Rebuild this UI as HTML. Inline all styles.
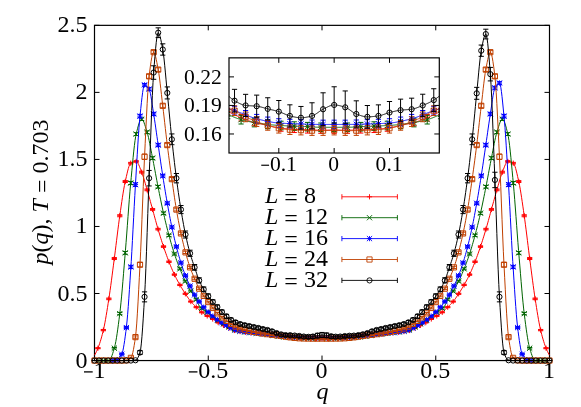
<!DOCTYPE html>
<html><head><meta charset="utf-8"><title>p(q)</title>
<style>html,body{margin:0;padding:0;background:#fff;}body{width:581px;height:407px;overflow:hidden;font-family:"Liberation Serif",serif;}svg{display:block;will-change:transform;}</style></head>
<body>
<svg width="581" height="407" viewBox="0 0 581 407">
<defs>
<clipPath id="ci"><rect x="229.0" y="57.85" width="210.3" height="95.15"/></clipPath>
</defs>
<rect width="581" height="407" fill="#fff"/>
<path d="M94.5 360.55h5.0M549.5 360.55h-5.0M94.5 293.51h5.0M549.5 293.51h-5.0M94.5 226.47h5.0M549.5 226.47h-5.0M94.5 159.43h5.0M549.5 159.43h-5.0M94.5 92.39h5.0M549.5 92.39h-5.0M94.5 25.35h5.0M549.5 25.35h-5.0M94.50 360.55v-5.0M94.50 25.35v5.0M208.25 360.55v-5.0M208.25 25.35v5.0M322.00 360.55v-5.0M322.00 25.35v5.0M435.75 360.55v-5.0M435.75 25.35v5.0M549.50 360.55v-5.0M549.50 25.35v5.0" stroke="#000" stroke-width="1" fill="none"/>
<rect x="94.5" y="25.35" width="455.0" height="335.2" fill="none" stroke="#000" stroke-width="1.2"/>
<g font-family="Liberation Serif, serif" font-size="24" fill="#000"><text x="87.4" y="367.55" text-anchor="end">0</text>
<text x="87.4" y="300.51" text-anchor="end">0.5</text>
<text x="87.4" y="233.47" text-anchor="end">1</text>
<text x="87.4" y="166.43" text-anchor="end">1.5</text>
<text x="87.4" y="99.39" text-anchor="end">2</text>
<text x="87.4" y="32.35" text-anchor="end">2.5</text>
<text x="99.60" y="378.30" text-anchor="middle">1</text><path d="M84.00 371.90H92.70" stroke="#000" stroke-width="1.30" fill="none"/>
<text x="213.35" y="378.30" text-anchor="middle">0.5</text><path d="M188.75 371.90H197.45" stroke="#000" stroke-width="1.30" fill="none"/>
<text x="321.60" y="378.30" text-anchor="middle">0</text>
<text x="435.35" y="378.30" text-anchor="middle">0.5</text>
<text x="549.10" y="378.30" text-anchor="middle">1</text>
<text x="322.5" y="399.0" text-anchor="middle" font-style="italic">q</text>
<text transform="translate(48.4 192) rotate(-90)" text-anchor="middle"><tspan font-style="italic">p</tspan>(<tspan font-style="italic">q</tspan>), <tspan font-style="italic">T</tspan> <tspan dy="1.8">=</tspan><tspan dy="-1.8"> 0.703</tspan></text></g>
<path d="M94.50 355.19L95.15 354.11L95.80 352.91L96.45 351.59L97.10 350.16L97.75 348.62L97.92 348.21L98.40 346.98L99.05 345.22L99.70 343.33L100.35 341.31L101.00 339.16L101.65 336.87L102.30 334.45L102.95 331.89L103.38 330.11L103.60 329.18L104.25 326.17L104.90 322.86L105.55 319.30L106.20 315.52L106.85 311.58L107.50 307.51L108.15 303.36L108.80 299.18L108.85 298.87L109.45 294.88L110.10 290.37L110.75 285.67L111.40 280.84L112.05 275.90L112.70 270.91L113.35 265.89L114.00 260.90L114.31 258.52L114.65 255.92L115.30 250.81L115.95 245.58L116.60 240.30L117.25 235.03L117.90 229.83L118.55 224.76L119.20 219.88L119.78 215.74L119.85 215.24L120.50 210.69L121.15 206.14L121.80 201.65L122.45 197.28L123.10 193.11L123.75 189.20L124.40 185.62L125.05 182.42L125.24 181.55L125.70 179.53L126.35 176.63L127.00 173.77L127.65 171.05L128.30 168.59L128.95 166.46L129.60 164.77L130.25 163.62L130.71 163.18L130.90 163.07L131.55 162.72L132.20 162.41L132.85 162.13L133.50 161.90L134.15 161.71L134.80 161.57L135.45 161.48L136.10 161.44L136.17 161.44L136.75 161.64L137.40 162.30L138.05 163.33L138.70 164.66L139.35 166.21L140.00 167.89L140.65 169.62L141.30 171.32L141.64 172.17L141.95 172.95L142.60 174.74L143.25 176.69L143.90 178.78L144.55 180.97L145.20 183.22L145.85 185.50L146.50 187.78L147.11 189.87L147.15 190.02L147.80 192.26L148.45 194.54L149.10 196.86L149.75 199.20L150.40 201.56L151.05 203.93L151.70 206.29L152.35 208.65L152.57 209.44L153.00 210.99L153.65 213.36L154.30 215.75L154.95 218.14L155.60 220.52L156.25 222.88L156.90 225.21L157.55 227.49L158.04 229.15L158.20 229.71L158.85 231.89L159.50 234.04L160.15 236.16L160.80 238.25L161.45 240.31L162.10 242.34L162.75 244.33L163.40 246.28L163.50 246.58L164.05 248.20L164.70 250.09L165.35 251.96L166.00 253.79L166.65 255.59L167.30 257.36L167.95 259.10L168.60 260.79L168.97 261.73L169.25 262.45L169.90 264.09L170.55 265.70L171.20 267.28L171.85 268.83L172.50 270.35L173.15 271.82L173.80 273.26L174.43 274.60L174.45 274.64L175.10 275.98L175.75 277.29L176.40 278.55L177.05 279.79L177.70 281.00L178.35 282.19L179.00 283.35L179.65 284.50L179.90 284.93L180.30 285.63L180.95 286.73L181.60 287.82L182.25 288.89L182.90 289.94L183.55 290.98L184.20 291.99L184.85 293.00L185.36 293.78L185.50 293.99L186.15 294.97L186.80 295.96L187.45 296.93L188.10 297.89L188.75 298.82L189.40 299.72L190.05 300.59L190.70 301.40L190.83 301.55L191.35 302.16L192.00 302.89L192.65 303.59L193.30 304.25L193.95 304.90L194.60 305.54L195.25 306.17L195.90 306.80L196.29 307.19L196.55 307.44L197.20 308.08L197.85 308.72L198.50 309.36L199.15 309.99L199.80 310.60L200.45 311.19L201.10 311.75L201.75 312.27L201.76 312.28L202.40 312.76L203.05 313.23L203.70 313.68L204.35 314.11L205.00 314.53L205.65 314.94L206.30 315.34L206.95 315.73L207.23 315.90L207.60 316.13L208.25 316.50L208.90 316.87L209.55 317.22L210.20 317.57L210.85 317.93L211.50 318.29L212.15 318.66L212.69 318.99L212.80 319.05L213.45 319.47L214.10 319.90L214.75 320.35L215.40 320.80L216.05 321.25L216.70 321.67L217.35 322.07L218.00 322.45L218.16 322.54L218.65 322.81L219.30 323.17L219.95 323.53L220.60 323.87L221.25 324.21L221.90 324.54L222.55 324.87L223.20 325.19L223.62 325.40L223.85 325.51L224.50 325.83L225.15 326.14L225.80 326.45L226.45 326.76L227.10 327.08L227.75 327.40L228.40 327.74L229.05 328.07L229.09 328.09L229.70 328.41L230.35 328.74L231.00 329.06L231.65 329.37L232.30 329.67L232.95 329.95L233.60 330.20L234.25 330.43L234.55 330.52L234.90 330.62L235.55 330.78L236.20 330.92L236.85 331.05L237.50 331.17L238.15 331.28L238.80 331.38L239.45 331.48L240.02 331.56L240.10 331.57L240.75 331.65L241.40 331.74L242.05 331.82L242.70 331.89L243.35 331.97L244.00 332.05L244.65 332.13L245.30 332.20L245.48 332.22L245.95 332.28L246.60 332.35L247.25 332.42L247.90 332.48L248.55 332.55L249.20 332.62L249.85 332.68L250.50 332.74L250.95 332.79L251.15 332.81L251.80 332.87L252.45 332.93L253.10 333.00L253.75 333.06L254.40 333.13L255.05 333.20L255.70 333.26L256.35 333.33L256.41 333.33L257.00 333.39L257.65 333.46L258.30 333.53L258.95 333.59L259.60 333.66L260.25 333.72L260.90 333.79L261.55 333.86L261.88 333.90L262.20 333.93L262.85 334.00L263.50 334.07L264.15 334.15L264.80 334.22L265.45 334.29L266.10 334.37L266.75 334.44L267.35 334.51L267.40 334.52L268.05 334.60L268.70 334.67L269.35 334.75L270.00 334.83L270.65 334.91L271.30 334.99L271.95 335.07L272.60 335.16L272.81 335.19L273.25 335.24L273.90 335.33L274.55 335.42L275.20 335.50L275.85 335.59L276.50 335.68L277.15 335.78L277.80 335.87L278.28 335.94L278.45 335.97L279.10 336.06L279.75 336.17L280.40 336.27L281.05 336.38L281.70 336.49L282.35 336.60L283.00 336.70L283.65 336.80L283.74 336.81L284.30 336.89L284.95 336.98L285.60 337.07L286.25 337.15L286.90 337.23L287.55 337.31L288.20 337.38L288.85 337.45L289.21 337.49L289.50 337.51L290.15 337.57L290.80 337.62L291.45 337.67L292.10 337.71L292.75 337.76L293.40 337.80L294.05 337.84L294.67 337.89L294.70 337.89L295.35 337.94L296.00 337.99L296.65 338.05L297.30 338.10L297.95 338.15L298.60 338.19L299.25 338.23L299.90 338.25L300.14 338.26L300.55 338.28L301.20 338.31L301.85 338.33L302.50 338.35L303.15 338.38L303.80 338.40L304.45 338.42L305.10 338.43L305.60 338.45L305.75 338.45L306.40 338.46L307.05 338.47L307.70 338.49L308.35 338.49L309.00 338.50L309.65 338.51L310.30 338.52L310.95 338.52L311.07 338.52L311.60 338.53L312.25 338.54L312.90 338.54L313.55 338.55L314.20 338.55L314.85 338.55L315.50 338.56L316.15 338.56L316.53 338.56L316.80 338.56L317.45 338.56L318.10 338.56L318.75 338.56L319.40 338.56L320.05 338.56L320.70 338.56L321.35 338.56L322.00 338.56L322.65 338.56L323.30 338.56L323.95 338.56L324.60 338.56L325.25 338.56L325.90 338.56L326.55 338.56L327.20 338.56L327.47 338.56L327.85 338.56L328.50 338.56L329.15 338.55L329.80 338.55L330.45 338.55L331.10 338.54L331.75 338.54L332.40 338.53L332.93 338.52L333.05 338.52L333.70 338.52L334.35 338.51L335.00 338.50L335.65 338.49L336.30 338.49L336.95 338.47L337.60 338.46L338.25 338.45L338.40 338.45L338.90 338.43L339.55 338.42L340.20 338.40L340.85 338.38L341.50 338.35L342.15 338.33L342.80 338.31L343.45 338.28L343.86 338.26L344.10 338.25L344.75 338.23L345.40 338.19L346.05 338.15L346.70 338.10L347.35 338.05L348.00 337.99L348.65 337.94L349.30 337.89L349.33 337.89L349.95 337.84L350.60 337.80L351.25 337.76L351.90 337.71L352.55 337.67L353.20 337.62L353.85 337.57L354.50 337.51L354.79 337.49L355.15 337.45L355.80 337.38L356.45 337.31L357.10 337.23L357.75 337.15L358.40 337.07L359.05 336.98L359.70 336.89L360.26 336.81L360.35 336.80L361.00 336.70L361.65 336.60L362.30 336.49L362.95 336.38L363.60 336.27L364.25 336.17L364.90 336.06L365.55 335.97L365.72 335.94L366.20 335.87L366.85 335.78L367.50 335.68L368.15 335.59L368.80 335.50L369.45 335.42L370.10 335.33L370.75 335.24L371.19 335.19L371.40 335.16L372.05 335.07L372.70 334.99L373.35 334.91L374.00 334.83L374.65 334.75L375.30 334.67L375.95 334.60L376.60 334.52L376.65 334.51L377.25 334.44L377.90 334.37L378.55 334.29L379.20 334.22L379.85 334.15L380.50 334.07L381.15 334.00L381.80 333.93L382.12 333.90L382.45 333.86L383.10 333.79L383.75 333.72L384.40 333.66L385.05 333.59L385.70 333.53L386.35 333.46L387.00 333.39L387.59 333.33L387.65 333.33L388.30 333.26L388.95 333.20L389.60 333.13L390.25 333.06L390.90 333.00L391.55 332.93L392.20 332.87L392.85 332.81L393.05 332.79L393.50 332.74L394.15 332.68L394.80 332.62L395.45 332.55L396.10 332.48L396.75 332.42L397.40 332.35L398.05 332.28L398.52 332.22L398.70 332.20L399.35 332.13L400.00 332.05L400.65 331.97L401.30 331.89L401.95 331.82L402.60 331.74L403.25 331.65L403.90 331.57L403.98 331.56L404.55 331.48L405.20 331.38L405.85 331.28L406.50 331.17L407.15 331.05L407.80 330.92L408.45 330.78L409.10 330.62L409.45 330.52L409.75 330.43L410.40 330.20L411.05 329.95L411.70 329.67L412.35 329.37L413.00 329.06L413.65 328.74L414.30 328.41L414.91 328.09L414.95 328.07L415.60 327.74L416.25 327.40L416.90 327.08L417.55 326.76L418.20 326.45L418.85 326.14L419.50 325.83L420.15 325.51L420.38 325.40L420.80 325.19L421.45 324.87L422.10 324.54L422.75 324.21L423.40 323.87L424.05 323.53L424.70 323.17L425.35 322.81L425.84 322.54L426.00 322.45L426.65 322.07L427.30 321.67L427.95 321.25L428.60 320.80L429.25 320.35L429.90 319.90L430.55 319.47L431.20 319.05L431.31 318.99L431.85 318.66L432.50 318.29L433.15 317.93L433.80 317.57L434.45 317.22L435.10 316.87L435.75 316.50L436.40 316.13L436.77 315.90L437.05 315.73L437.70 315.34L438.35 314.94L439.00 314.53L439.65 314.11L440.30 313.68L440.95 313.23L441.60 312.76L442.24 312.28L442.25 312.27L442.90 311.75L443.55 311.19L444.20 310.60L444.85 309.99L445.50 309.36L446.15 308.72L446.80 308.08L447.45 307.44L447.71 307.19L448.10 306.80L448.75 306.17L449.40 305.54L450.05 304.90L450.70 304.25L451.35 303.59L452.00 302.89L452.65 302.16L453.17 301.55L453.30 301.40L453.95 300.59L454.60 299.72L455.25 298.82L455.90 297.89L456.55 296.93L457.20 295.96L457.85 294.97L458.50 293.99L458.64 293.78L459.15 293.00L459.80 291.99L460.45 290.98L461.10 289.94L461.75 288.89L462.40 287.82L463.05 286.73L463.70 285.63L464.10 284.93L464.35 284.50L465.00 283.35L465.65 282.19L466.30 281.00L466.95 279.79L467.60 278.55L468.25 277.29L468.90 275.98L469.55 274.64L469.57 274.60L470.20 273.26L470.85 271.82L471.50 270.35L472.15 268.83L472.80 267.28L473.45 265.70L474.10 264.09L474.75 262.45L475.03 261.73L475.40 260.79L476.05 259.10L476.70 257.36L477.35 255.59L478.00 253.79L478.65 251.96L479.30 250.09L479.95 248.20L480.50 246.58L480.60 246.28L481.25 244.33L481.90 242.34L482.55 240.31L483.20 238.25L483.85 236.16L484.50 234.04L485.15 231.89L485.80 229.71L485.96 229.15L486.45 227.49L487.10 225.21L487.75 222.88L488.40 220.52L489.05 218.14L489.70 215.75L490.35 213.36L491.00 210.99L491.43 209.44L491.65 208.65L492.30 206.29L492.95 203.93L493.60 201.56L494.25 199.20L494.90 196.86L495.55 194.54L496.20 192.26L496.85 190.02L496.89 189.87L497.50 187.78L498.15 185.50L498.80 183.22L499.45 180.97L500.10 178.78L500.75 176.69L501.40 174.74L502.05 172.95L502.36 172.17L502.70 171.32L503.35 169.62L504.00 167.89L504.65 166.21L505.30 164.66L505.95 163.33L506.60 162.30L507.25 161.64L507.83 161.44L507.90 161.44L508.55 161.48L509.20 161.57L509.85 161.71L510.50 161.90L511.15 162.13L511.80 162.41L512.45 162.72L513.10 163.07L513.29 163.18L513.75 163.62L514.40 164.77L515.05 166.46L515.70 168.59L516.35 171.05L517.00 173.77L517.65 176.63L518.30 179.53L518.76 181.55L518.95 182.42L519.60 185.62L520.25 189.20L520.90 193.11L521.55 197.28L522.20 201.65L522.85 206.14L523.50 210.69L524.15 215.24L524.22 215.74L524.80 219.88L525.45 224.76L526.10 229.83L526.75 235.03L527.40 240.30L528.05 245.58L528.70 250.81L529.35 255.92L529.69 258.52L530.00 260.90L530.65 265.89L531.30 270.91L531.95 275.90L532.60 280.84L533.25 285.67L533.90 290.37L534.55 294.88L535.15 298.87L535.20 299.18L535.85 303.36L536.50 307.51L537.15 311.58L537.80 315.52L538.45 319.30L539.10 322.86L539.75 326.17L540.40 329.18L540.62 330.11L541.05 331.89L541.70 334.45L542.35 336.87L543.00 339.16L543.65 341.31L544.30 343.33L544.95 345.22L545.60 346.98L546.08 348.21L546.25 348.62L546.90 350.16L547.55 351.59L548.20 352.91L548.85 354.11L549.50 355.19" fill="none" stroke="#ff0000" stroke-width="1.0" stroke-linejoin="round"/>
<path d="M97.92 347.67V348.75M95.32 347.67H100.52M95.32 348.75H100.52M103.38 329.46V330.77M100.78 329.46H105.98M100.78 330.77H105.98M108.85 298.05V299.69M106.25 298.05H111.45M106.25 299.69H111.45M114.31 257.56V259.47M111.71 257.56H116.91M111.71 259.47H116.91M119.78 214.74V216.75M117.18 214.74H122.38M117.18 216.75H122.38M125.24 180.59V182.51M122.64 180.59H127.84M122.64 182.51H127.84M130.71 162.36V164.01M128.11 162.36H133.31M128.11 164.01H133.31M136.17 160.64V162.24M133.57 160.64H138.77M133.57 162.24H138.77M141.64 171.28V173.06M139.04 171.28H144.24M139.04 173.06H144.24M147.11 188.97V190.76M144.51 188.97H149.71M144.51 190.76H149.71M152.57 208.57V210.31M149.97 208.57H155.17M149.97 210.31H155.17M158.04 228.33V229.97M155.44 228.33H160.64M155.44 229.97H160.64M163.50 245.82V247.35M160.90 245.82H166.10M160.90 247.35H166.10M168.97 261.02V262.45M166.37 261.02H171.57M166.37 262.45H171.57M174.43 273.94V275.27M171.83 273.94H177.03M171.83 275.27H177.03M179.90 284.30V285.56M177.30 284.30H182.50M177.30 285.56H182.50M185.36 293.17V294.38M182.76 293.17H187.96M182.76 294.38H187.96M190.83 300.98V302.13M188.23 300.98H193.43M188.23 302.13H193.43M196.29 306.63V307.74M193.69 306.63H198.89M193.69 307.74H198.89M201.76 311.75V312.82M199.16 311.75H204.36M199.16 312.82H204.36M207.23 315.38V316.42M204.63 315.38H209.83M204.63 316.42H209.83M212.69 318.47V319.50M210.09 318.47H215.29M210.09 319.50H215.29M218.16 322.03V323.04M215.56 322.03H220.76M215.56 323.04H220.76M223.62 324.91V325.89M221.02 324.91H226.22M221.02 325.89H226.22M229.09 327.60V328.58M226.49 327.60H231.69M226.49 328.58H231.69M234.55 330.05V331.00M231.95 330.05H237.15M231.95 331.00H237.15M240.02 331.09V332.02M237.42 331.09H242.62M237.42 332.02H242.62M245.48 331.76V332.69M242.88 331.76H248.08M242.88 332.69H248.08M250.95 332.32V333.25M248.35 332.32H253.55M248.35 333.25H253.55M256.41 332.87V333.80M253.81 332.87H259.01M253.81 333.80H259.01M261.88 333.44V334.36M259.28 333.44H264.48M259.28 334.36H264.48M267.35 334.05V334.97M264.75 334.05H269.95M264.75 334.97H269.95M272.81 334.73V335.64M270.21 334.73H275.41M270.21 335.64H275.41M278.28 335.48V336.40M275.68 335.48H280.88M275.68 336.40H280.88M283.74 336.36V337.27M281.14 336.36H286.34M281.14 337.27H286.34M289.21 337.03V337.94M286.61 337.03H291.81M286.61 337.94H291.81M294.67 337.44V338.34M292.07 337.44H297.27M292.07 338.34H297.27M300.14 337.82V338.71M297.54 337.82H302.74M297.54 338.71H302.74M305.60 338.00V338.89M303.00 338.00H308.20M303.00 338.89H308.20M311.07 338.08V338.97M308.47 338.08H313.67M308.47 338.97H313.67M316.53 338.11V339.01M313.93 338.11H319.13M313.93 339.01H319.13M322.00 338.11V339.01M319.40 338.11H324.60M319.40 339.01H324.60M327.47 338.11V339.01M324.87 338.11H330.07M324.87 339.01H330.07M332.93 338.08V338.97M330.33 338.08H335.53M330.33 338.97H335.53M338.40 338.00V338.89M335.80 338.00H341.00M335.80 338.89H341.00M343.86 337.82V338.71M341.26 337.82H346.46M341.26 338.71H346.46M349.33 337.44V338.34M346.73 337.44H351.93M346.73 338.34H351.93M354.79 337.03V337.94M352.19 337.03H357.39M352.19 337.94H357.39M360.26 336.36V337.27M357.66 336.36H362.86M357.66 337.27H362.86M365.72 335.48V336.40M363.12 335.48H368.32M363.12 336.40H368.32M371.19 334.73V335.64M368.59 334.73H373.79M368.59 335.64H373.79M376.65 334.05V334.97M374.05 334.05H379.25M374.05 334.97H379.25M382.12 333.44V334.36M379.52 333.44H384.72M379.52 334.36H384.72M387.59 332.87V333.80M384.99 332.87H390.19M384.99 333.80H390.19M393.05 332.32V333.25M390.45 332.32H395.65M390.45 333.25H395.65M398.52 331.76V332.69M395.92 331.76H401.12M395.92 332.69H401.12M403.98 331.09V332.02M401.38 331.09H406.58M401.38 332.02H406.58M409.45 330.05V331.00M406.85 330.05H412.05M406.85 331.00H412.05M414.91 327.60V328.58M412.31 327.60H417.51M412.31 328.58H417.51M420.38 324.91V325.89M417.78 324.91H422.98M417.78 325.89H422.98M425.84 322.03V323.04M423.24 322.03H428.44M423.24 323.04H428.44M431.31 318.47V319.50M428.71 318.47H433.91M428.71 319.50H433.91M436.77 315.38V316.42M434.17 315.38H439.37M434.17 316.42H439.37M442.24 311.75V312.82M439.64 311.75H444.84M439.64 312.82H444.84M447.71 306.63V307.74M445.11 306.63H450.31M445.11 307.74H450.31M453.17 300.98V302.13M450.57 300.98H455.77M450.57 302.13H455.77M458.64 293.17V294.38M456.04 293.17H461.24M456.04 294.38H461.24M464.10 284.30V285.56M461.50 284.30H466.70M461.50 285.56H466.70M469.57 273.94V275.27M466.97 273.94H472.17M466.97 275.27H472.17M475.03 261.02V262.45M472.43 261.02H477.63M472.43 262.45H477.63M480.50 245.82V247.35M477.90 245.82H483.10M477.90 247.35H483.10M485.96 228.33V229.97M483.36 228.33H488.56M483.36 229.97H488.56M491.43 208.57V210.31M488.83 208.57H494.03M488.83 210.31H494.03M496.89 188.97V190.76M494.29 188.97H499.49M494.29 190.76H499.49M502.36 171.28V173.06M499.76 171.28H504.96M499.76 173.06H504.96M507.83 160.64V162.24M505.23 160.64H510.43M505.23 162.24H510.43M513.29 162.36V164.01M510.69 162.36H515.89M510.69 164.01H515.89M518.76 180.59V182.51M516.16 180.59H521.36M516.16 182.51H521.36M524.22 214.74V216.75M521.62 214.74H526.82M521.62 216.75H526.82M529.69 257.56V259.47M527.09 257.56H532.29M527.09 259.47H532.29M535.15 298.05V299.69M532.55 298.05H537.75M532.55 299.69H537.75M540.62 329.46V330.77M538.02 329.46H543.22M538.02 330.77H543.22M546.08 347.67V348.75M543.48 347.67H548.68M543.48 348.75H548.68" fill="none" stroke="#ff0000" stroke-width="1.0"/>
<path d="M95.32 348.21H100.52M97.92 345.61V350.81M100.78 330.11H105.98M103.38 327.51V332.71M106.25 298.87H111.45M108.85 296.27V301.47M111.71 258.52H116.91M114.31 255.92V261.12M117.18 215.74H122.38M119.78 213.14V218.34M122.64 181.55H127.84M125.24 178.95V184.15M128.11 163.18H133.31M130.71 160.58V165.78M133.57 161.44H138.77M136.17 158.84V164.04M139.04 172.17H144.24M141.64 169.57V174.77M144.51 189.87H149.71M147.11 187.27V192.47M149.97 209.44H155.17M152.57 206.84V212.04M155.44 229.15H160.64M158.04 226.55V231.75M160.90 246.58H166.10M163.50 243.98V249.18M166.37 261.73H171.57M168.97 259.13V264.33M171.83 274.60H177.03M174.43 272.00V277.20M177.30 284.93H182.50M179.90 282.33V287.53M182.76 293.78H187.96M185.36 291.18V296.38M188.23 301.55H193.43M190.83 298.95V304.15M193.69 307.19H198.89M196.29 304.59V309.79M199.16 312.28H204.36M201.76 309.68V314.88M204.63 315.90H209.83M207.23 313.30V318.50M210.09 318.99H215.29M212.69 316.39V321.59M215.56 322.54H220.76M218.16 319.94V325.14M221.02 325.40H226.22M223.62 322.80V328.00M226.49 328.09H231.69M229.09 325.49V330.69M231.95 330.52H237.15M234.55 327.92V333.12M237.42 331.56H242.62M240.02 328.96V334.16M242.88 332.22H248.08M245.48 329.62V334.82M248.35 332.79H253.55M250.95 330.19V335.39M253.81 333.33H259.01M256.41 330.73V335.93M259.28 333.90H264.48M261.88 331.30V336.50M264.75 334.51H269.95M267.35 331.91V337.11M270.21 335.19H275.41M272.81 332.59V337.79M275.68 335.94H280.88M278.28 333.34V338.54M281.14 336.81H286.34M283.74 334.21V339.41M286.61 337.49H291.81M289.21 334.89V340.09M292.07 337.89H297.27M294.67 335.29V340.49M297.54 338.26H302.74M300.14 335.66V340.86M303.00 338.45H308.20M305.60 335.85V341.05M308.47 338.52H313.67M311.07 335.92V341.12M313.93 338.56H319.13M316.53 335.96V341.16M319.40 338.56H324.60M322.00 335.96V341.16M324.87 338.56H330.07M327.47 335.96V341.16M330.33 338.52H335.53M332.93 335.92V341.12M335.80 338.45H341.00M338.40 335.85V341.05M341.26 338.26H346.46M343.86 335.66V340.86M346.73 337.89H351.93M349.33 335.29V340.49M352.19 337.49H357.39M354.79 334.89V340.09M357.66 336.81H362.86M360.26 334.21V339.41M363.12 335.94H368.32M365.72 333.34V338.54M368.59 335.19H373.79M371.19 332.59V337.79M374.05 334.51H379.25M376.65 331.91V337.11M379.52 333.90H384.72M382.12 331.30V336.50M384.99 333.33H390.19M387.59 330.73V335.93M390.45 332.79H395.65M393.05 330.19V335.39M395.92 332.22H401.12M398.52 329.62V334.82M401.38 331.56H406.58M403.98 328.96V334.16M406.85 330.52H412.05M409.45 327.92V333.12M412.31 328.09H417.51M414.91 325.49V330.69M417.78 325.40H422.98M420.38 322.80V328.00M423.24 322.54H428.44M425.84 319.94V325.14M428.71 318.99H433.91M431.31 316.39V321.59M434.17 315.90H439.37M436.77 313.30V318.50M439.64 312.28H444.84M442.24 309.68V314.88M445.11 307.19H450.31M447.71 304.59V309.79M450.57 301.55H455.77M453.17 298.95V304.15M456.04 293.78H461.24M458.64 291.18V296.38M461.50 284.93H466.70M464.10 282.33V287.53M466.97 274.60H472.17M469.57 272.00V277.20M472.43 261.73H477.63M475.03 259.13V264.33M477.90 246.58H483.10M480.50 243.98V249.18M483.36 229.15H488.56M485.96 226.55V231.75M488.83 209.44H494.03M491.43 206.84V212.04M494.29 189.87H499.49M496.89 187.27V192.47M499.76 172.17H504.96M502.36 169.57V174.77M505.23 161.44H510.43M507.83 158.84V164.04M510.69 163.18H515.89M513.29 160.58V165.78M516.16 181.55H521.36M518.76 178.95V184.15M521.62 215.74H526.82M524.22 213.14V218.34M527.09 258.52H532.29M529.69 255.92V261.12M532.55 298.87H537.75M535.15 296.27V301.47M538.02 330.11H543.22M540.62 327.51V332.71M543.48 348.21H548.68M546.08 345.61V350.81" fill="none" stroke="#ff0000" stroke-width="1.0"/>
<path d="M97.92 360.55L98.56 360.55L99.20 360.55L99.84 360.55L100.48 360.55L101.12 360.55L101.76 360.55L102.40 360.55L103.04 360.55L103.38 360.55L103.68 360.55L104.32 360.55L104.96 360.55L105.60 360.55L106.24 360.55L106.88 360.55L107.52 360.55L108.16 360.55L108.80 360.55L108.85 360.55L109.44 360.34L110.08 359.67L110.72 358.60L111.36 357.20L112.00 355.53L112.64 353.65L113.28 351.62L113.92 349.51L114.31 348.21L114.56 347.34L115.20 344.66L115.84 341.45L116.48 337.75L117.12 333.63L117.76 329.17L118.40 324.43L119.04 319.48L119.68 314.38L119.78 313.62L120.32 308.94L120.96 302.81L121.61 296.10L122.25 288.94L122.89 281.44L123.53 273.73L124.17 265.92L124.81 258.13L125.24 252.88L125.45 250.44L126.09 242.40L126.73 233.97L127.37 225.31L128.01 216.60L128.65 208.01L129.29 199.68L129.93 191.80L130.57 184.53L130.71 183.03L131.21 177.70L131.85 170.80L132.49 163.94L133.13 157.32L133.77 151.08L134.41 145.42L135.05 140.48L135.69 136.44L136.17 134.09L136.33 133.44L136.97 130.81L137.61 128.28L138.25 125.94L138.89 123.84L139.53 122.05L140.17 120.65L140.81 119.68L141.45 119.23L141.64 119.21L142.09 119.35L142.73 120.00L143.37 121.11L144.01 122.59L144.65 124.35L145.29 126.31L145.93 128.39L146.57 130.50L147.11 132.21L147.21 132.56L147.85 134.86L148.50 137.52L149.14 140.45L149.78 143.60L150.42 146.89L151.06 150.25L151.70 153.61L152.34 156.91L152.57 158.09L152.98 160.13L153.62 163.43L154.26 166.80L154.90 170.22L155.54 173.66L156.18 177.09L156.82 180.49L157.46 183.83L158.04 186.78L158.10 187.10L158.74 190.32L159.38 193.53L160.02 196.72L160.66 199.88L161.30 203.00L161.94 206.05L162.58 209.04L163.22 211.95L163.50 213.20L163.86 214.77L164.50 217.53L165.14 220.24L165.78 222.89L166.42 225.49L167.06 228.04L167.70 230.54L168.34 232.98L168.97 235.32L168.98 235.38L169.62 237.73L170.26 240.05L170.90 242.33L171.54 244.56L172.18 246.74L172.82 248.88L173.46 250.95L174.10 252.95L174.43 253.96L174.74 254.90L175.39 256.78L176.03 258.62L176.67 260.41L177.31 262.16L177.95 263.87L178.59 265.53L179.23 267.16L179.87 268.76L179.90 268.84L180.51 270.33L181.15 271.87L181.79 273.38L182.43 274.86L183.07 276.30L183.71 277.71L184.35 279.08L184.99 280.41L185.36 281.17L185.63 281.71L186.27 282.96L186.91 284.19L187.55 285.38L188.19 286.55L188.83 287.69L189.47 288.80L190.11 289.90L190.75 290.97L190.83 291.10L191.39 292.00L192.03 292.96L192.67 293.89L193.31 294.79L193.95 295.70L194.59 296.63L195.23 297.61L195.87 298.67L196.29 299.41L196.51 299.83L197.15 301.28L197.79 302.86L198.43 304.34L199.07 305.48L199.71 306.27L200.35 306.98L200.99 307.63L201.63 308.23L201.76 308.34L202.28 308.77L202.92 309.27L203.56 309.74L204.20 310.18L204.84 310.61L205.48 311.03L206.12 311.45L206.76 311.88L207.23 312.20L207.40 312.32L208.04 312.79L208.68 313.28L209.32 313.77L209.96 314.26L210.60 314.75L211.24 315.24L211.88 315.72L212.52 316.20L212.69 316.33L213.16 316.67L213.80 317.14L214.44 317.61L215.08 318.07L215.72 318.52L216.36 318.97L217.00 319.42L217.64 319.85L218.16 320.20L218.28 320.29L218.92 320.72L219.56 321.14L220.20 321.56L220.84 321.98L221.48 322.39L222.12 322.80L222.76 323.20L223.40 323.60L223.62 323.73L224.04 323.99L224.68 324.38L225.32 324.76L225.96 325.14L226.60 325.51L227.24 325.89L227.88 326.28L228.53 326.68L229.09 327.03L229.17 327.07L229.81 327.47L230.45 327.86L231.09 328.24L231.73 328.60L232.37 328.95L233.01 329.27L233.65 329.57L234.29 329.83L234.55 329.93L234.93 330.06L235.57 330.25L236.21 330.42L236.85 330.57L237.49 330.71L238.13 330.84L238.77 330.96L239.41 331.08L240.02 331.18L240.05 331.18L240.69 331.29L241.33 331.39L241.97 331.48L242.61 331.57L243.25 331.66L243.89 331.75L244.53 331.84L245.17 331.93L245.48 331.97L245.81 332.01L246.45 332.10L247.09 332.18L247.73 332.25L248.37 332.33L249.01 332.40L249.65 332.47L250.29 332.54L250.93 332.61L250.95 332.61L251.57 332.68L252.21 332.75L252.85 332.83L253.49 332.90L254.13 332.97L254.77 333.05L255.42 333.12L256.06 333.20L256.41 333.24L256.70 333.27L257.34 333.35L257.98 333.42L258.62 333.49L259.26 333.57L259.90 333.64L260.54 333.72L261.18 333.80L261.82 333.87L261.88 333.88L262.46 333.95L263.10 334.03L263.74 334.11L264.38 334.19L265.02 334.27L265.66 334.35L266.30 334.43L266.94 334.51L267.35 334.57L267.58 334.60L268.22 334.68L268.86 334.77L269.50 334.85L270.14 334.94L270.78 335.04L271.42 335.13L272.06 335.23L272.70 335.33L272.81 335.35L273.34 335.44L273.98 335.55L274.62 335.67L275.26 335.79L275.90 335.92L276.54 336.03L277.18 336.15L277.82 336.26L278.28 336.34L278.46 336.37L279.10 336.47L279.74 336.56L280.38 336.66L281.02 336.75L281.66 336.84L282.31 336.92L282.95 337.00L283.59 337.07L283.74 337.08L284.23 337.13L284.87 337.18L285.51 337.24L286.15 337.29L286.79 337.33L287.43 337.38L288.07 337.42L288.71 337.46L289.21 337.49L289.35 337.49L289.99 337.53L290.63 337.57L291.27 337.60L291.91 337.63L292.55 337.67L293.19 337.70L293.83 337.72L294.47 337.75L294.67 337.76L295.11 337.77L295.75 337.79L296.39 337.81L297.03 337.83L297.67 337.85L298.31 337.87L298.95 337.88L299.59 337.90L300.14 337.91L300.23 337.91L300.87 337.92L301.51 337.93L302.15 337.94L302.79 337.95L303.43 337.96L304.07 337.97L304.71 337.98L305.35 337.98L305.60 337.99L305.99 337.99L306.63 338.00L307.27 338.01L307.91 338.02L308.55 338.03L309.20 338.04L309.84 338.05L310.48 338.06L311.07 338.07L311.12 338.07L311.76 338.09L312.40 338.10L313.04 338.11L313.68 338.12L314.32 338.13L314.96 338.14L315.60 338.15L316.24 338.15L316.53 338.16L316.88 338.16L317.52 338.16L318.16 338.16L318.80 338.16L319.44 338.16L320.08 338.16L320.72 338.16L321.36 338.16L322.00 338.16L322.64 338.16L323.28 338.16L323.92 338.16L324.56 338.16L325.20 338.16L325.84 338.16L326.48 338.16L327.12 338.16L327.47 338.16L327.76 338.15L328.40 338.15L329.04 338.14L329.68 338.13L330.32 338.12L330.96 338.11L331.60 338.10L332.24 338.09L332.88 338.07L332.93 338.07L333.52 338.06L334.16 338.05L334.80 338.04L335.45 338.03L336.09 338.02L336.73 338.01L337.37 338.00L338.01 337.99L338.40 337.99L338.65 337.98L339.29 337.98L339.93 337.97L340.57 337.96L341.21 337.95L341.85 337.94L342.49 337.93L343.13 337.92L343.77 337.91L343.86 337.91L344.41 337.90L345.05 337.88L345.69 337.87L346.33 337.85L346.97 337.83L347.61 337.81L348.25 337.79L348.89 337.77L349.33 337.76L349.53 337.75L350.17 337.72L350.81 337.70L351.45 337.67L352.09 337.63L352.73 337.60L353.37 337.57L354.01 337.53L354.65 337.49L354.79 337.49L355.29 337.46L355.93 337.42L356.57 337.38L357.21 337.33L357.85 337.29L358.49 337.24L359.13 337.18L359.77 337.13L360.26 337.08L360.41 337.07L361.05 337.00L361.69 336.92L362.34 336.84L362.98 336.75L363.62 336.66L364.26 336.56L364.90 336.47L365.54 336.37L365.72 336.34L366.18 336.26L366.82 336.15L367.46 336.03L368.10 335.92L368.74 335.79L369.38 335.67L370.02 335.55L370.66 335.44L371.19 335.35L371.30 335.33L371.94 335.23L372.58 335.13L373.22 335.04L373.86 334.94L374.50 334.85L375.14 334.77L375.78 334.68L376.42 334.60L376.65 334.57L377.06 334.51L377.70 334.43L378.34 334.35L378.98 334.27L379.62 334.19L380.26 334.11L380.90 334.03L381.54 333.95L382.12 333.88L382.18 333.87L382.82 333.80L383.46 333.72L384.10 333.64L384.74 333.57L385.38 333.49L386.02 333.42L386.66 333.35L387.30 333.27L387.59 333.24L387.94 333.20L388.58 333.12L389.23 333.05L389.87 332.97L390.51 332.90L391.15 332.83L391.79 332.75L392.43 332.68L393.05 332.61L393.07 332.61L393.71 332.54L394.35 332.47L394.99 332.40L395.63 332.33L396.27 332.25L396.91 332.18L397.55 332.10L398.19 332.01L398.52 331.97L398.83 331.93L399.47 331.84L400.11 331.75L400.75 331.66L401.39 331.57L402.03 331.48L402.67 331.39L403.31 331.29L403.95 331.18L403.98 331.18L404.59 331.08L405.23 330.96L405.87 330.84L406.51 330.71L407.15 330.57L407.79 330.42L408.43 330.25L409.07 330.06L409.45 329.93L409.71 329.83L410.35 329.57L410.99 329.27L411.63 328.95L412.27 328.60L412.91 328.24L413.55 327.86L414.19 327.47L414.83 327.07L414.91 327.03L415.47 326.68L416.12 326.28L416.76 325.89L417.40 325.51L418.04 325.14L418.68 324.76L419.32 324.38L419.96 323.99L420.38 323.73L420.60 323.60L421.24 323.20L421.88 322.80L422.52 322.39L423.16 321.98L423.80 321.56L424.44 321.14L425.08 320.72L425.72 320.29L425.84 320.20L426.36 319.85L427.00 319.42L427.64 318.97L428.28 318.52L428.92 318.07L429.56 317.61L430.20 317.14L430.84 316.67L431.31 316.33L431.48 316.20L432.12 315.72L432.76 315.24L433.40 314.75L434.04 314.26L434.68 313.77L435.32 313.28L435.96 312.79L436.60 312.32L436.77 312.20L437.24 311.88L437.88 311.45L438.52 311.03L439.16 310.61L439.80 310.18L440.44 309.74L441.08 309.27L441.72 308.77L442.24 308.34L442.37 308.23L443.01 307.63L443.65 306.98L444.29 306.27L444.93 305.48L445.57 304.34L446.21 302.86L446.85 301.28L447.49 299.83L447.71 299.41L448.13 298.67L448.77 297.61L449.41 296.63L450.05 295.70L450.69 294.79L451.33 293.89L451.97 292.96L452.61 292.00L453.17 291.10L453.25 290.97L453.89 289.90L454.53 288.80L455.17 287.69L455.81 286.55L456.45 285.38L457.09 284.19L457.73 282.96L458.37 281.71L458.64 281.17L459.01 280.41L459.65 279.08L460.29 277.71L460.93 276.30L461.57 274.86L462.21 273.38L462.85 271.87L463.49 270.33L464.10 268.84L464.13 268.76L464.77 267.16L465.41 265.53L466.05 263.87L466.69 262.16L467.33 260.41L467.97 258.62L468.61 256.78L469.26 254.90L469.57 253.96L469.90 252.95L470.54 250.95L471.18 248.88L471.82 246.74L472.46 244.56L473.10 242.33L473.74 240.05L474.38 237.73L475.02 235.38L475.03 235.32L475.66 232.98L476.30 230.54L476.94 228.04L477.58 225.49L478.22 222.89L478.86 220.24L479.50 217.53L480.14 214.77L480.50 213.20L480.78 211.95L481.42 209.04L482.06 206.05L482.70 203.00L483.34 199.88L483.98 196.72L484.62 193.53L485.26 190.32L485.90 187.10L485.96 186.78L486.54 183.83L487.18 180.49L487.82 177.09L488.46 173.66L489.10 170.22L489.74 166.80L490.38 163.43L491.02 160.13L491.43 158.09L491.66 156.91L492.30 153.61L492.94 150.25L493.58 146.89L494.22 143.60L494.86 140.45L495.50 137.52L496.15 134.86L496.79 132.56L496.89 132.21L497.43 130.50L498.07 128.39L498.71 126.31L499.35 124.35L499.99 122.59L500.63 121.11L501.27 120.00L501.91 119.35L502.36 119.21L502.55 119.23L503.19 119.68L503.83 120.65L504.47 122.05L505.11 123.84L505.75 125.94L506.39 128.28L507.03 130.81L507.67 133.44L507.83 134.09L508.31 136.44L508.95 140.48L509.59 145.42L510.23 151.08L510.87 157.32L511.51 163.94L512.15 170.80L512.79 177.70L513.29 183.03L513.43 184.53L514.07 191.80L514.71 199.68L515.35 208.01L515.99 216.60L516.63 225.31L517.27 233.97L517.91 242.40L518.55 250.44L518.76 252.88L519.19 258.13L519.83 265.92L520.47 273.73L521.11 281.44L521.75 288.94L522.39 296.10L523.04 302.81L523.68 308.94L524.22 313.62L524.32 314.38L524.96 319.48L525.60 324.43L526.24 329.17L526.88 333.63L527.52 337.75L528.16 341.45L528.80 344.66L529.44 347.34L529.69 348.21L530.08 349.51L530.72 351.62L531.36 353.65L532.00 355.53L532.64 357.20L533.28 358.60L533.92 359.67L534.56 360.34L535.15 360.55L535.20 360.55L535.84 360.55L536.48 360.55L537.12 360.55L537.76 360.55L538.40 360.55L539.04 360.55L539.68 360.55L540.32 360.55L540.62 360.55L540.96 360.55L541.60 360.55L542.24 360.55L542.88 360.55L543.52 360.55L544.16 360.55L544.80 360.55L545.44 360.55L546.08 360.55" fill="none" stroke="#006400" stroke-width="1.0" stroke-linejoin="round"/>
<path d="M97.92 360.55V360.55M95.32 360.55H100.52M95.32 360.55H100.52M103.38 360.55V360.55M100.78 360.55H105.98M100.78 360.55H105.98M108.85 360.55V360.55M106.25 360.55H111.45M106.25 360.55H111.45M114.31 347.49V348.94M111.71 347.49H116.91M111.71 348.94H116.91M119.78 312.58V314.67M117.18 312.58H122.38M117.18 314.67H122.38M125.24 251.48V254.28M122.64 251.48H127.84M122.64 254.28H127.84M130.71 181.48V184.58M128.11 181.48H133.31M128.11 184.58H133.31M136.17 132.68V135.49M133.57 132.68H138.77M133.57 135.49H138.77M141.64 117.95V120.47M139.04 117.95H144.24M139.04 120.47H144.24M147.11 130.85V133.58M144.51 130.85H149.71M144.51 133.58H149.71M152.57 156.72V159.46M149.97 156.72H155.17M149.97 159.46H155.17M158.04 185.50V188.07M155.44 185.50H160.64M155.44 188.07H160.64M163.50 212.02V214.37M160.90 212.02H166.10M160.90 214.37H166.10M168.97 234.24V236.40M166.37 234.24H171.57M166.37 236.40H171.57M174.43 252.96V254.95M171.83 252.96H177.03M171.83 254.95H177.03M179.90 267.92V269.76M177.30 267.92H182.50M177.30 269.76H182.50M185.36 280.31V282.04M182.76 280.31H187.96M182.76 282.04H187.96M190.83 290.28V291.92M188.23 290.28H193.43M188.23 291.92H193.43M196.29 298.61V300.21M193.69 298.61H198.89M193.69 300.21H198.89M201.76 307.60V309.07M199.16 307.60H204.36M199.16 309.07H204.36M207.23 311.49V312.91M204.63 311.49H209.83M204.63 312.91H209.83M212.69 315.62V317.03M210.09 315.62H215.29M210.09 317.03H215.29M218.16 319.51V320.89M215.56 319.51H220.76M215.56 320.89H220.76M223.62 323.06V324.41M221.02 323.06H226.22M221.02 324.41H226.22M229.09 326.36V327.69M226.49 326.36H231.69M226.49 327.69H231.69M234.55 329.29V330.58M231.95 329.29H237.15M231.95 330.58H237.15M240.02 330.55V331.81M237.42 330.55H242.62M237.42 331.81H242.62M245.48 331.34V332.60M242.88 331.34H248.08M242.88 332.60H248.08M250.95 331.99V333.24M248.35 331.99H253.55M248.35 333.24H253.55M256.41 332.62V333.86M253.81 332.62H259.01M253.81 333.86H259.01M261.88 333.26V334.50M259.28 333.26H264.48M259.28 334.50H264.48M267.35 333.95V335.19M264.75 333.95H269.95M264.75 335.19H269.95M272.81 334.73V335.97M270.21 334.73H275.41M270.21 335.97H275.41M278.28 335.72V336.95M275.68 335.72H280.88M275.68 336.95H280.88M283.74 336.47V337.69M281.14 336.47H286.34M281.14 337.69H286.34M289.21 336.88V338.09M286.61 336.88H291.81M286.61 338.09H291.81M294.67 337.15V338.36M292.07 337.15H297.27M292.07 338.36H297.27M300.14 337.30V338.51M297.54 337.30H302.74M297.54 338.51H302.74M305.60 337.38V338.59M303.00 337.38H308.20M303.00 338.59H308.20M311.07 337.47V338.68M308.47 337.47H313.67M308.47 338.68H313.67M316.53 337.55V338.76M313.93 337.55H319.13M313.93 338.76H319.13M322.00 337.56V338.76M319.40 337.56H324.60M319.40 338.76H324.60M327.47 337.55V338.76M324.87 337.55H330.07M324.87 338.76H330.07M332.93 337.47V338.68M330.33 337.47H335.53M330.33 338.68H335.53M338.40 337.38V338.59M335.80 337.38H341.00M335.80 338.59H341.00M343.86 337.30V338.51M341.26 337.30H346.46M341.26 338.51H346.46M349.33 337.15V338.36M346.73 337.15H351.93M346.73 338.36H351.93M354.79 336.88V338.09M352.19 336.88H357.39M352.19 338.09H357.39M360.26 336.47V337.69M357.66 336.47H362.86M357.66 337.69H362.86M365.72 335.72V336.95M363.12 335.72H368.32M363.12 336.95H368.32M371.19 334.73V335.97M368.59 334.73H373.79M368.59 335.97H373.79M376.65 333.95V335.19M374.05 333.95H379.25M374.05 335.19H379.25M382.12 333.26V334.50M379.52 333.26H384.72M379.52 334.50H384.72M387.59 332.62V333.86M384.99 332.62H390.19M384.99 333.86H390.19M393.05 331.99V333.24M390.45 331.99H395.65M390.45 333.24H395.65M398.52 331.34V332.60M395.92 331.34H401.12M395.92 332.60H401.12M403.98 330.55V331.81M401.38 330.55H406.58M401.38 331.81H406.58M409.45 329.29V330.58M406.85 329.29H412.05M406.85 330.58H412.05M414.91 326.36V327.69M412.31 326.36H417.51M412.31 327.69H417.51M420.38 323.06V324.41M417.78 323.06H422.98M417.78 324.41H422.98M425.84 319.51V320.89M423.24 319.51H428.44M423.24 320.89H428.44M431.31 315.62V317.03M428.71 315.62H433.91M428.71 317.03H433.91M436.77 311.49V312.91M434.17 311.49H439.37M434.17 312.91H439.37M442.24 307.60V309.07M439.64 307.60H444.84M439.64 309.07H444.84M447.71 298.61V300.21M445.11 298.61H450.31M445.11 300.21H450.31M453.17 290.28V291.92M450.57 290.28H455.77M450.57 291.92H455.77M458.64 280.31V282.04M456.04 280.31H461.24M456.04 282.04H461.24M464.10 267.92V269.76M461.50 267.92H466.70M461.50 269.76H466.70M469.57 252.96V254.95M466.97 252.96H472.17M466.97 254.95H472.17M475.03 234.24V236.40M472.43 234.24H477.63M472.43 236.40H477.63M480.50 212.02V214.37M477.90 212.02H483.10M477.90 214.37H483.10M485.96 185.50V188.07M483.36 185.50H488.56M483.36 188.07H488.56M491.43 156.72V159.46M488.83 156.72H494.03M488.83 159.46H494.03M496.89 130.85V133.58M494.29 130.85H499.49M494.29 133.58H499.49M502.36 117.95V120.47M499.76 117.95H504.96M499.76 120.47H504.96M507.83 132.68V135.49M505.23 132.68H510.43M505.23 135.49H510.43M513.29 181.48V184.58M510.69 181.48H515.89M510.69 184.58H515.89M518.76 251.48V254.28M516.16 251.48H521.36M516.16 254.28H521.36M524.22 312.58V314.67M521.62 312.58H526.82M521.62 314.67H526.82M529.69 347.49V348.94M527.09 347.49H532.29M527.09 348.94H532.29M535.15 360.55V360.55M532.55 360.55H537.75M532.55 360.55H537.75M540.62 360.55V360.55M538.02 360.55H543.22M538.02 360.55H543.22M546.08 360.55V360.55M543.48 360.55H548.68M543.48 360.55H548.68" fill="none" stroke="#006400" stroke-width="1.0"/>
<path d="M95.32 357.95L100.52 363.15M95.32 363.15L100.52 357.95M100.78 357.95L105.98 363.15M100.78 363.15L105.98 357.95M106.25 357.95L111.45 363.15M106.25 363.15L111.45 357.95M111.71 345.61L116.91 350.81M111.71 350.81L116.91 345.61M117.18 311.02L122.38 316.22M117.18 316.22L122.38 311.02M122.64 250.28L127.84 255.48M122.64 255.48L127.84 250.28M128.11 180.43L133.31 185.63M128.11 185.63L133.31 180.43M133.57 131.49L138.77 136.69M133.57 136.69L138.77 131.49M139.04 116.61L144.24 121.81M139.04 121.81L144.24 116.61M144.51 129.61L149.71 134.81M144.51 134.81L149.71 129.61M149.97 155.49L155.17 160.69M149.97 160.69L155.17 155.49M155.44 184.18L160.64 189.38M155.44 189.38L160.64 184.18M160.90 210.60L166.10 215.80M160.90 215.80L166.10 210.60M166.37 232.72L171.57 237.92M166.37 237.92L171.57 232.72M171.83 251.36L177.03 256.56M171.83 256.56L177.03 251.36M177.30 266.24L182.50 271.44M177.30 271.44L182.50 266.24M182.76 278.57L187.96 283.77M182.76 283.77L187.96 278.57M188.23 288.50L193.43 293.70M188.23 293.70L193.43 288.50M193.69 296.81L198.89 302.01M193.69 302.01L198.89 296.81M199.16 305.74L204.36 310.94M199.16 310.94L204.36 305.74M204.63 309.60L209.83 314.80M204.63 314.80L209.83 309.60M210.09 313.73L215.29 318.93M210.09 318.93L215.29 313.73M215.56 317.60L220.76 322.80M215.56 322.80L220.76 317.60M221.02 321.13L226.22 326.33M221.02 326.33L226.22 321.13M226.49 324.43L231.69 329.63M226.49 329.63L231.69 324.43M231.95 327.33L237.15 332.53M231.95 332.53L237.15 327.33M237.42 328.58L242.62 333.78M237.42 333.78L242.62 328.58M242.88 329.37L248.08 334.57M242.88 334.57L248.08 329.37M248.35 330.01L253.55 335.21M248.35 335.21L253.55 330.01M253.81 330.64L259.01 335.84M253.81 335.84L259.01 330.64M259.28 331.28L264.48 336.48M259.28 336.48L264.48 331.28M264.75 331.97L269.95 337.17M264.75 337.17L269.95 331.97M270.21 332.75L275.41 337.95M270.21 337.95L275.41 332.75M275.68 333.74L280.88 338.94M275.68 338.94L280.88 333.74M281.14 334.48L286.34 339.68M281.14 339.68L286.34 334.48M286.61 334.89L291.81 340.09M286.61 340.09L291.81 334.89M292.07 335.16L297.27 340.36M292.07 340.36L297.27 335.16M297.54 335.31L302.74 340.51M297.54 340.51L302.74 335.31M303.00 335.39L308.20 340.59M303.00 340.59L308.20 335.39M308.47 335.47L313.67 340.67M308.47 340.67L313.67 335.47M313.93 335.56L319.13 340.76M313.93 340.76L319.13 335.56M319.40 335.56L324.60 340.76M319.40 340.76L324.60 335.56M324.87 335.56L330.07 340.76M324.87 340.76L330.07 335.56M330.33 335.47L335.53 340.67M330.33 340.67L335.53 335.47M335.80 335.39L341.00 340.59M335.80 340.59L341.00 335.39M341.26 335.31L346.46 340.51M341.26 340.51L346.46 335.31M346.73 335.16L351.93 340.36M346.73 340.36L351.93 335.16M352.19 334.89L357.39 340.09M352.19 340.09L357.39 334.89M357.66 334.48L362.86 339.68M357.66 339.68L362.86 334.48M363.12 333.74L368.32 338.94M363.12 338.94L368.32 333.74M368.59 332.75L373.79 337.95M368.59 337.95L373.79 332.75M374.05 331.97L379.25 337.17M374.05 337.17L379.25 331.97M379.52 331.28L384.72 336.48M379.52 336.48L384.72 331.28M384.99 330.64L390.19 335.84M384.99 335.84L390.19 330.64M390.45 330.01L395.65 335.21M390.45 335.21L395.65 330.01M395.92 329.37L401.12 334.57M395.92 334.57L401.12 329.37M401.38 328.58L406.58 333.78M401.38 333.78L406.58 328.58M406.85 327.33L412.05 332.53M406.85 332.53L412.05 327.33M412.31 324.43L417.51 329.63M412.31 329.63L417.51 324.43M417.78 321.13L422.98 326.33M417.78 326.33L422.98 321.13M423.24 317.60L428.44 322.80M423.24 322.80L428.44 317.60M428.71 313.73L433.91 318.93M428.71 318.93L433.91 313.73M434.17 309.60L439.37 314.80M434.17 314.80L439.37 309.60M439.64 305.74L444.84 310.94M439.64 310.94L444.84 305.74M445.11 296.81L450.31 302.01M445.11 302.01L450.31 296.81M450.57 288.50L455.77 293.70M450.57 293.70L455.77 288.50M456.04 278.57L461.24 283.77M456.04 283.77L461.24 278.57M461.50 266.24L466.70 271.44M461.50 271.44L466.70 266.24M466.97 251.36L472.17 256.56M466.97 256.56L472.17 251.36M472.43 232.72L477.63 237.92M472.43 237.92L477.63 232.72M477.90 210.60L483.10 215.80M477.90 215.80L483.10 210.60M483.36 184.18L488.56 189.38M483.36 189.38L488.56 184.18M488.83 155.49L494.03 160.69M488.83 160.69L494.03 155.49M494.29 129.61L499.49 134.81M494.29 134.81L499.49 129.61M499.76 116.61L504.96 121.81M499.76 121.81L504.96 116.61M505.23 131.49L510.43 136.69M505.23 136.69L510.43 131.49M510.69 180.43L515.89 185.63M510.69 185.63L515.89 180.43M516.16 250.28L521.36 255.48M516.16 255.48L521.36 250.28M521.62 311.02L526.82 316.22M521.62 316.22L526.82 311.02M527.09 345.61L532.29 350.81M527.09 350.81L532.29 345.61M532.55 357.95L537.75 363.15M532.55 363.15L537.75 357.95M538.02 357.95L543.22 363.15M538.02 363.15L543.22 357.95M543.48 357.95L548.68 363.15M543.48 363.15L548.68 357.95" fill="none" stroke="#006400" stroke-width="1.0"/>
<path d="M112.70 360.55L113.30 360.54L113.90 360.51L114.49 360.46L115.09 360.39L115.69 360.30L116.29 360.20L116.89 360.09L117.25 360.01L117.48 359.95L118.08 359.65L118.68 359.16L119.28 358.51L119.88 357.70L120.47 356.76L121.07 355.69L121.67 354.52L121.80 354.25L122.27 353.03L122.87 350.80L123.46 347.90L124.06 344.43L124.66 340.49L125.26 336.16L125.86 331.54L126.35 327.57L126.45 326.70L127.05 321.00L127.65 314.22L128.25 306.56L128.85 298.20L129.44 289.36L130.04 280.21L130.64 270.97L130.90 266.96L131.24 261.60L131.84 251.40L132.43 240.49L133.03 229.16L133.63 217.68L134.23 206.32L134.83 195.36L135.42 185.07L135.45 184.64L136.02 175.07L136.62 164.87L137.22 154.74L137.82 144.93L138.41 135.72L139.01 127.36L139.61 120.12L140.00 116.12L140.21 114.15L140.81 108.38L141.40 102.70L142.00 97.38L142.60 92.67L143.20 88.85L143.80 86.19L144.39 84.94L144.55 84.88L144.99 84.93L145.59 85.15L146.19 85.52L146.79 86.03L147.38 86.67L147.98 87.41L148.58 88.25L149.10 89.04L149.18 89.17L149.78 90.77L150.37 93.28L150.97 96.49L151.57 100.19L152.17 104.17L152.77 108.24L153.36 112.19L153.65 113.98L153.96 115.91L154.56 119.77L155.16 123.79L155.76 127.94L156.35 132.16L156.95 136.39L157.55 140.60L158.15 144.73L158.20 145.08L158.75 148.81L159.34 152.91L159.94 157.02L160.54 161.12L161.14 165.18L161.74 169.18L162.33 173.11L162.75 175.79L162.93 176.95L163.53 180.73L164.13 184.46L164.73 188.14L165.32 191.77L165.92 195.33L166.52 198.83L167.12 202.25L167.30 203.27L167.72 205.60L168.31 208.91L168.91 212.17L169.51 215.37L170.11 218.50L170.71 221.55L171.30 224.52L171.85 227.14L171.90 227.39L172.50 230.17L173.10 232.89L173.70 235.55L174.29 238.13L174.89 240.65L175.49 243.11L176.09 245.50L176.40 246.72L176.69 247.82L177.28 250.09L177.88 252.32L178.48 254.49L179.08 256.60L179.68 258.65L180.27 260.64L180.87 262.56L180.95 262.81L181.47 264.42L182.07 266.23L182.67 267.99L183.26 269.71L183.86 271.37L184.46 272.99L185.06 274.55L185.50 275.68L185.66 276.07L186.25 277.54L186.85 278.96L187.45 280.34L188.05 281.69L188.65 283.01L189.24 284.30L189.84 285.56L190.05 286.00L190.44 286.82L191.04 288.06L191.64 289.28L192.23 290.48L192.83 291.65L193.43 292.78L194.03 293.87L194.60 294.85L194.63 294.89L195.22 295.87L195.82 296.81L196.42 297.72L197.02 298.60L197.62 299.45L198.21 300.28L198.81 301.10L199.15 301.55L199.41 301.90L200.01 302.69L200.61 303.46L201.20 304.21L201.80 304.95L202.40 305.67L203.00 306.37L203.60 307.07L203.70 307.19L204.19 307.75L204.79 308.42L205.39 309.08L205.99 309.72L206.59 310.35L207.18 310.97L207.78 311.56L208.25 312.01L208.38 312.14L208.98 312.70L209.58 313.25L210.17 313.80L210.77 314.34L211.37 314.86L211.97 315.38L212.57 315.90L212.80 316.09L213.16 316.40L213.76 316.89L214.36 317.38L214.96 317.85L215.56 318.32L216.15 318.77L216.75 319.22L217.35 319.66L217.35 319.66L217.95 320.08L218.55 320.50L219.14 320.92L219.74 321.32L220.34 321.72L220.94 322.11L221.54 322.49L221.90 322.72L222.13 322.87L222.73 323.24L223.33 323.61L223.93 323.97L224.53 324.32L225.12 324.67L225.72 325.01L226.32 325.35L226.45 325.42L226.92 325.69L227.52 326.03L228.11 326.38L228.71 326.72L229.31 327.07L229.91 327.41L230.51 327.75L231.00 328.02L231.10 328.08L231.70 328.39L232.30 328.70L232.90 328.98L233.50 329.25L234.09 329.49L234.69 329.71L235.29 329.90L235.55 329.98L235.89 330.07L236.49 330.23L237.08 330.37L237.68 330.51L238.28 330.64L238.88 330.77L239.48 330.88L240.07 331.00L240.10 331.00L240.67 331.10L241.27 331.20L241.87 331.30L242.47 331.40L243.06 331.49L243.66 331.58L244.26 331.67L244.65 331.72L244.86 331.75L245.46 331.84L246.05 331.92L246.65 331.99L247.25 332.07L247.85 332.14L248.45 332.21L249.04 332.27L249.20 332.29L249.64 332.34L250.24 332.41L250.84 332.47L251.44 332.53L252.03 332.60L252.63 332.67L253.23 332.73L253.75 332.80L253.83 332.80L254.43 332.88L255.02 332.95L255.62 333.02L256.22 333.09L256.82 333.16L257.42 333.23L258.01 333.30L258.30 333.33L258.61 333.37L259.21 333.44L259.81 333.51L260.41 333.58L261.00 333.65L261.60 333.72L262.20 333.79L262.80 333.86L262.85 333.87L263.40 333.93L263.99 334.00L264.59 334.08L265.19 334.15L265.79 334.22L266.39 334.30L266.98 334.37L267.40 334.42L267.58 334.44L268.18 334.51L268.78 334.58L269.38 334.65L269.97 334.72L270.57 334.79L271.17 334.86L271.77 334.92L271.95 334.94L272.37 334.98L272.96 335.04L273.56 335.10L274.16 335.16L274.76 335.22L275.36 335.27L275.95 335.32L276.50 335.37L276.55 335.38L277.15 335.43L277.75 335.49L278.35 335.54L278.94 335.60L279.54 335.66L280.14 335.72L280.74 335.78L281.05 335.81L281.34 335.84L281.93 335.91L282.53 335.99L283.13 336.07L283.73 336.15L284.33 336.23L284.92 336.31L285.52 336.40L285.60 336.41L286.12 336.48L286.72 336.56L287.32 336.64L287.91 336.71L288.51 336.79L289.11 336.85L289.71 336.91L290.15 336.95L290.31 336.97L290.90 337.02L291.50 337.07L292.10 337.12L292.70 337.17L293.30 337.22L293.89 337.26L294.49 337.31L294.70 337.32L295.09 337.35L295.69 337.39L296.29 337.43L296.88 337.46L297.48 337.49L298.08 337.52L298.68 337.54L299.25 337.56L299.28 337.56L299.87 337.57L300.47 337.58L301.07 337.59L301.67 337.61L302.27 337.62L302.86 337.63L303.46 337.63L303.80 337.64L304.06 337.64L304.66 337.65L305.26 337.66L305.85 337.66L306.45 337.67L307.05 337.68L307.65 337.68L308.25 337.69L308.35 337.69L308.84 337.69L309.44 337.70L310.04 337.71L310.64 337.71L311.24 337.72L311.83 337.72L312.43 337.73L312.90 337.73L313.03 337.74L313.63 337.74L314.23 337.74L314.82 337.75L315.42 337.75L316.02 337.75L316.62 337.76L317.22 337.76L317.45 337.76L317.81 337.76L318.41 337.76L319.01 337.76L319.61 337.76L320.21 337.76L320.80 337.76L321.40 337.76L322.00 337.76L322.00 337.76L322.60 337.76L323.20 337.76L323.79 337.76L324.39 337.76L324.99 337.76L325.59 337.76L326.19 337.76L326.55 337.76L326.78 337.76L327.38 337.76L327.98 337.75L328.58 337.75L329.18 337.75L329.77 337.74L330.37 337.74L330.97 337.74L331.10 337.73L331.57 337.73L332.17 337.72L332.76 337.72L333.36 337.71L333.96 337.71L334.56 337.70L335.16 337.69L335.65 337.69L335.75 337.69L336.35 337.68L336.95 337.68L337.55 337.67L338.15 337.66L338.74 337.66L339.34 337.65L339.94 337.64L340.20 337.64L340.54 337.63L341.14 337.63L341.73 337.62L342.33 337.61L342.93 337.59L343.53 337.58L344.13 337.57L344.72 337.56L344.75 337.56L345.32 337.54L345.92 337.52L346.52 337.49L347.12 337.46L347.71 337.43L348.31 337.39L348.91 337.35L349.30 337.32L349.51 337.31L350.11 337.26L350.70 337.22L351.30 337.17L351.90 337.12L352.50 337.07L353.10 337.02L353.69 336.97L353.85 336.95L354.29 336.91L354.89 336.85L355.49 336.79L356.09 336.71L356.68 336.64L357.28 336.56L357.88 336.48L358.40 336.41L358.48 336.40L359.08 336.31L359.67 336.23L360.27 336.15L360.87 336.07L361.47 335.99L362.07 335.91L362.66 335.84L362.95 335.81L363.26 335.78L363.86 335.72L364.46 335.66L365.06 335.60L365.65 335.54L366.25 335.49L366.85 335.43L367.45 335.38L367.50 335.37L368.05 335.32L368.64 335.27L369.24 335.22L369.84 335.16L370.44 335.10L371.04 335.04L371.63 334.98L372.05 334.94L372.23 334.92L372.83 334.86L373.43 334.79L374.03 334.72L374.62 334.65L375.22 334.58L375.82 334.51L376.42 334.44L376.60 334.42L377.02 334.37L377.61 334.30L378.21 334.22L378.81 334.15L379.41 334.08L380.01 334.00L380.60 333.93L381.15 333.87L381.20 333.86L381.80 333.79L382.40 333.72L383.00 333.65L383.59 333.58L384.19 333.51L384.79 333.44L385.39 333.37L385.70 333.33L385.99 333.30L386.58 333.23L387.18 333.16L387.78 333.09L388.38 333.02L388.98 332.95L389.57 332.88L390.17 332.80L390.25 332.80L390.77 332.73L391.37 332.67L391.97 332.60L392.56 332.53L393.16 332.47L393.76 332.41L394.36 332.34L394.80 332.29L394.96 332.27L395.55 332.21L396.15 332.14L396.75 332.07L397.35 331.99L397.95 331.92L398.54 331.84L399.14 331.75L399.35 331.72L399.74 331.67L400.34 331.58L400.94 331.49L401.53 331.40L402.13 331.30L402.73 331.20L403.33 331.10L403.90 331.00L403.93 331.00L404.52 330.88L405.12 330.77L405.72 330.64L406.32 330.51L406.92 330.37L407.51 330.23L408.11 330.07L408.45 329.98L408.71 329.90L409.31 329.71L409.91 329.49L410.50 329.25L411.10 328.98L411.70 328.70L412.30 328.39L412.90 328.08L413.00 328.02L413.49 327.75L414.09 327.41L414.69 327.07L415.29 326.72L415.89 326.38L416.48 326.03L417.08 325.69L417.55 325.42L417.68 325.35L418.28 325.01L418.88 324.67L419.47 324.32L420.07 323.97L420.67 323.61L421.27 323.24L421.87 322.87L422.10 322.72L422.46 322.49L423.06 322.11L423.66 321.72L424.26 321.32L424.86 320.92L425.45 320.50L426.05 320.08L426.65 319.66L426.65 319.66L427.25 319.22L427.85 318.77L428.44 318.32L429.04 317.85L429.64 317.38L430.24 316.89L430.84 316.40L431.20 316.09L431.43 315.90L432.03 315.38L432.63 314.86L433.23 314.34L433.83 313.80L434.42 313.25L435.02 312.70L435.62 312.14L435.75 312.01L436.22 311.56L436.82 310.97L437.41 310.35L438.01 309.72L438.61 309.08L439.21 308.42L439.81 307.75L440.30 307.19L440.40 307.07L441.00 306.37L441.60 305.67L442.20 304.95L442.80 304.21L443.39 303.46L443.99 302.69L444.59 301.90L444.85 301.55L445.19 301.10L445.79 300.28L446.38 299.45L446.98 298.60L447.58 297.72L448.18 296.81L448.78 295.87L449.37 294.89L449.40 294.85L449.97 293.87L450.57 292.78L451.17 291.65L451.77 290.48L452.36 289.28L452.96 288.06L453.56 286.82L453.95 286.00L454.16 285.56L454.76 284.30L455.35 283.01L455.95 281.69L456.55 280.34L457.15 278.96L457.75 277.54L458.34 276.07L458.50 275.68L458.94 274.55L459.54 272.99L460.14 271.37L460.74 269.71L461.33 267.99L461.93 266.23L462.53 264.42L463.05 262.81L463.13 262.56L463.73 260.64L464.32 258.65L464.92 256.60L465.52 254.49L466.12 252.32L466.72 250.09L467.31 247.82L467.60 246.72L467.91 245.50L468.51 243.11L469.11 240.65L469.71 238.13L470.30 235.55L470.90 232.89L471.50 230.17L472.10 227.39L472.15 227.14L472.70 224.52L473.29 221.55L473.89 218.50L474.49 215.37L475.09 212.17L475.69 208.91L476.28 205.60L476.70 203.27L476.88 202.25L477.48 198.83L478.08 195.33L478.68 191.77L479.27 188.14L479.87 184.46L480.47 180.73L481.07 176.95L481.25 175.79L481.67 173.11L482.26 169.18L482.86 165.18L483.46 161.12L484.06 157.02L484.66 152.91L485.25 148.81L485.80 145.08L485.85 144.73L486.45 140.61L487.05 136.43L487.65 132.23L488.24 128.04L488.84 123.90L489.44 119.86L490.04 115.95L490.35 113.98L490.64 112.14L491.23 108.06L491.83 103.84L492.43 99.68L493.03 95.80L493.63 92.41L494.22 89.73L494.82 87.98L494.90 87.83L495.42 86.93L496.02 85.96L496.62 85.10L497.21 84.35L497.81 83.75L498.41 83.32L499.01 83.06L499.45 83.00L499.61 83.07L500.20 84.41L500.80 87.27L501.40 91.35L502.00 96.37L502.60 102.02L503.19 108.02L503.79 114.06L504.00 116.12L504.39 120.24L504.99 127.59L505.59 135.98L506.18 145.16L506.78 154.90L507.38 164.96L507.98 175.09L508.55 184.64L508.58 185.07L509.17 195.36L509.77 206.32L510.37 217.68L510.97 229.16L511.57 240.49L512.16 251.40L512.76 261.60L513.10 266.96L513.36 270.97L513.96 280.21L514.56 289.36L515.15 298.20L515.75 306.56L516.35 314.22L516.95 321.00L517.55 326.70L517.65 327.57L518.14 331.54L518.74 336.16L519.34 340.49L519.94 344.43L520.54 347.90L521.13 350.80L521.73 353.03L522.20 354.25L522.33 354.52L522.93 355.69L523.53 356.76L524.12 357.70L524.72 358.51L525.32 359.16L525.92 359.65L526.52 359.95L526.75 360.01L527.11 360.09L527.71 360.20L528.31 360.30L528.91 360.39L529.51 360.46L530.10 360.51L530.70 360.54L531.30 360.55" fill="none" stroke="#0000ff" stroke-width="1.0" stroke-linejoin="round"/>
<path d="M112.70 360.55V360.55M110.10 360.55H115.30M110.10 360.55H115.30M117.25 360.01V360.01M114.65 360.01H119.85M114.65 360.01H119.85M121.80 353.60V354.90M119.20 353.60H124.40M119.20 354.90H124.40M126.35 326.56V328.57M123.75 326.56H128.95M123.75 328.57H128.95M130.90 265.45V268.48M128.30 265.45H133.50M128.30 268.48H133.50M135.45 182.83V186.45M132.85 182.83H138.05M132.85 186.45H138.05M140.00 114.42V117.82M137.40 114.42H142.60M137.40 117.82H142.60M144.55 83.52V86.24M141.95 83.52H147.15M141.95 86.24H147.15M149.10 87.62V90.46M146.50 87.62H151.70M146.50 90.46H151.70M153.65 112.42V115.53M151.05 112.42H156.25M151.05 115.53H156.25M158.20 143.59V146.58M155.60 143.59H160.80M155.60 146.58H160.80M162.75 174.41V177.17M160.15 174.41H165.35M160.15 177.17H165.35M167.30 202.01V204.54M164.70 202.01H169.90M164.70 204.54H169.90M171.85 225.99V228.29M169.25 225.99H174.45M169.25 228.29H174.45M176.40 245.66V247.77M173.80 245.66H179.00M173.80 247.77H179.00M180.95 261.83V263.78M178.35 261.83H183.55M178.35 263.78H183.55M185.50 274.77V276.58M182.90 274.77H188.10M182.90 276.58H188.10M190.05 285.15V286.86M187.45 285.15H192.65M187.45 286.86H192.65M194.60 294.04V295.66M192.00 294.04H197.20M192.00 295.66H197.20M199.15 300.78V302.33M196.55 300.78H201.75M196.55 302.33H201.75M203.70 306.44V307.93M201.10 306.44H206.30M201.10 307.93H206.30M208.25 311.29V312.74M205.65 311.29H210.85M205.65 312.74H210.85M212.80 315.39V316.80M210.20 315.39H215.40M210.20 316.80H215.40M217.35 318.96V320.35M214.75 318.96H219.95M214.75 320.35H219.95M221.90 322.04V323.40M219.30 322.04H224.50M219.30 323.40H224.50M226.45 324.75V326.09M223.85 324.75H229.05M223.85 326.09H229.05M231.00 327.36V328.68M228.40 327.36H233.60M228.40 328.68H233.60M235.55 329.34V330.62M232.95 329.34H238.15M232.95 330.62H238.15M240.10 330.37V331.63M237.50 330.37H242.70M237.50 331.63H242.70M244.65 331.09V332.35M242.05 331.09H247.25M242.05 332.35H247.25M249.20 331.66V332.92M246.60 331.66H251.80M246.60 332.92H251.80M253.75 332.17V333.42M251.15 332.17H256.35M251.15 333.42H256.35M258.30 332.71V333.96M255.70 332.71H260.90M255.70 333.96H260.90M262.85 333.25V334.49M260.25 333.25H265.45M260.25 334.49H265.45M267.40 333.80V335.04M264.80 333.80H270.00M264.80 335.04H270.00M271.95 334.32V335.56M269.35 334.32H274.55M269.35 335.56H274.55M276.50 334.76V335.99M273.90 334.76H279.10M273.90 335.99H279.10M281.05 335.20V336.43M278.45 335.20H283.65M278.45 336.43H283.65M285.60 335.79V337.02M283.00 335.79H288.20M283.00 337.02H288.20M290.15 336.34V337.56M287.55 336.34H292.75M287.55 337.56H292.75M294.70 336.72V337.93M292.10 336.72H297.30M292.10 337.93H297.30M299.25 336.95V338.16M296.65 336.95H301.85M296.65 338.16H301.85M303.80 337.03V338.24M301.20 337.03H306.40M301.20 338.24H306.40M308.35 337.08V338.29M305.75 337.08H310.95M305.75 338.29H310.95M312.90 337.13V338.34M310.30 337.13H315.50M310.30 338.34H315.50M317.45 337.15V338.36M314.85 337.15H320.05M314.85 338.36H320.05M322.00 337.15V338.36M319.40 337.15H324.60M319.40 338.36H324.60M326.55 337.15V338.36M323.95 337.15H329.15M323.95 338.36H329.15M331.10 337.13V338.34M328.50 337.13H333.70M328.50 338.34H333.70M335.65 337.08V338.29M333.05 337.08H338.25M333.05 338.29H338.25M340.20 337.03V338.24M337.60 337.03H342.80M337.60 338.24H342.80M344.75 336.95V338.16M342.15 336.95H347.35M342.15 338.16H347.35M349.30 336.72V337.93M346.70 336.72H351.90M346.70 337.93H351.90M353.85 336.34V337.56M351.25 336.34H356.45M351.25 337.56H356.45M358.40 335.79V337.02M355.80 335.79H361.00M355.80 337.02H361.00M362.95 335.20V336.43M360.35 335.20H365.55M360.35 336.43H365.55M367.50 334.76V335.99M364.90 334.76H370.10M364.90 335.99H370.10M372.05 334.32V335.56M369.45 334.32H374.65M369.45 335.56H374.65M376.60 333.80V335.04M374.00 333.80H379.20M374.00 335.04H379.20M381.15 333.25V334.49M378.55 333.25H383.75M378.55 334.49H383.75M385.70 332.71V333.96M383.10 332.71H388.30M383.10 333.96H388.30M390.25 332.17V333.42M387.65 332.17H392.85M387.65 333.42H392.85M394.80 331.66V332.92M392.20 331.66H397.40M392.20 332.92H397.40M399.35 331.09V332.35M396.75 331.09H401.95M396.75 332.35H401.95M403.90 330.37V331.63M401.30 330.37H406.50M401.30 331.63H406.50M408.45 329.34V330.62M405.85 329.34H411.05M405.85 330.62H411.05M413.00 327.36V328.68M410.40 327.36H415.60M410.40 328.68H415.60M417.55 324.75V326.09M414.95 324.75H420.15M414.95 326.09H420.15M422.10 322.04V323.40M419.50 322.04H424.70M419.50 323.40H424.70M426.65 318.96V320.35M424.05 318.96H429.25M424.05 320.35H429.25M431.20 315.39V316.80M428.60 315.39H433.80M428.60 316.80H433.80M435.75 311.29V312.74M433.15 311.29H438.35M433.15 312.74H438.35M440.30 306.44V307.93M437.70 306.44H442.90M437.70 307.93H442.90M444.85 300.78V302.33M442.25 300.78H447.45M442.25 302.33H447.45M449.40 294.04V295.66M446.80 294.04H452.00M446.80 295.66H452.00M453.95 285.15V286.86M451.35 285.15H456.55M451.35 286.86H456.55M458.50 274.77V276.58M455.90 274.77H461.10M455.90 276.58H461.10M463.05 261.83V263.78M460.45 261.83H465.65M460.45 263.78H465.65M467.60 245.66V247.77M465.00 245.66H470.20M465.00 247.77H470.20M472.15 225.99V228.29M469.55 225.99H474.75M469.55 228.29H474.75M476.70 202.01V204.54M474.10 202.01H479.30M474.10 204.54H479.30M481.25 174.41V177.17M478.65 174.41H483.85M478.65 177.17H483.85M485.80 143.59V146.58M483.20 143.59H488.40M483.20 146.58H488.40M490.35 112.42V115.54M487.75 112.42H492.95M487.75 115.54H492.95M494.90 86.40V89.27M492.30 86.40H497.50M492.30 89.27H497.50M499.45 81.64V84.37M496.85 81.64H502.05M496.85 84.37H502.05M504.00 114.41V117.84M501.40 114.41H506.60M501.40 117.84H506.60M508.55 182.83V186.45M505.95 182.83H511.15M505.95 186.45H511.15M513.10 265.45V268.48M510.50 265.45H515.70M510.50 268.48H515.70M517.65 326.56V328.57M515.05 326.56H520.25M515.05 328.57H520.25M522.20 353.60V354.90M519.60 353.60H524.80M519.60 354.90H524.80M526.75 360.01V360.01M524.15 360.01H529.35M524.15 360.01H529.35M531.30 360.55V360.55M528.70 360.55H533.90M528.70 360.55H533.90" fill="none" stroke="#0000ff" stroke-width="1.0"/>
<path d="M110.10 360.55H115.30M112.70 357.95V363.15M110.10 357.95L115.30 363.15M110.10 363.15L115.30 357.95M114.65 360.01H119.85M117.25 357.41V362.61M114.65 357.41L119.85 362.61M114.65 362.61L119.85 357.41M119.20 354.25H124.40M121.80 351.65V356.85M119.20 351.65L124.40 356.85M119.20 356.85L124.40 351.65M123.75 327.57H128.95M126.35 324.97V330.17M123.75 324.97L128.95 330.17M123.75 330.17L128.95 324.97M128.30 266.96H133.50M130.90 264.36V269.56M128.30 264.36L133.50 269.56M128.30 269.56L133.50 264.36M132.85 184.64H138.05M135.45 182.04V187.24M132.85 182.04L138.05 187.24M132.85 187.24L138.05 182.04M137.40 116.12H142.60M140.00 113.52V118.72M137.40 113.52L142.60 118.72M137.40 118.72L142.60 113.52M141.95 84.88H147.15M144.55 82.28V87.48M141.95 82.28L147.15 87.48M141.95 87.48L147.15 82.28M146.50 89.04H151.70M149.10 86.44V91.64M146.50 86.44L151.70 91.64M146.50 91.64L151.70 86.44M151.05 113.98H156.25M153.65 111.38V116.58M151.05 111.38L156.25 116.58M151.05 116.58L156.25 111.38M155.60 145.08H160.80M158.20 142.48V147.68M155.60 142.48L160.80 147.68M155.60 147.68L160.80 142.48M160.15 175.79H165.35M162.75 173.19V178.39M160.15 173.19L165.35 178.39M160.15 178.39L165.35 173.19M164.70 203.27H169.90M167.30 200.67V205.87M164.70 200.67L169.90 205.87M164.70 205.87L169.90 200.67M169.25 227.14H174.45M171.85 224.54V229.74M169.25 224.54L174.45 229.74M169.25 229.74L174.45 224.54M173.80 246.72H179.00M176.40 244.12V249.32M173.80 244.12L179.00 249.32M173.80 249.32L179.00 244.12M178.35 262.81H183.55M180.95 260.21V265.41M178.35 260.21L183.55 265.41M178.35 265.41L183.55 260.21M182.90 275.68H188.10M185.50 273.08V278.28M182.90 273.08L188.10 278.28M182.90 278.28L188.10 273.08M187.45 286.00H192.65M190.05 283.40V288.60M187.45 283.40L192.65 288.60M187.45 288.60L192.65 283.40M192.00 294.85H197.20M194.60 292.25V297.45M192.00 292.25L197.20 297.45M192.00 297.45L197.20 292.25M196.55 301.55H201.75M199.15 298.95V304.15M196.55 298.95L201.75 304.15M196.55 304.15L201.75 298.95M201.10 307.19H206.30M203.70 304.59V309.79M201.10 304.59L206.30 309.79M201.10 309.79L206.30 304.59M205.65 312.01H210.85M208.25 309.41V314.61M205.65 309.41L210.85 314.61M205.65 314.61L210.85 309.41M210.20 316.09H215.40M212.80 313.49V318.69M210.20 313.49L215.40 318.69M210.20 318.69L215.40 313.49M214.75 319.66H219.95M217.35 317.06V322.26M214.75 317.06L219.95 322.26M214.75 322.26L219.95 317.06M219.30 322.72H224.50M221.90 320.12V325.32M219.30 320.12L224.50 325.32M219.30 325.32L224.50 320.12M223.85 325.42H229.05M226.45 322.82V328.02M223.85 322.82L229.05 328.02M223.85 328.02L229.05 322.82M228.40 328.02H233.60M231.00 325.42V330.62M228.40 325.42L233.60 330.62M228.40 330.62L233.60 325.42M232.95 329.98H238.15M235.55 327.38V332.58M232.95 327.38L238.15 332.58M232.95 332.58L238.15 327.38M237.50 331.00H242.70M240.10 328.40V333.60M237.50 328.40L242.70 333.60M237.50 333.60L242.70 328.40M242.05 331.72H247.25M244.65 329.12V334.32M242.05 329.12L247.25 334.32M242.05 334.32L247.25 329.12M246.60 332.29H251.80M249.20 329.69V334.89M246.60 329.69L251.80 334.89M246.60 334.89L251.80 329.69M251.15 332.80H256.35M253.75 330.20V335.40M251.15 330.20L256.35 335.40M251.15 335.40L256.35 330.20M255.70 333.33H260.90M258.30 330.73V335.93M255.70 330.73L260.90 335.93M255.70 335.93L260.90 330.73M260.25 333.87H265.45M262.85 331.27V336.47M260.25 331.27L265.45 336.47M260.25 336.47L265.45 331.27M264.80 334.42H270.00M267.40 331.82V337.02M264.80 331.82L270.00 337.02M264.80 337.02L270.00 331.82M269.35 334.94H274.55M271.95 332.34V337.54M269.35 332.34L274.55 337.54M269.35 337.54L274.55 332.34M273.90 335.37H279.10M276.50 332.77V337.97M273.90 332.77L279.10 337.97M273.90 337.97L279.10 332.77M278.45 335.81H283.65M281.05 333.21V338.41M278.45 333.21L283.65 338.41M278.45 338.41L283.65 333.21M283.00 336.41H288.20M285.60 333.81V339.01M283.00 333.81L288.20 339.01M283.00 339.01L288.20 333.81M287.55 336.95H292.75M290.15 334.35V339.55M287.55 334.35L292.75 339.55M287.55 339.55L292.75 334.35M292.10 337.32H297.30M294.70 334.72V339.92M292.10 334.72L297.30 339.92M292.10 339.92L297.30 334.72M296.65 337.56H301.85M299.25 334.96V340.16M296.65 334.96L301.85 340.16M296.65 340.16L301.85 334.96M301.20 337.64H306.40M303.80 335.04V340.24M301.20 335.04L306.40 340.24M301.20 340.24L306.40 335.04M305.75 337.69H310.95M308.35 335.09V340.29M305.75 335.09L310.95 340.29M305.75 340.29L310.95 335.09M310.30 337.73H315.50M312.90 335.13V340.33M310.30 335.13L315.50 340.33M310.30 340.33L315.50 335.13M314.85 337.76H320.05M317.45 335.16V340.36M314.85 335.16L320.05 340.36M314.85 340.36L320.05 335.16M319.40 337.76H324.60M322.00 335.16V340.36M319.40 335.16L324.60 340.36M319.40 340.36L324.60 335.16M323.95 337.76H329.15M326.55 335.16V340.36M323.95 335.16L329.15 340.36M323.95 340.36L329.15 335.16M328.50 337.73H333.70M331.10 335.13V340.33M328.50 335.13L333.70 340.33M328.50 340.33L333.70 335.13M333.05 337.69H338.25M335.65 335.09V340.29M333.05 335.09L338.25 340.29M333.05 340.29L338.25 335.09M337.60 337.64H342.80M340.20 335.04V340.24M337.60 335.04L342.80 340.24M337.60 340.24L342.80 335.04M342.15 337.56H347.35M344.75 334.96V340.16M342.15 334.96L347.35 340.16M342.15 340.16L347.35 334.96M346.70 337.32H351.90M349.30 334.72V339.92M346.70 334.72L351.90 339.92M346.70 339.92L351.90 334.72M351.25 336.95H356.45M353.85 334.35V339.55M351.25 334.35L356.45 339.55M351.25 339.55L356.45 334.35M355.80 336.41H361.00M358.40 333.81V339.01M355.80 333.81L361.00 339.01M355.80 339.01L361.00 333.81M360.35 335.81H365.55M362.95 333.21V338.41M360.35 333.21L365.55 338.41M360.35 338.41L365.55 333.21M364.90 335.37H370.10M367.50 332.77V337.97M364.90 332.77L370.10 337.97M364.90 337.97L370.10 332.77M369.45 334.94H374.65M372.05 332.34V337.54M369.45 332.34L374.65 337.54M369.45 337.54L374.65 332.34M374.00 334.42H379.20M376.60 331.82V337.02M374.00 331.82L379.20 337.02M374.00 337.02L379.20 331.82M378.55 333.87H383.75M381.15 331.27V336.47M378.55 331.27L383.75 336.47M378.55 336.47L383.75 331.27M383.10 333.33H388.30M385.70 330.73V335.93M383.10 330.73L388.30 335.93M383.10 335.93L388.30 330.73M387.65 332.80H392.85M390.25 330.20V335.40M387.65 330.20L392.85 335.40M387.65 335.40L392.85 330.20M392.20 332.29H397.40M394.80 329.69V334.89M392.20 329.69L397.40 334.89M392.20 334.89L397.40 329.69M396.75 331.72H401.95M399.35 329.12V334.32M396.75 329.12L401.95 334.32M396.75 334.32L401.95 329.12M401.30 331.00H406.50M403.90 328.40V333.60M401.30 328.40L406.50 333.60M401.30 333.60L406.50 328.40M405.85 329.98H411.05M408.45 327.38V332.58M405.85 327.38L411.05 332.58M405.85 332.58L411.05 327.38M410.40 328.02H415.60M413.00 325.42V330.62M410.40 325.42L415.60 330.62M410.40 330.62L415.60 325.42M414.95 325.42H420.15M417.55 322.82V328.02M414.95 322.82L420.15 328.02M414.95 328.02L420.15 322.82M419.50 322.72H424.70M422.10 320.12V325.32M419.50 320.12L424.70 325.32M419.50 325.32L424.70 320.12M424.05 319.66H429.25M426.65 317.06V322.26M424.05 317.06L429.25 322.26M424.05 322.26L429.25 317.06M428.60 316.09H433.80M431.20 313.49V318.69M428.60 313.49L433.80 318.69M428.60 318.69L433.80 313.49M433.15 312.01H438.35M435.75 309.41V314.61M433.15 309.41L438.35 314.61M433.15 314.61L438.35 309.41M437.70 307.19H442.90M440.30 304.59V309.79M437.70 304.59L442.90 309.79M437.70 309.79L442.90 304.59M442.25 301.55H447.45M444.85 298.95V304.15M442.25 298.95L447.45 304.15M442.25 304.15L447.45 298.95M446.80 294.85H452.00M449.40 292.25V297.45M446.80 292.25L452.00 297.45M446.80 297.45L452.00 292.25M451.35 286.00H456.55M453.95 283.40V288.60M451.35 283.40L456.55 288.60M451.35 288.60L456.55 283.40M455.90 275.68H461.10M458.50 273.08V278.28M455.90 273.08L461.10 278.28M455.90 278.28L461.10 273.08M460.45 262.81H465.65M463.05 260.21V265.41M460.45 260.21L465.65 265.41M460.45 265.41L465.65 260.21M465.00 246.72H470.20M467.60 244.12V249.32M465.00 244.12L470.20 249.32M465.00 249.32L470.20 244.12M469.55 227.14H474.75M472.15 224.54V229.74M469.55 224.54L474.75 229.74M469.55 229.74L474.75 224.54M474.10 203.27H479.30M476.70 200.67V205.87M474.10 200.67L479.30 205.87M474.10 205.87L479.30 200.67M478.65 175.79H483.85M481.25 173.19V178.39M478.65 173.19L483.85 178.39M478.65 178.39L483.85 173.19M483.20 145.08H488.40M485.80 142.48V147.68M483.20 142.48L488.40 147.68M483.20 147.68L488.40 142.48M487.75 113.98H492.95M490.35 111.38V116.58M487.75 111.38L492.95 116.58M487.75 116.58L492.95 111.38M492.30 87.83H497.50M494.90 85.23V90.43M492.30 85.23L497.50 90.43M492.30 90.43L497.50 85.23M496.85 83.00H502.05M499.45 80.40V85.60M496.85 80.40L502.05 85.60M496.85 85.60L502.05 80.40M501.40 116.12H506.60M504.00 113.52V118.72M501.40 113.52L506.60 118.72M501.40 118.72L506.60 113.52M505.95 184.64H511.15M508.55 182.04V187.24M505.95 182.04L511.15 187.24M505.95 187.24L511.15 182.04M510.50 266.96H515.70M513.10 264.36V269.56M510.50 264.36L515.70 269.56M510.50 269.56L515.70 264.36M515.05 327.57H520.25M517.65 324.97V330.17M515.05 324.97L520.25 330.17M515.05 330.17L520.25 324.97M519.60 354.25H524.80M522.20 351.65V356.85M519.60 351.65L524.80 356.85M519.60 356.85L524.80 351.65M524.15 360.01H529.35M526.75 357.41V362.61M524.15 357.41L529.35 362.61M524.15 362.61L529.35 357.41M528.70 360.55H533.90M531.30 357.95V363.15M528.70 357.95L533.90 363.15M528.70 363.15L533.90 357.95" fill="none" stroke="#0000ff" stroke-width="1.0"/>
<path d="M94.50 360.55L95.15 360.55L95.80 360.55L96.45 360.55L97.10 360.55L97.75 360.55L98.40 360.55L99.05 360.55L99.70 360.55L100.35 360.55L101.00 360.55L101.65 360.55L102.30 360.55L102.95 360.55L103.60 360.55L104.25 360.55L104.90 360.55L105.55 360.55L106.20 360.55L106.85 360.55L107.50 360.55L108.15 360.55L108.80 360.55L109.45 360.55L110.10 360.55L110.75 360.55L111.40 360.55L112.05 360.55L112.70 360.55L113.35 360.55L114.00 360.55L114.65 360.55L115.30 360.55L115.95 360.55L116.60 360.55L117.25 360.55L117.90 360.55L118.55 360.55L119.20 360.55L119.85 360.55L120.50 360.55L121.15 360.55L121.80 360.55L122.45 360.54L123.10 360.52L123.75 360.50L124.40 360.45L125.05 360.41L125.70 360.35L126.35 360.28L127.00 360.17L127.65 359.99L128.30 359.72L128.95 359.37L129.60 358.95L130.25 358.45L130.90 357.87L131.55 356.83L132.20 355.00L132.85 352.47L133.50 349.33L134.15 345.66L134.80 341.55L135.45 337.09L135.45 337.09L136.10 331.20L136.75 323.08L137.40 313.17L138.05 301.92L138.70 289.79L139.35 277.22L140.00 264.68L140.65 251.22L141.30 236.03L141.95 219.75L142.60 203.03L143.25 186.53L143.90 170.89L144.55 156.75L145.20 143.27L145.85 129.53L146.50 116.08L147.15 103.48L147.80 92.29L148.45 83.04L149.10 76.30L149.75 71.07L150.40 66.10L151.05 61.61L151.70 57.77L152.35 54.79L153.00 52.85L153.65 52.17L154.30 52.72L154.95 54.25L155.60 56.56L156.25 59.44L156.90 62.71L157.55 66.16L158.20 69.60L158.85 73.41L159.50 78.01L160.15 83.18L160.80 88.75L161.45 94.50L162.10 100.25L162.75 105.80L163.40 111.29L164.05 116.95L164.70 122.70L165.35 128.47L166.00 134.17L166.65 139.74L167.30 145.08L167.30 145.08L167.95 150.24L168.60 155.28L169.25 160.22L169.90 165.07L170.55 169.83L171.20 174.52L171.85 179.14L171.85 179.14L172.50 183.73L173.15 188.30L173.80 192.81L174.45 197.23L175.10 201.52L175.75 205.64L176.40 209.58L177.05 213.34L177.70 216.98L178.35 220.50L179.00 223.90L179.65 227.20L180.30 230.37L180.95 233.44L181.60 236.41L182.25 239.29L182.90 242.08L183.55 244.78L184.20 247.39L184.85 249.91L185.50 252.35L186.15 254.71L186.80 257.01L187.45 259.24L188.10 261.40L188.75 263.47L189.40 265.47L190.05 267.36L190.05 267.36L190.70 269.17L191.35 270.89L192.00 272.55L192.65 274.15L193.30 275.71L193.95 277.24L194.60 278.76L195.25 280.28L195.90 281.79L196.55 283.27L197.20 284.72L197.85 286.11L198.50 287.44L199.15 288.68L199.80 289.85L200.45 290.95L201.10 292.01L201.75 293.02L202.40 294.01L203.05 294.97L203.70 295.92L204.35 296.86L205.00 297.77L205.65 298.65L206.30 299.52L206.95 300.38L207.60 301.23L208.25 302.09L208.90 302.95L209.55 303.81L210.20 304.67L210.85 305.52L211.50 306.35L212.15 307.18L212.80 307.99L213.45 308.80L214.10 309.60L214.75 310.41L215.40 311.19L216.05 311.95L216.70 312.67L217.35 313.35L217.35 313.35L218.00 313.99L218.65 314.60L219.30 315.19L219.95 315.75L220.60 316.30L221.25 316.84L221.90 317.38L221.90 317.38L222.55 317.90L223.20 318.42L223.85 318.93L224.50 319.42L225.15 319.91L225.80 320.39L226.45 320.86L226.45 320.86L227.10 321.33L227.75 321.78L228.40 322.23L229.05 322.67L229.70 323.11L230.35 323.53L231.00 323.95L231.65 324.36L232.30 324.77L232.95 325.17L233.60 325.56L234.25 325.94L234.90 326.30L235.55 326.63L236.20 326.94L236.85 327.24L237.50 327.52L238.15 327.79L238.80 328.05L239.45 328.29L240.10 328.50L240.75 328.70L241.40 328.89L242.05 329.06L242.70 329.22L243.35 329.38L244.00 329.54L244.65 329.71L244.65 329.71L245.30 329.89L245.95 330.07L246.60 330.24L247.25 330.42L247.90 330.60L248.55 330.76L249.20 330.92L249.20 330.92L249.85 331.07L250.50 331.21L251.15 331.34L251.80 331.48L252.45 331.61L253.10 331.73L253.75 331.86L253.75 331.86L254.40 331.98L255.05 332.10L255.70 332.21L256.35 332.32L257.00 332.44L257.65 332.55L258.30 332.66L258.95 332.78L259.60 332.90L260.25 333.01L260.90 333.13L261.55 333.25L262.20 333.36L262.85 333.47L263.50 333.57L264.15 333.67L264.80 333.76L265.45 333.86L266.10 333.95L266.75 334.04L267.40 334.14L268.05 334.23L268.70 334.33L269.35 334.43L270.00 334.53L270.65 334.63L271.30 334.72L271.95 334.81L271.95 334.81L272.60 334.89L273.25 334.97L273.90 335.05L274.55 335.12L275.20 335.20L275.85 335.27L276.50 335.34L276.50 335.34L277.15 335.41L277.80 335.47L278.45 335.53L279.10 335.59L279.75 335.66L280.40 335.73L281.05 335.81L281.05 335.81L281.70 335.91L282.35 336.03L283.00 336.16L283.65 336.30L284.30 336.44L284.95 336.57L285.60 336.68L285.60 336.68L286.25 336.79L286.90 336.89L287.55 336.99L288.20 337.09L288.85 337.18L289.50 337.27L290.15 337.35L290.80 337.44L291.45 337.52L292.10 337.60L292.75 337.68L293.40 337.75L294.05 337.82L294.70 337.89L295.35 337.96L296.00 338.02L296.65 338.08L297.30 338.15L297.95 338.20L298.60 338.25L299.25 338.29L299.25 338.29L299.90 338.33L300.55 338.37L301.20 338.40L301.85 338.43L302.50 338.45L303.15 338.48L303.80 338.49L303.80 338.49L304.45 338.51L305.10 338.52L305.75 338.53L306.40 338.54L307.05 338.54L307.70 338.55L308.35 338.56L308.35 338.56L309.00 338.57L309.65 338.58L310.30 338.60L310.95 338.61L311.60 338.62L312.25 338.63L312.90 338.63L312.90 338.63L313.55 338.63L314.20 338.63L314.85 338.63L315.50 338.63L316.15 338.63L316.80 338.63L317.45 338.63L317.45 338.63L318.10 338.62L318.75 338.61L319.40 338.60L320.05 338.59L320.70 338.57L321.35 338.56L322.00 338.56L322.65 338.56L323.30 338.57L323.95 338.59L324.60 338.60L325.25 338.61L325.90 338.62L326.55 338.63L326.55 338.63L327.20 338.63L327.85 338.63L328.50 338.63L329.15 338.63L329.80 338.63L330.45 338.63L331.10 338.63L331.10 338.63L331.75 338.63L332.40 338.62L333.05 338.61L333.70 338.60L334.35 338.58L335.00 338.57L335.65 338.56L335.65 338.56L336.30 338.55L336.95 338.54L337.60 338.54L338.25 338.53L338.90 338.52L339.55 338.51L340.20 338.49L340.20 338.49L340.85 338.48L341.50 338.45L342.15 338.43L342.80 338.40L343.45 338.37L344.10 338.33L344.75 338.29L344.75 338.29L345.40 338.25L346.05 338.20L346.70 338.15L347.35 338.08L348.00 338.02L348.65 337.96L349.30 337.89L349.30 337.89L349.95 337.82L350.60 337.75L351.25 337.68L351.90 337.60L352.55 337.52L353.20 337.44L353.85 337.35L353.85 337.35L354.50 337.27L355.15 337.18L355.80 337.09L356.45 336.99L357.10 336.89L357.75 336.79L358.40 336.68L358.40 336.68L359.05 336.57L359.70 336.44L360.35 336.30L361.00 336.16L361.65 336.03L362.30 335.91L362.95 335.81L362.95 335.81L363.60 335.73L364.25 335.66L364.90 335.59L365.55 335.53L366.20 335.47L366.85 335.41L367.50 335.34L367.50 335.34L368.15 335.27L368.80 335.20L369.45 335.12L370.10 335.05L370.75 334.97L371.40 334.89L372.05 334.81L372.05 334.81L372.70 334.72L373.35 334.63L374.00 334.53L374.65 334.43L375.30 334.33L375.95 334.23L376.60 334.14L377.25 334.04L377.90 333.95L378.55 333.86L379.20 333.76L379.85 333.67L380.50 333.57L381.15 333.47L381.80 333.36L382.45 333.25L383.10 333.13L383.75 333.01L384.40 332.90L385.05 332.78L385.70 332.66L386.35 332.55L387.00 332.44L387.65 332.32L388.30 332.21L388.95 332.10L389.60 331.98L390.25 331.86L390.25 331.86L390.90 331.73L391.55 331.61L392.20 331.48L392.85 331.34L393.50 331.21L394.15 331.07L394.80 330.92L394.80 330.92L395.45 330.76L396.10 330.60L396.75 330.42L397.40 330.24L398.05 330.07L398.70 329.89L399.35 329.71L399.35 329.71L400.00 329.54L400.65 329.38L401.30 329.22L401.95 329.06L402.60 328.89L403.25 328.70L403.90 328.50L403.90 328.50L404.55 328.29L405.20 328.05L405.85 327.79L406.50 327.52L407.15 327.24L407.80 326.94L408.45 326.63L408.45 326.63L409.10 326.30L409.75 325.94L410.40 325.56L411.05 325.17L411.70 324.77L412.35 324.36L413.00 323.95L413.00 323.95L413.65 323.53L414.30 323.11L414.95 322.67L415.60 322.23L416.25 321.78L416.90 321.33L417.55 320.86L417.55 320.86L418.20 320.39L418.85 319.91L419.50 319.42L420.15 318.93L420.80 318.42L421.45 317.90L422.10 317.38L422.10 317.38L422.75 316.84L423.40 316.30L424.05 315.75L424.70 315.19L425.35 314.60L426.00 313.99L426.65 313.35L426.65 313.35L427.30 312.67L427.95 311.95L428.60 311.19L429.25 310.41L429.90 309.60L430.55 308.80L431.20 307.99L431.85 307.18L432.50 306.35L433.15 305.52L433.80 304.67L434.45 303.81L435.10 302.95L435.75 302.09L436.40 301.23L437.05 300.38L437.70 299.52L438.35 298.65L439.00 297.77L439.65 296.86L440.30 295.92L440.95 294.97L441.60 294.01L442.25 293.02L442.90 292.01L443.55 290.95L444.20 289.85L444.85 288.68L445.50 287.44L446.15 286.11L446.80 284.72L447.45 283.27L448.10 281.79L448.75 280.28L449.40 278.76L450.05 277.24L450.70 275.71L451.35 274.15L452.00 272.55L452.65 270.89L453.30 269.17L453.95 267.36L453.95 267.36L454.60 265.47L455.25 263.47L455.90 261.40L456.55 259.24L457.20 257.01L457.85 254.71L458.50 252.35L458.50 252.35L459.15 249.91L459.80 247.39L460.45 244.78L461.10 242.08L461.75 239.29L462.40 236.41L463.05 233.44L463.05 233.44L463.70 230.37L464.35 227.20L465.00 223.90L465.65 220.50L466.30 216.98L466.95 213.34L467.60 209.58L467.60 209.58L468.25 205.64L468.90 201.52L469.55 197.23L470.20 192.81L470.85 188.30L471.50 183.73L472.15 179.14L472.15 179.14L472.80 174.52L473.45 169.83L474.10 165.07L474.75 160.22L475.40 155.28L476.05 150.24L476.70 145.08L476.70 145.08L477.35 139.74L478.00 134.17L478.65 128.47L479.30 122.70L479.95 116.95L480.60 111.29L481.25 105.80L481.90 100.25L482.55 94.50L483.20 88.75L483.85 83.18L484.50 78.01L485.15 73.41L485.80 69.60L486.45 66.16L487.10 62.71L487.75 59.44L488.40 56.56L489.05 54.25L489.70 52.72L490.35 52.17L491.00 52.85L491.65 54.79L492.30 57.77L492.95 61.61L493.60 66.10L494.25 71.07L494.90 76.30L495.55 83.04L496.20 92.29L496.85 103.48L497.50 116.08L498.15 129.53L498.80 143.27L499.45 156.75L500.10 170.89L500.75 186.53L501.40 203.03L502.05 219.75L502.70 236.03L503.35 251.22L504.00 264.68L504.65 277.22L505.30 289.79L505.95 301.92L506.60 313.17L507.25 323.08L507.90 331.20L508.55 337.09L508.55 337.09L509.20 341.55L509.85 345.66L510.50 349.33L511.15 352.47L511.80 355.00L512.45 356.83L513.10 357.87L513.10 357.87L513.75 358.45L514.40 358.95L515.05 359.37L515.70 359.72L516.35 359.99L517.00 360.17L517.65 360.28L517.65 360.28L518.30 360.35L518.95 360.41L519.60 360.45L520.25 360.50L520.90 360.52L521.55 360.54L522.20 360.55L522.20 360.55L522.85 360.55L523.50 360.55L524.15 360.55L524.80 360.55L525.45 360.55L526.10 360.55L526.75 360.55L526.75 360.55L527.40 360.55L528.05 360.55L528.70 360.55L529.35 360.55L530.00 360.55L530.65 360.55L531.30 360.55L531.30 360.55L531.95 360.55L532.60 360.55L533.25 360.55L533.90 360.55L534.55 360.55L535.20 360.55L535.85 360.55L536.50 360.55L537.15 360.55L537.80 360.55L538.45 360.55L539.10 360.55L539.75 360.55L540.40 360.55L541.05 360.55L541.70 360.55L542.35 360.55L543.00 360.55L543.65 360.55L544.30 360.55L544.95 360.55L545.60 360.55L546.25 360.55L546.90 360.55L547.55 360.55L548.20 360.55L548.85 360.55L549.50 360.55" fill="none" stroke="#c04000" stroke-width="1.0" stroke-linejoin="round"/>
<path d="M94.50 360.55V360.55M91.90 360.55H97.10M91.90 360.55H97.10M99.05 360.55V360.55M96.45 360.55H101.65M96.45 360.55H101.65M103.60 360.55V360.55M101.00 360.55H106.20M101.00 360.55H106.20M108.15 360.55V360.55M105.55 360.55H110.75M105.55 360.55H110.75M112.70 360.55V360.55M110.10 360.55H115.30M110.10 360.55H115.30M117.25 360.55V360.55M114.65 360.55H119.85M114.65 360.55H119.85M121.80 360.55V360.55M119.20 360.55H124.40M119.20 360.55H124.40M126.35 360.28V360.28M123.75 360.28H128.95M123.75 360.28H128.95M130.90 357.19V358.54M128.30 357.19H133.50M128.30 358.54H133.50M135.45 335.93V338.24M132.85 335.93H138.05M132.85 338.24H138.05M140.00 262.49V266.87M137.40 262.49H142.60M137.40 266.87H142.60M144.55 154.15V159.35M141.95 154.15H147.15M141.95 159.35H147.15M149.10 74.29V78.31M146.50 74.29H151.70M146.50 78.31H151.70M153.65 50.64V53.69M151.05 50.64H156.25M151.05 53.69H156.25M158.20 67.77V71.43M155.60 67.77H160.80M155.60 71.43H160.80M162.75 103.87V107.73M160.15 103.87H165.35M160.15 107.73H165.35M167.30 143.29V146.88M164.70 143.29H169.90M164.70 146.88H169.90M171.85 177.51V180.77M169.25 177.51H174.45M169.25 180.77H174.45M176.40 208.12V211.03M173.80 208.12H179.00M173.80 211.03H179.00M180.95 232.14V234.74M178.35 232.14H183.55M178.35 234.74H183.55M185.50 251.17V253.53M182.90 251.17H188.10M182.90 253.53H188.10M190.05 266.29V268.44M187.45 266.29H192.65M187.45 268.44H192.65M194.60 277.75V279.77M192.00 277.75H197.20M192.00 279.77H197.20M199.15 287.74V289.63M196.55 287.74H201.75M196.55 289.63H201.75M203.70 295.03V296.82M201.10 295.03H206.30M201.10 296.82H206.30M208.25 301.22V302.96M205.65 301.22H210.85M205.65 302.96H210.85M212.80 307.15V308.84M210.20 307.15H215.40M210.20 308.84H215.40M217.35 312.54V314.17M214.75 312.54H219.95M214.75 314.17H219.95M221.90 316.59V318.17M219.30 316.59H224.50M219.30 318.17H224.50M226.45 320.09V321.63M223.85 320.09H229.05M223.85 321.63H229.05M231.00 323.19V324.70M228.40 323.19H233.60M228.40 324.70H233.60M235.55 325.89V327.37M232.95 325.89H238.15M232.95 327.37H238.15M240.10 327.78V329.23M237.50 327.78H242.70M237.50 329.23H242.70M244.65 329.00V330.43M242.05 329.00H247.25M242.05 330.43H247.25M249.20 330.21V331.63M246.60 330.21H251.80M246.60 331.63H251.80M253.75 331.15V332.56M251.15 331.15H256.35M251.15 332.56H256.35M258.30 331.96V333.36M255.70 331.96H260.90M255.70 333.36H260.90M262.85 332.77V334.16M260.25 332.77H265.45M260.25 334.16H265.45M267.40 333.44V334.83M264.80 333.44H270.00M264.80 334.83H270.00M271.95 334.12V335.50M269.35 334.12H274.55M269.35 335.50H274.55M276.50 334.66V336.03M273.90 334.66H279.10M273.90 336.03H279.10M281.05 335.13V336.50M278.45 335.13H283.65M278.45 336.50H283.65M285.60 336.00V337.37M283.00 336.00H288.20M283.00 337.37H288.20M290.15 336.67V338.04M287.55 336.67H292.75M287.55 338.04H292.75M294.70 337.21V338.57M292.10 337.21H297.30M292.10 338.57H297.30M299.25 337.62V338.97M296.65 337.62H301.85M296.65 338.97H301.85M303.80 337.82V339.16M301.20 337.82H306.40M301.20 339.16H306.40M308.35 337.89V339.23M305.75 337.89H310.95M305.75 339.23H310.95M312.90 337.96V339.30M310.30 337.96H315.50M310.30 339.30H315.50M317.45 337.96V339.30M314.85 337.96H320.05M314.85 339.30H320.05M322.00 337.89V339.23M319.40 337.89H324.60M319.40 339.23H324.60M326.55 337.96V339.30M323.95 337.96H329.15M323.95 339.30H329.15M331.10 337.96V339.30M328.50 337.96H333.70M328.50 339.30H333.70M335.65 337.89V339.23M333.05 337.89H338.25M333.05 339.23H338.25M340.20 337.82V339.16M337.60 337.82H342.80M337.60 339.16H342.80M344.75 337.62V338.97M342.15 337.62H347.35M342.15 338.97H347.35M349.30 337.21V338.57M346.70 337.21H351.90M346.70 338.57H351.90M353.85 336.67V338.04M351.25 336.67H356.45M351.25 338.04H356.45M358.40 336.00V337.37M355.80 336.00H361.00M355.80 337.37H361.00M362.95 335.13V336.50M360.35 335.13H365.55M360.35 336.50H365.55M367.50 334.66V336.03M364.90 334.66H370.10M364.90 336.03H370.10M372.05 334.12V335.50M369.45 334.12H374.65M369.45 335.50H374.65M376.60 333.44V334.83M374.00 333.44H379.20M374.00 334.83H379.20M381.15 332.77V334.16M378.55 332.77H383.75M378.55 334.16H383.75M385.70 331.96V333.36M383.10 331.96H388.30M383.10 333.36H388.30M390.25 331.15V332.56M387.65 331.15H392.85M387.65 332.56H392.85M394.80 330.21V331.63M392.20 330.21H397.40M392.20 331.63H397.40M399.35 329.00V330.43M396.75 329.00H401.95M396.75 330.43H401.95M403.90 327.78V329.23M401.30 327.78H406.50M401.30 329.23H406.50M408.45 325.89V327.37M405.85 325.89H411.05M405.85 327.37H411.05M413.00 323.19V324.70M410.40 323.19H415.60M410.40 324.70H415.60M417.55 320.09V321.63M414.95 320.09H420.15M414.95 321.63H420.15M422.10 316.59V318.17M419.50 316.59H424.70M419.50 318.17H424.70M426.65 312.54V314.17M424.05 312.54H429.25M424.05 314.17H429.25M431.20 307.15V308.84M428.60 307.15H433.80M428.60 308.84H433.80M435.75 301.22V302.96M433.15 301.22H438.35M433.15 302.96H438.35M440.30 295.03V296.82M437.70 295.03H442.90M437.70 296.82H442.90M444.85 287.74V289.63M442.25 287.74H447.45M442.25 289.63H447.45M449.40 277.75V279.77M446.80 277.75H452.00M446.80 279.77H452.00M453.95 266.29V268.44M451.35 266.29H456.55M451.35 268.44H456.55M458.50 251.17V253.53M455.90 251.17H461.10M455.90 253.53H461.10M463.05 232.14V234.74M460.45 232.14H465.65M460.45 234.74H465.65M467.60 208.12V211.03M465.00 208.12H470.20M465.00 211.03H470.20M472.15 177.51V180.77M469.55 177.51H474.75M469.55 180.77H474.75M476.70 143.29V146.88M474.10 143.29H479.30M474.10 146.88H479.30M481.25 103.87V107.73M478.65 103.87H483.85M478.65 107.73H483.85M485.80 67.77V71.43M483.20 67.77H488.40M483.20 71.43H488.40M490.35 50.64V53.69M487.75 50.64H492.95M487.75 53.69H492.95M494.90 74.29V78.31M492.30 74.29H497.50M492.30 78.31H497.50M499.45 154.15V159.35M496.85 154.15H502.05M496.85 159.35H502.05M504.00 262.49V266.87M501.40 262.49H506.60M501.40 266.87H506.60M508.55 335.93V338.24M505.95 335.93H511.15M505.95 338.24H511.15M513.10 357.19V358.54M510.50 357.19H515.70M510.50 358.54H515.70M517.65 360.28V360.28M515.05 360.28H520.25M515.05 360.28H520.25M522.20 360.55V360.55M519.60 360.55H524.80M519.60 360.55H524.80M526.75 360.55V360.55M524.15 360.55H529.35M524.15 360.55H529.35M531.30 360.55V360.55M528.70 360.55H533.90M528.70 360.55H533.90M535.85 360.55V360.55M533.25 360.55H538.45M533.25 360.55H538.45M540.40 360.55V360.55M537.80 360.55H543.00M537.80 360.55H543.00M544.95 360.55V360.55M542.35 360.55H547.55M542.35 360.55H547.55M549.50 360.55V360.55M546.90 360.55H552.10M546.90 360.55H552.10" fill="none" stroke="#c04000" stroke-width="1.0"/>
<path d="M91.90 357.95H97.10V363.15H91.90ZM96.45 357.95H101.65V363.15H96.45ZM101.00 357.95H106.20V363.15H101.00ZM105.55 357.95H110.75V363.15H105.55ZM110.10 357.95H115.30V363.15H110.10ZM114.65 357.95H119.85V363.15H114.65ZM119.20 357.95H124.40V363.15H119.20ZM123.75 357.68H128.95V362.88H123.75ZM128.30 355.27H133.50V360.47H128.30ZM132.85 334.49H138.05V339.69H132.85ZM137.40 262.08H142.60V267.28H137.40ZM141.95 154.15H147.15V159.35H141.95ZM146.50 73.70H151.70V78.90H146.50ZM151.05 49.57H156.25V54.77H151.05ZM155.60 67.00H160.80V72.20H155.60ZM160.15 103.20H165.35V108.40H160.15ZM164.70 142.48H169.90V147.68H164.70ZM169.25 176.54H174.45V181.74H169.25ZM173.80 206.98H179.00V212.18H173.80ZM178.35 230.84H183.55V236.04H178.35ZM182.90 249.75H188.10V254.95H182.90ZM187.45 264.76H192.65V269.96H187.45ZM192.00 276.16H197.20V281.36H192.00ZM196.55 286.08H201.75V291.28H196.55ZM201.10 293.32H206.30V298.52H201.10ZM205.65 299.49H210.85V304.69H205.65ZM210.20 305.39H215.40V310.59H210.20ZM214.75 310.75H219.95V315.95H214.75ZM219.30 314.78H224.50V319.98H219.30ZM223.85 318.26H229.05V323.46H223.85ZM228.40 321.35H233.60V326.55H228.40ZM232.95 324.03H238.15V329.23H232.95ZM237.50 325.90H242.70V331.10H237.50ZM242.05 327.11H247.25V332.31H242.05ZM246.60 328.32H251.80V333.52H246.60ZM251.15 329.26H256.35V334.46H251.15ZM255.70 330.06H260.90V335.26H255.70ZM260.25 330.87H265.45V336.07H260.25ZM264.80 331.54H270.00V336.74H264.80ZM269.35 332.21H274.55V337.41H269.35ZM273.90 332.74H279.10V337.94H273.90ZM278.45 333.21H283.65V338.41H278.45ZM283.00 334.08H288.20V339.28H283.00ZM287.55 334.75H292.75V339.95H287.55ZM292.10 335.29H297.30V340.49H292.10ZM296.65 335.69H301.85V340.89H296.65ZM301.20 335.89H306.40V341.09H301.20ZM305.75 335.96H310.95V341.16H305.75ZM310.30 336.03H315.50V341.23H310.30ZM314.85 336.03H320.05V341.23H314.85ZM319.40 335.96H324.60V341.16H319.40ZM323.95 336.03H329.15V341.23H323.95ZM328.50 336.03H333.70V341.23H328.50ZM333.05 335.96H338.25V341.16H333.05ZM337.60 335.89H342.80V341.09H337.60ZM342.15 335.69H347.35V340.89H342.15ZM346.70 335.29H351.90V340.49H346.70ZM351.25 334.75H356.45V339.95H351.25ZM355.80 334.08H361.00V339.28H355.80ZM360.35 333.21H365.55V338.41H360.35ZM364.90 332.74H370.10V337.94H364.90ZM369.45 332.21H374.65V337.41H369.45ZM374.00 331.54H379.20V336.74H374.00ZM378.55 330.87H383.75V336.07H378.55ZM383.10 330.06H388.30V335.26H383.10ZM387.65 329.26H392.85V334.46H387.65ZM392.20 328.32H397.40V333.52H392.20ZM396.75 327.11H401.95V332.31H396.75ZM401.30 325.90H406.50V331.10H401.30ZM405.85 324.03H411.05V329.23H405.85ZM410.40 321.35H415.60V326.55H410.40ZM414.95 318.26H420.15V323.46H414.95ZM419.50 314.78H424.70V319.98H419.50ZM424.05 310.75H429.25V315.95H424.05ZM428.60 305.39H433.80V310.59H428.60ZM433.15 299.49H438.35V304.69H433.15ZM437.70 293.32H442.90V298.52H437.70ZM442.25 286.08H447.45V291.28H442.25ZM446.80 276.16H452.00V281.36H446.80ZM451.35 264.76H456.55V269.96H451.35ZM455.90 249.75H461.10V254.95H455.90ZM460.45 230.84H465.65V236.04H460.45ZM465.00 206.98H470.20V212.18H465.00ZM469.55 176.54H474.75V181.74H469.55ZM474.10 142.48H479.30V147.68H474.10ZM478.65 103.20H483.85V108.40H478.65ZM483.20 67.00H488.40V72.20H483.20ZM487.75 49.57H492.95V54.77H487.75ZM492.30 73.70H497.50V78.90H492.30ZM496.85 154.15H502.05V159.35H496.85ZM501.40 262.08H506.60V267.28H501.40ZM505.95 334.49H511.15V339.69H505.95ZM510.50 355.27H515.70V360.47H510.50ZM515.05 357.68H520.25V362.88H515.05ZM519.60 357.95H524.80V363.15H519.60ZM524.15 357.95H529.35V363.15H524.15ZM528.70 357.95H533.90V363.15H528.70ZM533.25 357.95H538.45V363.15H533.25ZM537.80 357.95H543.00V363.15H537.80ZM542.35 357.95H547.55V363.15H542.35ZM546.90 357.95H552.10V363.15H546.90Z" fill="none" stroke="#c04000" stroke-width="1.0"/>
<path d="M94.50 360.55L95.15 360.55L95.80 360.55L96.45 360.55L97.10 360.55L97.75 360.55L98.40 360.55L99.05 360.55L99.70 360.55L100.35 360.55L101.00 360.55L101.65 360.55L102.30 360.55L102.95 360.55L103.60 360.55L104.25 360.55L104.90 360.55L105.55 360.55L106.20 360.55L106.85 360.55L107.50 360.55L108.15 360.55L108.80 360.55L109.45 360.55L110.10 360.55L110.75 360.55L111.40 360.55L112.05 360.55L112.70 360.55L113.35 360.55L114.00 360.55L114.65 360.55L115.30 360.55L115.95 360.55L116.60 360.55L117.25 360.55L117.90 360.55L118.55 360.55L119.20 360.55L119.85 360.55L120.50 360.55L121.15 360.55L121.80 360.55L122.45 360.55L123.10 360.55L123.75 360.55L124.40 360.55L125.05 360.55L125.70 360.55L126.35 360.55L127.00 360.55L127.65 360.55L128.30 360.55L128.95 360.55L129.60 360.55L130.25 360.55L130.90 360.55L131.55 360.54L132.20 360.53L132.85 360.50L133.50 360.46L134.15 360.41L134.80 360.35L135.45 360.28L135.45 360.28L136.10 360.04L136.75 359.46L137.40 358.58L138.05 357.42L138.70 356.01L139.35 354.36L140.00 352.51L140.65 349.32L141.30 343.90L141.95 336.65L142.60 327.93L143.25 318.14L143.90 307.66L144.55 296.86L145.20 284.29L145.85 268.81L146.50 251.29L147.15 232.60L147.80 213.60L148.45 195.18L149.10 178.20L149.75 161.63L150.40 144.33L151.05 127.04L151.70 110.49L152.35 95.41L153.00 82.51L153.65 72.55L154.30 64.27L154.95 56.22L155.60 48.78L156.25 42.33L156.90 37.25L157.55 33.92L158.20 32.72L158.85 33.23L159.50 34.64L160.15 36.78L160.80 39.50L161.45 42.64L162.10 46.02L162.75 49.48L163.40 53.64L164.05 59.01L164.70 65.26L165.35 72.09L166.00 79.18L166.65 86.23L167.30 92.93L167.30 92.93L167.95 99.47L168.60 106.20L169.25 113.02L169.90 119.85L170.55 126.57L171.20 133.09L171.85 139.32L171.85 139.32L172.50 145.30L173.15 151.17L173.80 156.90L174.45 162.48L175.10 167.90L175.75 173.14L176.40 178.20L177.05 183.10L177.70 187.86L178.35 192.49L179.00 196.98L179.65 201.33L180.30 205.53L180.95 209.58L181.60 213.50L182.25 217.32L182.90 221.03L183.55 224.62L184.20 228.07L184.85 231.37L185.50 234.51L186.15 237.52L186.80 240.42L187.45 243.21L188.10 245.89L188.75 248.47L189.40 250.93L190.05 253.29L190.05 253.29L190.70 255.52L191.35 257.63L192.00 259.66L192.65 261.62L193.30 263.54L193.95 265.45L194.60 267.36L195.25 269.32L195.90 271.29L196.55 273.26L197.20 275.18L197.85 277.03L198.50 278.77L199.15 280.37L199.80 281.85L200.45 283.25L201.10 284.58L201.75 285.85L202.40 287.06L203.05 288.23L203.70 289.35L204.35 290.44L205.00 291.48L205.65 292.47L206.30 293.44L206.95 294.38L207.60 295.29L208.25 296.19L208.90 297.07L209.55 297.93L210.20 298.77L210.85 299.59L211.50 300.39L212.15 301.18L212.80 301.96L213.45 302.72L214.10 303.46L214.75 304.19L215.40 304.91L216.05 305.62L216.70 306.34L217.35 307.05L217.35 307.05L218.00 307.77L218.65 308.50L219.30 309.23L219.95 309.94L220.60 310.65L221.25 311.34L221.90 312.01L221.90 312.01L222.55 312.66L223.20 313.31L223.85 313.93L224.50 314.55L225.15 315.15L225.80 315.73L226.45 316.30L226.45 316.30L227.10 316.87L227.75 317.42L228.40 317.97L229.05 318.51L229.70 319.01L230.35 319.49L231.00 319.92L231.65 320.33L232.30 320.71L232.95 321.07L233.60 321.41L234.25 321.73L234.90 322.04L235.55 322.34L236.20 322.62L236.85 322.90L237.50 323.17L238.15 323.42L238.80 323.66L239.45 323.88L240.10 324.08L240.75 324.26L241.40 324.43L242.05 324.58L242.70 324.73L243.35 324.87L244.00 325.01L244.65 325.15L244.65 325.15L245.30 325.29L245.95 325.43L246.60 325.56L247.25 325.70L247.90 325.83L248.55 325.96L249.20 326.09L249.20 326.09L249.85 326.23L250.50 326.36L251.15 326.49L251.80 326.63L252.45 326.76L253.10 326.90L253.75 327.03L253.75 327.03L254.40 327.16L255.05 327.29L255.70 327.43L256.35 327.56L257.00 327.69L257.65 327.83L258.30 327.97L258.95 328.12L259.60 328.27L260.25 328.43L260.90 328.58L261.55 328.74L262.20 328.89L262.85 329.04L263.50 329.18L264.15 329.31L264.80 329.43L265.45 329.56L266.10 329.69L266.75 329.83L267.40 329.98L268.05 330.14L268.70 330.32L269.35 330.50L270.00 330.70L270.65 330.90L271.30 331.11L271.95 331.32L271.95 331.32L272.60 331.55L273.25 331.80L273.90 332.06L274.55 332.32L275.20 332.59L275.85 332.83L276.50 333.06L276.50 333.06L277.15 333.28L277.80 333.50L278.45 333.71L279.10 333.91L279.75 334.10L280.40 334.26L281.05 334.40L281.05 334.40L281.70 334.53L282.35 334.66L283.00 334.77L283.65 334.88L284.30 334.97L284.95 335.03L285.60 335.07L285.60 335.07L286.25 335.10L286.90 335.11L287.55 335.13L288.20 335.14L288.85 335.15L289.50 335.16L290.15 335.18L290.80 335.21L291.45 335.26L292.10 335.31L292.75 335.37L293.40 335.44L294.05 335.50L294.70 335.56L295.35 335.61L296.00 335.66L296.65 335.71L297.30 335.77L297.95 335.82L298.60 335.88L299.25 335.95L299.25 335.95L299.90 336.02L300.55 336.11L301.20 336.21L301.85 336.31L302.50 336.40L303.15 336.49L303.80 336.55L303.80 336.55L304.45 336.60L305.10 336.66L305.75 336.71L306.40 336.75L307.05 336.79L307.70 336.81L308.35 336.82L308.35 336.82L309.00 336.81L309.65 336.79L310.30 336.76L310.95 336.71L311.60 336.66L312.25 336.61L312.90 336.55L312.90 336.55L313.55 336.47L314.20 336.35L314.85 336.20L315.50 336.04L316.15 335.88L316.80 335.73L317.45 335.61L317.45 335.61L318.10 335.50L318.75 335.38L319.40 335.27L320.05 335.17L320.70 335.08L321.35 335.03L322.00 335.01L322.65 335.02L323.30 335.05L323.95 335.09L324.60 335.14L325.25 335.20L325.90 335.27L326.55 335.34L326.55 335.34L327.20 335.44L327.85 335.57L328.50 335.72L329.15 335.89L329.80 336.04L330.45 336.18L331.10 336.28L331.10 336.28L331.75 336.36L332.40 336.44L333.05 336.52L333.70 336.58L334.35 336.64L335.00 336.67L335.65 336.68L335.65 336.68L336.30 336.68L336.95 336.67L337.60 336.65L338.25 336.63L338.90 336.61L339.55 336.58L340.20 336.55L340.20 336.55L340.85 336.51L341.50 336.45L342.15 336.38L342.80 336.30L343.45 336.22L344.10 336.14L344.75 336.08L344.75 336.08L345.40 336.02L346.05 335.97L346.70 335.91L347.35 335.86L348.00 335.82L348.65 335.78L349.30 335.75L349.30 335.75L349.95 335.72L350.60 335.70L351.25 335.69L351.90 335.67L352.55 335.66L353.20 335.64L353.85 335.61L353.85 335.61L354.50 335.57L355.15 335.51L355.80 335.44L356.45 335.35L357.10 335.26L357.75 335.17L358.40 335.07L358.40 335.07L359.05 334.98L359.70 334.89L360.35 334.79L361.00 334.69L361.65 334.57L362.30 334.45L362.95 334.32L362.95 334.32L363.60 334.18L364.25 334.02L364.90 333.85L365.55 333.67L366.20 333.47L366.85 333.27L367.50 333.06L367.50 333.06L368.15 332.84L368.80 332.59L369.45 332.33L370.10 332.07L370.75 331.80L371.40 331.55L372.05 331.32L372.05 331.32L372.70 331.11L373.35 330.90L374.00 330.70L374.65 330.50L375.30 330.32L375.95 330.14L376.60 329.98L377.25 329.83L377.90 329.69L378.55 329.56L379.20 329.43L379.85 329.31L380.50 329.18L381.15 329.04L381.80 328.89L382.45 328.74L383.10 328.58L383.75 328.43L384.40 328.27L385.05 328.12L385.70 327.97L386.35 327.83L387.00 327.69L387.65 327.56L388.30 327.43L388.95 327.29L389.60 327.16L390.25 327.03L390.25 327.03L390.90 326.90L391.55 326.76L392.20 326.63L392.85 326.49L393.50 326.36L394.15 326.23L394.80 326.09L394.80 326.09L395.45 325.96L396.10 325.83L396.75 325.70L397.40 325.56L398.05 325.43L398.70 325.29L399.35 325.15L399.35 325.15L400.00 325.01L400.65 324.87L401.30 324.73L401.95 324.58L402.60 324.43L403.25 324.26L403.90 324.08L403.90 324.08L404.55 323.88L405.20 323.66L405.85 323.42L406.50 323.17L407.15 322.90L407.80 322.62L408.45 322.34L408.45 322.34L409.10 322.04L409.75 321.73L410.40 321.41L411.05 321.07L411.70 320.71L412.35 320.33L413.00 319.92L413.00 319.92L413.65 319.49L414.30 319.01L414.95 318.51L415.60 317.97L416.25 317.42L416.90 316.87L417.55 316.30L417.55 316.30L418.20 315.73L418.85 315.15L419.50 314.55L420.15 313.93L420.80 313.31L421.45 312.66L422.10 312.01L422.10 312.01L422.75 311.34L423.40 310.65L424.05 309.94L424.70 309.23L425.35 308.50L426.00 307.77L426.65 307.05L426.65 307.05L427.30 306.34L427.95 305.62L428.60 304.91L429.25 304.19L429.90 303.46L430.55 302.72L431.20 301.96L431.85 301.18L432.50 300.39L433.15 299.59L433.80 298.77L434.45 297.93L435.10 297.07L435.75 296.19L436.40 295.29L437.05 294.38L437.70 293.44L438.35 292.47L439.00 291.48L439.65 290.44L440.30 289.35L440.95 288.23L441.60 287.06L442.25 285.85L442.90 284.58L443.55 283.25L444.20 281.85L444.85 280.37L445.50 278.77L446.15 277.03L446.80 275.18L447.45 273.26L448.10 271.29L448.75 269.32L449.40 267.36L450.05 265.45L450.70 263.54L451.35 261.62L452.00 259.66L452.65 257.63L453.30 255.52L453.95 253.29L453.95 253.29L454.60 250.93L455.25 248.47L455.90 245.89L456.55 243.21L457.20 240.42L457.85 237.52L458.50 234.51L458.50 234.51L459.15 231.37L459.80 228.07L460.45 224.62L461.10 221.03L461.75 217.32L462.40 213.50L463.05 209.58L463.05 209.58L463.70 205.53L464.35 201.33L465.00 196.98L465.65 192.49L466.30 187.86L466.95 183.10L467.60 178.20L467.60 178.20L468.25 173.14L468.90 167.89L469.55 162.46L470.20 156.87L470.85 151.14L471.50 145.29L472.15 139.32L472.15 139.32L472.80 133.12L473.45 126.64L474.10 119.96L474.75 113.20L475.40 106.44L476.05 99.78L476.70 93.33L476.70 93.33L477.35 86.74L478.00 79.82L478.65 72.87L479.30 66.18L479.95 60.05L480.60 54.79L481.25 50.69L481.90 47.26L482.55 43.91L483.20 40.80L483.85 38.10L484.50 35.97L485.15 34.57L485.80 34.07L486.45 35.27L487.10 38.62L487.75 43.74L488.40 50.24L489.05 57.73L489.70 65.83L490.35 74.16L491.00 84.17L491.65 97.13L492.30 112.27L492.95 128.87L493.60 146.17L494.25 163.44L494.90 179.94L495.55 196.76L496.20 214.92L496.85 233.59L497.50 251.95L498.15 269.17L498.80 284.41L499.45 296.86L500.10 307.62L500.75 318.09L501.40 327.88L502.05 336.61L502.70 343.88L503.35 349.31L504.00 352.51L504.65 354.36L505.30 356.01L505.95 357.42L506.60 358.58L507.25 359.46L507.90 360.04L508.55 360.28L508.55 360.28L509.20 360.35L509.85 360.41L510.50 360.46L511.15 360.50L511.80 360.53L512.45 360.54L513.10 360.55L513.10 360.55L513.75 360.55L514.40 360.55L515.05 360.55L515.70 360.55L516.35 360.55L517.00 360.55L517.65 360.55L517.65 360.55L518.30 360.55L518.95 360.55L519.60 360.55L520.25 360.55L520.90 360.55L521.55 360.55L522.20 360.55L522.20 360.55L522.85 360.55L523.50 360.55L524.15 360.55L524.80 360.55L525.45 360.55L526.10 360.55L526.75 360.55L526.75 360.55L527.40 360.55L528.05 360.55L528.70 360.55L529.35 360.55L530.00 360.55L530.65 360.55L531.30 360.55L531.30 360.55L531.95 360.55L532.60 360.55L533.25 360.55L533.90 360.55L534.55 360.55L535.20 360.55L535.85 360.55L536.50 360.55L537.15 360.55L537.80 360.55L538.45 360.55L539.10 360.55L539.75 360.55L540.40 360.55L541.05 360.55L541.70 360.55L542.35 360.55L543.00 360.55L543.65 360.55L544.30 360.55L544.95 360.55L545.60 360.55L546.25 360.55L546.90 360.55L547.55 360.55L548.20 360.55L548.85 360.55L549.50 360.55" fill="none" stroke="#000000" stroke-width="1.0" stroke-linejoin="round"/>
<path d="M94.50 360.55V360.55M91.90 360.55H97.10M91.90 360.55H97.10M99.05 360.55V360.55M96.45 360.55H101.65M96.45 360.55H101.65M103.60 360.55V360.55M101.00 360.55H106.20M101.00 360.55H106.20M108.15 360.55V360.55M105.55 360.55H110.75M105.55 360.55H110.75M112.70 360.55V360.55M110.10 360.55H115.30M110.10 360.55H115.30M117.25 360.55V360.55M114.65 360.55H119.85M114.65 360.55H119.85M121.80 360.55V360.55M119.20 360.55H124.40M119.20 360.55H124.40M126.35 360.55V360.55M123.75 360.55H128.95M123.75 360.55H128.95M130.90 360.55V360.55M128.30 360.55H133.50M128.30 360.55H133.50M135.45 360.28V360.28M132.85 360.28H138.05M132.85 360.28H138.05M140.00 350.60V354.41M137.40 350.60H142.60M137.40 354.41H142.60M144.55 291.86V301.87M141.95 291.86H147.15M141.95 301.87H147.15M149.10 170.45V185.95M146.50 170.45H151.70M146.50 185.95H151.70M153.65 65.79V79.30M151.05 65.79H156.25M151.05 79.30H156.25M158.20 27.84V37.60M155.60 27.84H160.80M155.60 37.60H160.80M162.75 43.82V55.15M160.15 43.82H165.35M160.15 55.15H165.35M167.30 86.91V98.94M164.70 86.91H169.90M164.70 98.94H169.90M171.85 133.92V144.72M169.25 133.92H174.45M169.25 144.72H174.45M176.40 173.53V182.87M173.80 173.53H179.00M173.80 182.87H179.00M180.95 205.53V213.62M178.35 205.53H183.55M178.35 213.62H183.55M185.50 231.00V238.03M182.90 231.00H188.10M182.90 238.03H188.10M190.05 250.19V256.38M187.45 250.19H192.65M187.45 256.38H192.65M194.60 264.52V270.20M192.00 264.52H197.20M192.00 270.20H197.20M199.15 277.79V282.95M196.55 277.79H201.75M196.55 282.95H201.75M203.70 286.99V291.72M201.10 286.99H206.30M201.10 291.72H206.30M208.25 293.96V298.42M205.65 293.96H210.85M205.65 298.42H210.85M212.80 299.82V304.09M210.20 299.82H215.40M210.20 304.09H215.40M217.35 304.99V309.12M214.75 304.99H219.95M214.75 309.12H219.95M221.90 310.02V314.00M219.30 310.02H224.50M219.30 314.00H224.50M226.45 314.39V318.22M223.85 314.39H229.05M223.85 318.22H229.05M231.00 318.09V321.76M228.40 318.09H233.60M228.40 321.76H233.60M235.55 320.56V324.11M232.95 320.56H238.15M232.95 324.11H238.15M240.10 322.35V325.81M237.50 322.35H242.70M237.50 325.81H242.70M244.65 323.45V326.86M242.05 323.45H247.25M242.05 326.86H247.25M249.20 324.40V327.78M246.60 324.40H251.80M246.60 327.78H251.80M253.75 325.35V328.71M251.15 325.35H256.35M251.15 328.71H256.35M258.30 326.30V329.64M255.70 326.30H260.90M255.70 329.64H260.90M262.85 327.38V330.70M260.25 327.38H265.45M260.25 330.70H265.45M267.40 328.33V331.63M264.80 328.33H270.00M264.80 331.63H270.00M271.95 329.66V332.98M269.35 329.66H274.55M269.35 332.98H274.55M276.50 331.43V334.70M273.90 331.43H279.10M273.90 334.70H279.10M281.05 332.81V336.00M278.45 332.81H283.65M278.45 336.00H283.65M285.60 333.51V336.64M283.00 333.51H288.20M283.00 336.64H288.20M290.15 333.62V336.74M287.55 333.62H292.75M287.55 336.74H292.75M294.70 333.99V337.12M292.10 333.99H297.30M292.10 337.12H297.30M299.25 334.38V337.51M296.65 334.38H301.85M296.65 337.51H301.85M303.80 334.99V338.11M301.20 334.99H306.40M301.20 338.11H306.40M308.35 335.22V338.42M305.75 335.22H310.95M305.75 338.42H310.95M312.90 334.70V338.40M310.30 334.70H315.50M310.30 338.40H315.50M317.45 333.30V337.93M314.85 333.30H320.05M314.85 337.93H320.05M322.00 332.45V337.57M319.40 332.45H324.60M319.40 337.57H324.60M326.55 333.03V337.65M323.95 333.03H329.15M323.95 337.65H329.15M331.10 334.43V338.14M328.50 334.43H333.70M328.50 338.14H333.70M335.65 335.08V338.28M333.05 335.08H338.25M333.05 338.28H338.25M340.20 335.00V338.10M337.60 335.00H342.80M337.60 338.10H342.80M344.75 334.52V337.64M342.15 334.52H347.35M342.15 337.64H347.35M349.30 334.19V337.30M346.70 334.19H351.90M346.70 337.30H351.90M353.85 334.05V337.17M351.25 334.05H356.45M351.25 337.17H356.45M358.40 333.50V336.65M355.80 333.50H361.00M355.80 336.65H361.00M362.95 332.72V335.92M360.35 332.72H365.55M360.35 335.92H365.55M367.50 331.43V334.70M364.90 331.43H370.10M364.90 334.70H370.10M372.05 329.66V332.98M369.45 329.66H374.65M369.45 332.98H374.65M376.60 328.33V331.63M374.00 328.33H379.20M374.00 331.63H379.20M381.15 327.38V330.70M378.55 327.38H383.75M378.55 330.70H383.75M385.70 326.30V329.64M383.10 326.30H388.30M383.10 329.64H388.30M390.25 325.35V328.71M387.65 325.35H392.85M387.65 328.71H392.85M394.80 324.40V327.78M392.20 324.40H397.40M392.20 327.78H397.40M399.35 323.45V326.86M396.75 323.45H401.95M396.75 326.86H401.95M403.90 322.35V325.81M401.30 322.35H406.50M401.30 325.81H406.50M408.45 320.56V324.11M405.85 320.56H411.05M405.85 324.11H411.05M413.00 318.09V321.76M410.40 318.09H415.60M410.40 321.76H415.60M417.55 314.39V318.22M414.95 314.39H420.15M414.95 318.22H420.15M422.10 310.02V314.00M419.50 310.02H424.70M419.50 314.00H424.70M426.65 304.99V309.12M424.05 304.99H429.25M424.05 309.12H429.25M431.20 299.82V304.09M428.60 299.82H433.80M428.60 304.09H433.80M435.75 293.96V298.42M433.15 293.96H438.35M433.15 298.42H438.35M440.30 286.99V291.72M437.70 286.99H442.90M437.70 291.72H442.90M444.85 277.79V282.95M442.25 277.79H447.45M442.25 282.95H447.45M449.40 264.52V270.20M446.80 264.52H452.00M446.80 270.20H452.00M453.95 250.19V256.38M451.35 250.19H456.55M451.35 256.38H456.55M458.50 231.00V238.03M455.90 231.00H461.10M455.90 238.03H461.10M463.05 205.53V213.62M460.45 205.53H465.65M460.45 213.62H465.65M467.60 173.53V182.87M465.00 173.53H470.20M465.00 182.87H470.20M472.15 133.93V144.71M469.55 133.93H474.75M469.55 144.71H474.75M476.70 87.35V99.31M474.10 87.35H479.30M474.10 99.31H479.30M481.25 45.05V56.33M478.65 45.05H483.85M478.65 56.33H483.85M485.80 29.20V38.93M483.20 29.20H488.40M483.20 38.93H488.40M490.35 67.41V80.91M487.75 67.41H492.95M487.75 80.91H492.95M494.90 172.24V187.65M492.30 172.24H497.50M492.30 187.65H497.50M499.45 291.87V301.85M496.85 291.87H502.05M496.85 301.85H502.05M504.00 350.60V354.41M501.40 350.60H506.60M501.40 354.41H506.60M508.55 360.28V360.28M505.95 360.28H511.15M505.95 360.28H511.15M513.10 360.55V360.55M510.50 360.55H515.70M510.50 360.55H515.70M517.65 360.55V360.55M515.05 360.55H520.25M515.05 360.55H520.25M522.20 360.55V360.55M519.60 360.55H524.80M519.60 360.55H524.80M526.75 360.55V360.55M524.15 360.55H529.35M524.15 360.55H529.35M531.30 360.55V360.55M528.70 360.55H533.90M528.70 360.55H533.90M535.85 360.55V360.55M533.25 360.55H538.45M533.25 360.55H538.45M540.40 360.55V360.55M537.80 360.55H543.00M537.80 360.55H543.00M544.95 360.55V360.55M542.35 360.55H547.55M542.35 360.55H547.55M549.50 360.55V360.55M546.90 360.55H552.10M546.90 360.55H552.10" fill="none" stroke="#000000" stroke-width="1.0"/>
<path d="M91.90 360.55A2.60 2.60 0 1 0 97.10 360.55A2.60 2.60 0 1 0 91.90 360.55ZM96.45 360.55A2.60 2.60 0 1 0 101.65 360.55A2.60 2.60 0 1 0 96.45 360.55ZM101.00 360.55A2.60 2.60 0 1 0 106.20 360.55A2.60 2.60 0 1 0 101.00 360.55ZM105.55 360.55A2.60 2.60 0 1 0 110.75 360.55A2.60 2.60 0 1 0 105.55 360.55ZM110.10 360.55A2.60 2.60 0 1 0 115.30 360.55A2.60 2.60 0 1 0 110.10 360.55ZM114.65 360.55A2.60 2.60 0 1 0 119.85 360.55A2.60 2.60 0 1 0 114.65 360.55ZM119.20 360.55A2.60 2.60 0 1 0 124.40 360.55A2.60 2.60 0 1 0 119.20 360.55ZM123.75 360.55A2.60 2.60 0 1 0 128.95 360.55A2.60 2.60 0 1 0 123.75 360.55ZM128.30 360.55A2.60 2.60 0 1 0 133.50 360.55A2.60 2.60 0 1 0 128.30 360.55ZM132.85 360.28A2.60 2.60 0 1 0 138.05 360.28A2.60 2.60 0 1 0 132.85 360.28ZM137.40 352.51A2.60 2.60 0 1 0 142.60 352.51A2.60 2.60 0 1 0 137.40 352.51ZM141.95 296.86A2.60 2.60 0 1 0 147.15 296.86A2.60 2.60 0 1 0 141.95 296.86ZM146.50 178.20A2.60 2.60 0 1 0 151.70 178.20A2.60 2.60 0 1 0 146.50 178.20ZM151.05 72.55A2.60 2.60 0 1 0 156.25 72.55A2.60 2.60 0 1 0 151.05 72.55ZM155.60 32.72A2.60 2.60 0 1 0 160.80 32.72A2.60 2.60 0 1 0 155.60 32.72ZM160.15 49.48A2.60 2.60 0 1 0 165.35 49.48A2.60 2.60 0 1 0 160.15 49.48ZM164.70 92.93A2.60 2.60 0 1 0 169.90 92.93A2.60 2.60 0 1 0 164.70 92.93ZM169.25 139.32A2.60 2.60 0 1 0 174.45 139.32A2.60 2.60 0 1 0 169.25 139.32ZM173.80 178.20A2.60 2.60 0 1 0 179.00 178.20A2.60 2.60 0 1 0 173.80 178.20ZM178.35 209.58A2.60 2.60 0 1 0 183.55 209.58A2.60 2.60 0 1 0 178.35 209.58ZM182.90 234.51A2.60 2.60 0 1 0 188.10 234.51A2.60 2.60 0 1 0 182.90 234.51ZM187.45 253.29A2.60 2.60 0 1 0 192.65 253.29A2.60 2.60 0 1 0 187.45 253.29ZM192.00 267.36A2.60 2.60 0 1 0 197.20 267.36A2.60 2.60 0 1 0 192.00 267.36ZM196.55 280.37A2.60 2.60 0 1 0 201.75 280.37A2.60 2.60 0 1 0 196.55 280.37ZM201.10 289.35A2.60 2.60 0 1 0 206.30 289.35A2.60 2.60 0 1 0 201.10 289.35ZM205.65 296.19A2.60 2.60 0 1 0 210.85 296.19A2.60 2.60 0 1 0 205.65 296.19ZM210.20 301.96A2.60 2.60 0 1 0 215.40 301.96A2.60 2.60 0 1 0 210.20 301.96ZM214.75 307.05A2.60 2.60 0 1 0 219.95 307.05A2.60 2.60 0 1 0 214.75 307.05ZM219.30 312.01A2.60 2.60 0 1 0 224.50 312.01A2.60 2.60 0 1 0 219.30 312.01ZM223.85 316.30A2.60 2.60 0 1 0 229.05 316.30A2.60 2.60 0 1 0 223.85 316.30ZM228.40 319.92A2.60 2.60 0 1 0 233.60 319.92A2.60 2.60 0 1 0 228.40 319.92ZM232.95 322.34A2.60 2.60 0 1 0 238.15 322.34A2.60 2.60 0 1 0 232.95 322.34ZM237.50 324.08A2.60 2.60 0 1 0 242.70 324.08A2.60 2.60 0 1 0 237.50 324.08ZM242.05 325.15A2.60 2.60 0 1 0 247.25 325.15A2.60 2.60 0 1 0 242.05 325.15ZM246.60 326.09A2.60 2.60 0 1 0 251.80 326.09A2.60 2.60 0 1 0 246.60 326.09ZM251.15 327.03A2.60 2.60 0 1 0 256.35 327.03A2.60 2.60 0 1 0 251.15 327.03ZM255.70 327.97A2.60 2.60 0 1 0 260.90 327.97A2.60 2.60 0 1 0 255.70 327.97ZM260.25 329.04A2.60 2.60 0 1 0 265.45 329.04A2.60 2.60 0 1 0 260.25 329.04ZM264.80 329.98A2.60 2.60 0 1 0 270.00 329.98A2.60 2.60 0 1 0 264.80 329.98ZM269.35 331.32A2.60 2.60 0 1 0 274.55 331.32A2.60 2.60 0 1 0 269.35 331.32ZM273.90 333.06A2.60 2.60 0 1 0 279.10 333.06A2.60 2.60 0 1 0 273.90 333.06ZM278.45 334.40A2.60 2.60 0 1 0 283.65 334.40A2.60 2.60 0 1 0 278.45 334.40ZM283.00 335.07A2.60 2.60 0 1 0 288.20 335.07A2.60 2.60 0 1 0 283.00 335.07ZM287.55 335.18A2.60 2.60 0 1 0 292.75 335.18A2.60 2.60 0 1 0 287.55 335.18ZM292.10 335.56A2.60 2.60 0 1 0 297.30 335.56A2.60 2.60 0 1 0 292.10 335.56ZM296.65 335.95A2.60 2.60 0 1 0 301.85 335.95A2.60 2.60 0 1 0 296.65 335.95ZM301.20 336.55A2.60 2.60 0 1 0 306.40 336.55A2.60 2.60 0 1 0 301.20 336.55ZM305.75 336.82A2.60 2.60 0 1 0 310.95 336.82A2.60 2.60 0 1 0 305.75 336.82ZM310.30 336.55A2.60 2.60 0 1 0 315.50 336.55A2.60 2.60 0 1 0 310.30 336.55ZM314.85 335.61A2.60 2.60 0 1 0 320.05 335.61A2.60 2.60 0 1 0 314.85 335.61ZM319.40 335.01A2.60 2.60 0 1 0 324.60 335.01A2.60 2.60 0 1 0 319.40 335.01ZM323.95 335.34A2.60 2.60 0 1 0 329.15 335.34A2.60 2.60 0 1 0 323.95 335.34ZM328.50 336.28A2.60 2.60 0 1 0 333.70 336.28A2.60 2.60 0 1 0 328.50 336.28ZM333.05 336.68A2.60 2.60 0 1 0 338.25 336.68A2.60 2.60 0 1 0 333.05 336.68ZM337.60 336.55A2.60 2.60 0 1 0 342.80 336.55A2.60 2.60 0 1 0 337.60 336.55ZM342.15 336.08A2.60 2.60 0 1 0 347.35 336.08A2.60 2.60 0 1 0 342.15 336.08ZM346.70 335.75A2.60 2.60 0 1 0 351.90 335.75A2.60 2.60 0 1 0 346.70 335.75ZM351.25 335.61A2.60 2.60 0 1 0 356.45 335.61A2.60 2.60 0 1 0 351.25 335.61ZM355.80 335.07A2.60 2.60 0 1 0 361.00 335.07A2.60 2.60 0 1 0 355.80 335.07ZM360.35 334.32A2.60 2.60 0 1 0 365.55 334.32A2.60 2.60 0 1 0 360.35 334.32ZM364.90 333.06A2.60 2.60 0 1 0 370.10 333.06A2.60 2.60 0 1 0 364.90 333.06ZM369.45 331.32A2.60 2.60 0 1 0 374.65 331.32A2.60 2.60 0 1 0 369.45 331.32ZM374.00 329.98A2.60 2.60 0 1 0 379.20 329.98A2.60 2.60 0 1 0 374.00 329.98ZM378.55 329.04A2.60 2.60 0 1 0 383.75 329.04A2.60 2.60 0 1 0 378.55 329.04ZM383.10 327.97A2.60 2.60 0 1 0 388.30 327.97A2.60 2.60 0 1 0 383.10 327.97ZM387.65 327.03A2.60 2.60 0 1 0 392.85 327.03A2.60 2.60 0 1 0 387.65 327.03ZM392.20 326.09A2.60 2.60 0 1 0 397.40 326.09A2.60 2.60 0 1 0 392.20 326.09ZM396.75 325.15A2.60 2.60 0 1 0 401.95 325.15A2.60 2.60 0 1 0 396.75 325.15ZM401.30 324.08A2.60 2.60 0 1 0 406.50 324.08A2.60 2.60 0 1 0 401.30 324.08ZM405.85 322.34A2.60 2.60 0 1 0 411.05 322.34A2.60 2.60 0 1 0 405.85 322.34ZM410.40 319.92A2.60 2.60 0 1 0 415.60 319.92A2.60 2.60 0 1 0 410.40 319.92ZM414.95 316.30A2.60 2.60 0 1 0 420.15 316.30A2.60 2.60 0 1 0 414.95 316.30ZM419.50 312.01A2.60 2.60 0 1 0 424.70 312.01A2.60 2.60 0 1 0 419.50 312.01ZM424.05 307.05A2.60 2.60 0 1 0 429.25 307.05A2.60 2.60 0 1 0 424.05 307.05ZM428.60 301.96A2.60 2.60 0 1 0 433.80 301.96A2.60 2.60 0 1 0 428.60 301.96ZM433.15 296.19A2.60 2.60 0 1 0 438.35 296.19A2.60 2.60 0 1 0 433.15 296.19ZM437.70 289.35A2.60 2.60 0 1 0 442.90 289.35A2.60 2.60 0 1 0 437.70 289.35ZM442.25 280.37A2.60 2.60 0 1 0 447.45 280.37A2.60 2.60 0 1 0 442.25 280.37ZM446.80 267.36A2.60 2.60 0 1 0 452.00 267.36A2.60 2.60 0 1 0 446.80 267.36ZM451.35 253.29A2.60 2.60 0 1 0 456.55 253.29A2.60 2.60 0 1 0 451.35 253.29ZM455.90 234.51A2.60 2.60 0 1 0 461.10 234.51A2.60 2.60 0 1 0 455.90 234.51ZM460.45 209.58A2.60 2.60 0 1 0 465.65 209.58A2.60 2.60 0 1 0 460.45 209.58ZM465.00 178.20A2.60 2.60 0 1 0 470.20 178.20A2.60 2.60 0 1 0 465.00 178.20ZM469.55 139.32A2.60 2.60 0 1 0 474.75 139.32A2.60 2.60 0 1 0 469.55 139.32ZM474.10 93.33A2.60 2.60 0 1 0 479.30 93.33A2.60 2.60 0 1 0 474.10 93.33ZM478.65 50.69A2.60 2.60 0 1 0 483.85 50.69A2.60 2.60 0 1 0 478.65 50.69ZM483.20 34.07A2.60 2.60 0 1 0 488.40 34.07A2.60 2.60 0 1 0 483.20 34.07ZM487.75 74.16A2.60 2.60 0 1 0 492.95 74.16A2.60 2.60 0 1 0 487.75 74.16ZM492.30 179.94A2.60 2.60 0 1 0 497.50 179.94A2.60 2.60 0 1 0 492.30 179.94ZM496.85 296.86A2.60 2.60 0 1 0 502.05 296.86A2.60 2.60 0 1 0 496.85 296.86ZM501.40 352.51A2.60 2.60 0 1 0 506.60 352.51A2.60 2.60 0 1 0 501.40 352.51ZM505.95 360.28A2.60 2.60 0 1 0 511.15 360.28A2.60 2.60 0 1 0 505.95 360.28ZM510.50 360.55A2.60 2.60 0 1 0 515.70 360.55A2.60 2.60 0 1 0 510.50 360.55ZM515.05 360.55A2.60 2.60 0 1 0 520.25 360.55A2.60 2.60 0 1 0 515.05 360.55ZM519.60 360.55A2.60 2.60 0 1 0 524.80 360.55A2.60 2.60 0 1 0 519.60 360.55ZM524.15 360.55A2.60 2.60 0 1 0 529.35 360.55A2.60 2.60 0 1 0 524.15 360.55ZM528.70 360.55A2.60 2.60 0 1 0 533.90 360.55A2.60 2.60 0 1 0 528.70 360.55ZM533.25 360.55A2.60 2.60 0 1 0 538.45 360.55A2.60 2.60 0 1 0 533.25 360.55ZM537.80 360.55A2.60 2.60 0 1 0 543.00 360.55A2.60 2.60 0 1 0 537.80 360.55ZM542.35 360.55A2.60 2.60 0 1 0 547.55 360.55A2.60 2.60 0 1 0 542.35 360.55ZM546.90 360.55A2.60 2.60 0 1 0 552.10 360.55A2.60 2.60 0 1 0 546.90 360.55Z" fill="none" stroke="#000000" stroke-width="1.0"/>
<g font-family="Liberation Serif, serif" font-size="24" fill="#000"><path d="M341.9 196.80H397.4M341.9 194.20v5.2M397.4 194.20v5.2M366.90 196.80H372.10M369.50 194.20V199.40" stroke="#ff0000" stroke-width="0.9" fill="none"/>
<text x="265.0" y="203.30"><tspan font-style="italic">L</tspan> <tspan dy="1.8">=</tspan><tspan dy="-1.8"> 8</tspan></text>
<path d="M341.9 217.70H397.4M341.9 215.10v5.2M397.4 215.10v5.2M366.90 215.10L372.10 220.30M366.90 220.30L372.10 215.10" stroke="#006400" stroke-width="0.9" fill="none"/>
<text x="265.0" y="224.20"><tspan font-style="italic">L</tspan> <tspan dy="1.8">=</tspan><tspan dy="-1.8"> 12</tspan></text>
<path d="M341.9 238.60H397.4M341.9 236.00v5.2M397.4 236.00v5.2M366.90 238.60H372.10M369.50 236.00V241.20M366.90 236.00L372.10 241.20M366.90 241.20L372.10 236.00" stroke="#0000ff" stroke-width="0.9" fill="none"/>
<text x="265.0" y="245.10"><tspan font-style="italic">L</tspan> <tspan dy="1.8">=</tspan><tspan dy="-1.8"> 16</tspan></text>
<path d="M341.9 259.50H397.4M341.9 256.90v5.2M397.4 256.90v5.2M366.90 256.90H372.10V262.10H366.90Z" stroke="#c04000" stroke-width="0.9" fill="none"/>
<text x="265.0" y="266.00"><tspan font-style="italic">L</tspan> <tspan dy="1.8">=</tspan><tspan dy="-1.8"> 24</tspan></text>
<path d="M341.9 280.40H397.4M341.9 277.80v5.2M397.4 277.80v5.2M366.90 280.40A2.60 2.60 0 1 0 372.10 280.40A2.60 2.60 0 1 0 366.90 280.40Z" stroke="#000000" stroke-width="0.9" fill="none"/>
<text x="265.0" y="286.90"><tspan font-style="italic">L</tspan> <tspan dy="1.8">=</tspan><tspan dy="-1.8"> 32</tspan></text></g>
<rect x="229.0" y="57.85" width="210.3" height="95.15" fill="#fff"/>
<g clip-path="url(#ci)">
<path d="M212.40 105.43L212.75 105.55L213.09 105.68L213.44 105.81L213.79 105.95L214.14 106.08L214.48 106.21L214.49 106.21L214.83 106.34L215.18 106.47L215.53 106.60L215.88 106.74L216.22 106.87L216.57 107.00L216.92 107.14L217.27 107.27L217.62 107.41L217.96 107.54L218.31 107.68L218.66 107.82L219.01 107.95L219.35 108.09L219.70 108.23L220.05 108.37L220.40 108.51L220.75 108.64L221.09 108.78L221.44 108.92L221.79 109.06L222.14 109.21L222.49 109.35L222.83 109.49L223.18 109.63L223.53 109.77L223.88 109.92L224.22 110.06L224.57 110.21L224.92 110.35L225.27 110.50L225.62 110.64L225.96 110.79L226.31 110.93L226.66 111.08L227.01 111.23L227.36 111.38L227.70 111.53L227.79 111.56L228.05 111.68L228.40 111.83L228.75 111.98L229.09 112.13L229.44 112.28L229.79 112.44L230.14 112.59L230.49 112.75L230.83 112.91L231.18 113.08L231.53 113.24L231.88 113.41L232.23 113.58L232.57 113.75L232.92 113.91L233.27 114.09L233.62 114.26L233.96 114.43L234.31 114.60L234.66 114.77L235.01 114.94L235.36 115.11L235.70 115.28L236.05 115.46L236.40 115.63L236.75 115.79L237.10 115.96L237.44 116.13L237.79 116.29L238.14 116.46L238.49 116.62L238.84 116.78L239.18 116.94L239.53 117.09L239.88 117.25L240.23 117.40L240.57 117.55L240.92 117.69L241.08 117.76L241.27 117.83L241.62 117.97L241.97 118.12L242.31 118.26L242.66 118.40L243.01 118.54L243.36 118.68L243.71 118.82L244.05 118.96L244.40 119.09L244.75 119.23L245.10 119.37L245.44 119.50L245.79 119.64L246.14 119.77L246.49 119.90L246.84 120.04L247.18 120.17L247.53 120.30L247.88 120.43L248.23 120.55L248.58 120.68L248.92 120.80L249.27 120.93L249.62 121.05L249.97 121.17L250.31 121.29L250.66 121.40L251.01 121.52L251.36 121.63L251.71 121.74L252.05 121.85L252.40 121.96L252.75 122.07L253.10 122.17L253.45 122.27L253.79 122.37L254.14 122.47L254.38 122.53L254.49 122.56L254.84 122.65L255.18 122.74L255.53 122.83L255.88 122.92L256.23 123.00L256.58 123.09L256.92 123.17L257.27 123.25L257.62 123.33L257.97 123.41L258.32 123.49L258.66 123.56L259.01 123.64L259.36 123.71L259.71 123.78L260.05 123.86L260.40 123.93L260.75 124.00L261.10 124.07L261.45 124.14L261.79 124.21L262.14 124.28L262.49 124.35L262.84 124.41L263.19 124.48L263.53 124.55L263.88 124.62L264.23 124.69L264.58 124.76L264.92 124.83L265.27 124.90L265.62 124.97L265.97 125.04L266.32 125.11L266.66 125.18L267.01 125.25L267.36 125.33L267.67 125.39L267.71 125.40L268.06 125.48L268.40 125.55L268.75 125.63L269.10 125.71L269.45 125.79L269.80 125.87L270.14 125.96L270.49 126.04L270.84 126.13L271.19 126.21L271.53 126.30L271.88 126.38L272.23 126.46L272.58 126.55L272.93 126.63L273.27 126.71L273.62 126.80L273.97 126.88L274.32 126.96L274.67 127.03L275.01 127.11L275.36 127.18L275.71 127.26L276.06 127.33L276.40 127.40L276.75 127.46L277.10 127.52L277.45 127.58L277.80 127.64L278.14 127.69L278.49 127.74L278.84 127.79L279.19 127.83L279.54 127.88L279.88 127.92L280.23 127.97L280.58 128.01L280.93 128.05L280.97 128.06L281.27 128.09L281.62 128.14L281.97 128.18L282.32 128.22L282.67 128.26L283.01 128.30L283.36 128.34L283.71 128.38L284.06 128.42L284.41 128.46L284.75 128.49L285.10 128.53L285.45 128.57L285.80 128.60L286.14 128.64L286.49 128.68L286.84 128.71L287.19 128.75L287.54 128.78L287.88 128.81L288.23 128.85L288.58 128.88L288.93 128.91L289.28 128.94L289.62 128.98L289.97 129.01L290.32 129.04L290.67 129.07L291.01 129.10L291.36 129.12L291.71 129.15L292.06 129.18L292.41 129.21L292.75 129.23L293.10 129.26L293.45 129.29L293.80 129.31L294.15 129.33L294.26 129.34L294.49 129.36L294.84 129.38L295.19 129.40L295.54 129.43L295.88 129.45L296.23 129.47L296.58 129.49L296.93 129.51L297.28 129.53L297.62 129.54L297.97 129.56L298.32 129.58L298.67 129.60L299.02 129.61L299.36 129.63L299.71 129.64L300.06 129.66L300.41 129.67L300.75 129.68L301.10 129.69L301.45 129.71L301.80 129.72L302.15 129.73L302.49 129.74L302.84 129.75L303.19 129.76L303.54 129.78L303.89 129.79L304.23 129.80L304.58 129.81L304.93 129.82L305.28 129.83L305.63 129.84L305.97 129.85L306.32 129.86L306.67 129.88L307.02 129.89L307.36 129.90L307.56 129.90L307.71 129.91L308.06 129.92L308.41 129.93L308.76 129.94L309.10 129.95L309.45 129.96L309.80 129.97L310.15 129.97L310.50 129.98L310.84 129.99L311.19 130.00L311.54 130.01L311.89 130.02L312.23 130.03L312.58 130.03L312.93 130.04L313.28 130.05L313.63 130.06L313.97 130.06L314.32 130.07L314.67 130.08L315.02 130.08L315.37 130.09L315.71 130.10L316.06 130.10L316.41 130.11L316.76 130.11L317.10 130.12L317.45 130.12L317.80 130.13L318.15 130.13L318.50 130.14L318.84 130.14L319.19 130.14L319.54 130.15L319.89 130.15L320.24 130.15L320.58 130.16L320.85 130.16L320.93 130.16L321.28 130.16L321.63 130.16L321.97 130.16L322.32 130.16L322.67 130.16L323.02 130.16L323.37 130.16L323.71 130.16L324.06 130.16L324.41 130.16L324.76 130.16L325.11 130.16L325.45 130.16L325.80 130.16L326.15 130.16L326.50 130.16L326.84 130.16L327.19 130.16L327.54 130.16L327.89 130.16L328.24 130.16L328.58 130.16L328.93 130.16L329.28 130.16L329.63 130.16L329.98 130.16L330.32 130.16L330.67 130.16L331.02 130.16L331.37 130.16L331.71 130.16L332.06 130.16L332.41 130.16L332.76 130.16L333.11 130.16L333.45 130.16L333.80 130.16L334.15 130.16L334.15 130.16L334.50 130.16L334.85 130.16L335.19 130.16L335.54 130.16L335.89 130.16L336.24 130.16L336.59 130.16L336.93 130.16L337.28 130.16L337.63 130.16L337.98 130.16L338.32 130.16L338.67 130.16L339.02 130.16L339.37 130.16L339.72 130.16L340.06 130.16L340.41 130.16L340.76 130.16L341.11 130.16L341.46 130.16L341.80 130.16L342.15 130.16L342.50 130.16L342.85 130.16L343.19 130.16L343.54 130.16L343.89 130.16L344.24 130.16L344.59 130.16L344.93 130.16L345.28 130.16L345.63 130.16L345.98 130.16L346.33 130.16L346.67 130.16L347.02 130.16L347.37 130.16L347.45 130.16L347.72 130.16L348.06 130.15L348.41 130.15L348.76 130.15L349.11 130.14L349.46 130.14L349.80 130.14L350.15 130.13L350.50 130.13L350.85 130.12L351.20 130.12L351.54 130.11L351.89 130.11L352.24 130.10L352.59 130.10L352.93 130.09L353.28 130.08L353.63 130.08L353.98 130.07L354.33 130.06L354.67 130.06L355.02 130.05L355.37 130.04L355.72 130.03L356.07 130.03L356.41 130.02L356.76 130.01L357.11 130.00L357.46 129.99L357.80 129.98L358.15 129.97L358.50 129.97L358.85 129.96L359.20 129.95L359.54 129.94L359.89 129.93L360.24 129.92L360.59 129.91L360.74 129.90L360.94 129.90L361.28 129.89L361.63 129.88L361.98 129.86L362.33 129.85L362.67 129.84L363.02 129.83L363.37 129.82L363.72 129.81L364.07 129.80L364.41 129.79L364.76 129.78L365.11 129.76L365.46 129.75L365.81 129.74L366.15 129.73L366.50 129.72L366.85 129.71L367.20 129.69L367.55 129.68L367.89 129.67L368.24 129.66L368.59 129.64L368.94 129.63L369.28 129.61L369.63 129.60L369.98 129.58L370.33 129.56L370.68 129.54L371.02 129.53L371.37 129.51L371.72 129.49L372.07 129.47L372.42 129.45L372.76 129.43L373.11 129.40L373.46 129.38L373.81 129.36L374.04 129.34L374.15 129.33L374.50 129.31L374.85 129.29L375.20 129.26L375.55 129.23L375.89 129.21L376.24 129.18L376.59 129.15L376.94 129.12L377.29 129.10L377.63 129.07L377.98 129.04L378.33 129.01L378.68 128.98L379.02 128.94L379.37 128.91L379.72 128.88L380.07 128.85L380.42 128.81L380.76 128.78L381.11 128.75L381.46 128.71L381.81 128.68L382.16 128.64L382.50 128.60L382.85 128.57L383.20 128.53L383.55 128.49L383.89 128.46L384.24 128.42L384.59 128.38L384.94 128.34L385.29 128.30L385.63 128.26L385.98 128.22L386.33 128.18L386.68 128.14L387.03 128.09L387.33 128.06L387.37 128.05L387.72 128.01L388.07 127.97L388.42 127.92L388.76 127.88L389.11 127.83L389.46 127.79L389.81 127.74L390.16 127.69L390.50 127.64L390.85 127.58L391.20 127.52L391.55 127.46L391.90 127.40L392.24 127.33L392.59 127.26L392.94 127.18L393.29 127.11L393.63 127.03L393.98 126.96L394.33 126.88L394.68 126.80L395.03 126.71L395.37 126.63L395.72 126.55L396.07 126.46L396.42 126.38L396.77 126.30L397.11 126.21L397.46 126.13L397.81 126.04L398.16 125.96L398.50 125.87L398.85 125.79L399.20 125.71L399.55 125.63L399.90 125.55L400.24 125.48L400.59 125.40L400.63 125.39L400.94 125.33L401.29 125.25L401.64 125.18L401.98 125.11L402.33 125.04L402.68 124.97L403.03 124.90L403.38 124.83L403.72 124.76L404.07 124.69L404.42 124.62L404.77 124.55L405.11 124.48L405.46 124.41L405.81 124.35L406.16 124.28L406.51 124.21L406.85 124.14L407.20 124.07L407.55 124.00L407.90 123.93L408.25 123.86L408.59 123.78L408.94 123.71L409.29 123.64L409.64 123.56L409.98 123.49L410.33 123.41L410.68 123.33L411.03 123.25L411.38 123.17L411.72 123.09L412.07 123.00L412.42 122.92L412.77 122.83L413.12 122.74L413.46 122.65L413.81 122.56L413.92 122.53L414.16 122.47L414.51 122.37L414.85 122.27L415.20 122.17L415.55 122.07L415.90 121.96L416.25 121.85L416.59 121.74L416.94 121.63L417.29 121.52L417.64 121.40L417.99 121.29L418.33 121.17L418.68 121.05L419.03 120.93L419.38 120.80L419.72 120.68L420.07 120.55L420.42 120.43L420.77 120.30L421.12 120.17L421.46 120.04L421.81 119.90L422.16 119.77L422.51 119.64L422.86 119.50L423.20 119.37L423.55 119.23L423.90 119.09L424.25 118.96L424.59 118.82L424.94 118.68L425.29 118.54L425.64 118.40L425.99 118.26L426.33 118.12L426.68 117.97L427.03 117.83L427.22 117.76L427.38 117.69L427.73 117.55L428.07 117.40L428.42 117.25L428.77 117.09L429.12 116.94L429.46 116.78L429.81 116.62L430.16 116.46L430.51 116.29L430.86 116.13L431.20 115.96L431.55 115.79L431.90 115.63L432.25 115.46L432.60 115.28L432.94 115.11L433.29 114.94L433.64 114.77L433.99 114.60L434.34 114.43L434.68 114.26L435.03 114.09L435.38 113.91L435.73 113.75L436.07 113.58L436.42 113.41L436.77 113.24L437.12 113.08L437.47 112.91L437.81 112.75L438.16 112.59L438.51 112.44L438.86 112.28L439.21 112.13L439.55 111.98L439.90 111.83L440.25 111.68L440.51 111.56L440.60 111.53L440.94 111.38L441.29 111.23L441.64 111.08L441.99 110.93L442.34 110.79L442.68 110.64L443.03 110.50L443.38 110.35L443.73 110.21L444.08 110.06L444.42 109.92L444.77 109.77L445.12 109.63L445.47 109.49L445.81 109.35L446.16 109.21L446.51 109.06L446.86 108.92L447.21 108.78L447.55 108.64L447.90 108.51L448.25 108.37L448.60 108.23L448.95 108.09L449.29 107.95L449.64 107.82L449.99 107.68L450.34 107.54L450.68 107.41L451.03 107.27L451.38 107.14L451.73 107.00L452.08 106.87L452.42 106.74L452.77 106.60L453.12 106.47L453.47 106.34L453.81 106.21L453.82 106.21L454.16 106.08L454.51 105.95L454.86 105.81L455.21 105.68L455.55 105.55L455.90 105.43" fill="none" stroke="#ff0000" stroke-width="1.0" stroke-linejoin="round"/>
<path d="M214.49 102.95V109.47M211.89 102.95H217.09M211.89 109.47H217.09M227.79 108.31V114.81M225.19 108.31H230.39M225.19 114.81H230.39M241.08 114.52V120.99M238.48 114.52H243.68M238.48 120.99H243.68M254.38 119.32V125.74M251.78 119.32H256.98M251.78 125.74H256.98M267.67 122.19V128.59M265.07 122.19H270.27M265.07 128.59H270.27M280.97 124.87V131.24M278.37 124.87H283.57M278.37 131.24H283.57M294.26 126.17V132.52M291.66 126.17H296.86M291.66 132.52H296.86M307.56 126.73V133.07M304.96 126.73H310.16M304.96 133.07H310.16M320.85 126.99V133.32M318.25 126.99H323.45M318.25 133.32H323.45M334.15 127.00V133.33M331.55 127.00H336.75M331.55 133.33H336.75M347.45 126.99V133.32M344.85 126.99H350.05M344.85 133.32H350.05M360.74 126.73V133.07M358.14 126.73H363.34M358.14 133.07H363.34M374.04 126.17V132.52M371.44 126.17H376.64M371.44 132.52H376.64M387.33 124.87V131.24M384.73 124.87H389.93M384.73 131.24H389.93M400.63 122.19V128.59M398.03 122.19H403.23M398.03 128.59H403.23M413.92 119.32V125.74M411.32 119.32H416.52M411.32 125.74H416.52M427.22 114.52V120.99M424.62 114.52H429.82M424.62 120.99H429.82M440.51 108.31V114.81M437.91 108.31H443.11M437.91 114.81H443.11M453.81 102.95V109.47M451.21 102.95H456.41M451.21 109.47H456.41" fill="none" stroke="#ff0000" stroke-width="1.0"/>
<path d="M211.89 106.21H217.09M214.49 103.61V108.81M225.19 111.56H230.39M227.79 108.96V114.16M238.48 117.76H243.68M241.08 115.16V120.36M251.78 122.53H256.98M254.38 119.93V125.13M265.07 125.39H270.27M267.67 122.79V127.99M278.37 128.06H283.57M280.97 125.46V130.66M291.66 129.34H296.86M294.26 126.74V131.94M304.96 129.90H310.16M307.56 127.30V132.50M318.25 130.16H323.45M320.85 127.56V132.76M331.55 130.16H336.75M334.15 127.56V132.76M344.85 130.16H350.05M347.45 127.56V132.76M358.14 129.90H363.34M360.74 127.30V132.50M371.44 129.34H376.64M374.04 126.74V131.94M384.73 128.06H389.93M387.33 125.46V130.66M398.03 125.39H403.23M400.63 122.79V127.99M411.32 122.53H416.52M413.92 119.93V125.13M424.62 117.76H429.82M427.22 115.16V120.36M437.91 111.56H443.11M440.51 108.96V114.16M451.21 106.21H456.41M453.81 103.61V108.81" fill="none" stroke="#ff0000" stroke-width="1.0"/>
</g>
<g clip-path="url(#ci)">
<path d="M212.40 106.38L212.75 106.53L213.09 106.69L213.44 106.85L213.79 107.02L214.14 107.19L214.48 107.36L214.49 107.36L214.83 107.53L215.18 107.70L215.53 107.88L215.88 108.06L216.22 108.24L216.57 108.42L216.92 108.61L217.27 108.79L217.62 108.98L217.96 109.17L218.31 109.35L218.66 109.54L219.01 109.73L219.35 109.92L219.70 110.12L220.05 110.31L220.40 110.50L220.75 110.69L221.09 110.88L221.44 111.08L221.79 111.27L222.14 111.46L222.49 111.65L222.83 111.84L223.18 112.03L223.53 112.22L223.88 112.40L224.22 112.59L224.57 112.77L224.92 112.95L225.27 113.14L225.62 113.32L225.96 113.49L226.31 113.67L226.66 113.84L227.01 114.01L227.36 114.18L227.70 114.35L227.79 114.39L228.05 114.51L228.40 114.67L228.75 114.83L229.09 114.98L229.44 115.14L229.79 115.29L230.14 115.44L230.49 115.60L230.83 115.75L231.18 115.90L231.53 116.06L231.88 116.21L232.23 116.36L232.57 116.51L232.92 116.66L233.27 116.81L233.62 116.96L233.96 117.10L234.31 117.25L234.66 117.39L235.01 117.53L235.36 117.68L235.70 117.81L236.05 117.95L236.40 118.09L236.75 118.22L237.10 118.35L237.44 118.48L237.79 118.61L238.14 118.73L238.49 118.85L238.84 118.97L239.18 119.09L239.53 119.20L239.88 119.31L240.23 119.42L240.57 119.53L240.92 119.63L241.08 119.67L241.27 119.72L241.62 119.82L241.97 119.91L242.31 120.01L242.66 120.10L243.01 120.19L243.36 120.28L243.71 120.36L244.05 120.45L244.40 120.53L244.75 120.62L245.10 120.70L245.44 120.78L245.79 120.86L246.14 120.94L246.49 121.02L246.84 121.09L247.18 121.17L247.53 121.24L247.88 121.31L248.23 121.39L248.58 121.46L248.92 121.53L249.27 121.60L249.62 121.67L249.97 121.74L250.31 121.80L250.66 121.87L251.01 121.93L251.36 122.00L251.71 122.06L252.05 122.13L252.40 122.19L252.75 122.25L253.10 122.31L253.45 122.38L253.79 122.44L254.14 122.50L254.38 122.54L254.49 122.56L254.84 122.62L255.18 122.68L255.53 122.74L255.88 122.79L256.23 122.85L256.58 122.91L256.92 122.97L257.27 123.02L257.62 123.08L257.97 123.13L258.32 123.19L258.66 123.24L259.01 123.30L259.36 123.35L259.71 123.41L260.05 123.46L260.40 123.51L260.75 123.56L261.10 123.61L261.45 123.66L261.79 123.71L262.14 123.76L262.49 123.81L262.84 123.86L263.19 123.90L263.53 123.95L263.88 124.00L264.23 124.04L264.58 124.09L264.92 124.13L265.27 124.17L265.62 124.21L265.97 124.26L266.32 124.30L266.66 124.34L267.01 124.38L267.36 124.41L267.67 124.45L267.71 124.45L268.06 124.49L268.40 124.53L268.75 124.56L269.10 124.60L269.45 124.63L269.80 124.67L270.14 124.70L270.49 124.74L270.84 124.77L271.19 124.80L271.53 124.84L271.88 124.87L272.23 124.90L272.58 124.93L272.93 124.97L273.27 125.00L273.62 125.03L273.97 125.06L274.32 125.08L274.67 125.11L275.01 125.14L275.36 125.17L275.71 125.20L276.06 125.22L276.40 125.25L276.75 125.27L277.10 125.30L277.45 125.32L277.80 125.34L278.14 125.37L278.49 125.39L278.84 125.41L279.19 125.43L279.54 125.45L279.88 125.47L280.23 125.49L280.58 125.51L280.93 125.53L280.97 125.53L281.27 125.54L281.62 125.56L281.97 125.58L282.32 125.60L282.67 125.62L283.01 125.63L283.36 125.65L283.71 125.67L284.06 125.68L284.41 125.70L284.75 125.71L285.10 125.73L285.45 125.75L285.80 125.76L286.14 125.78L286.49 125.79L286.84 125.81L287.19 125.82L287.54 125.83L287.88 125.85L288.23 125.86L288.58 125.88L288.93 125.89L289.28 125.90L289.62 125.92L289.97 125.93L290.32 125.95L290.67 125.96L291.01 125.97L291.36 125.99L291.71 126.00L292.06 126.01L292.41 126.02L292.75 126.04L293.10 126.05L293.45 126.06L293.80 126.08L294.15 126.09L294.26 126.09L294.49 126.10L294.84 126.12L295.19 126.13L295.54 126.14L295.88 126.16L296.23 126.17L296.58 126.18L296.93 126.20L297.28 126.21L297.62 126.22L297.97 126.24L298.32 126.25L298.67 126.26L299.02 126.28L299.36 126.29L299.71 126.31L300.06 126.32L300.41 126.34L300.75 126.35L301.10 126.36L301.45 126.38L301.80 126.40L302.15 126.41L302.49 126.43L302.84 126.45L303.19 126.46L303.54 126.48L303.89 126.50L304.23 126.52L304.58 126.54L304.93 126.55L305.28 126.57L305.63 126.59L305.97 126.61L306.32 126.63L306.67 126.65L307.02 126.67L307.36 126.69L307.56 126.70L307.71 126.71L308.06 126.73L308.41 126.75L308.76 126.77L309.10 126.79L309.45 126.81L309.80 126.83L310.15 126.85L310.50 126.87L310.84 126.89L311.19 126.91L311.54 126.93L311.89 126.95L312.23 126.96L312.58 126.98L312.93 127.00L313.28 127.02L313.63 127.04L313.97 127.05L314.32 127.07L314.67 127.09L315.02 127.10L315.37 127.12L315.71 127.13L316.06 127.15L316.41 127.16L316.76 127.18L317.10 127.19L317.45 127.20L317.80 127.21L318.15 127.23L318.50 127.24L318.84 127.25L319.19 127.26L319.54 127.26L319.89 127.27L320.24 127.28L320.58 127.29L320.85 127.29L320.93 127.29L321.28 127.30L321.63 127.30L321.97 127.30L322.32 127.31L322.67 127.31L323.02 127.31L323.37 127.31L323.71 127.31L324.06 127.31L324.41 127.31L324.76 127.31L325.11 127.31L325.45 127.31L325.80 127.31L326.15 127.31L326.50 127.31L326.84 127.31L327.19 127.31L327.54 127.31L327.89 127.31L328.24 127.31L328.58 127.31L328.93 127.31L329.28 127.31L329.63 127.31L329.98 127.31L330.32 127.31L330.67 127.31L331.02 127.31L331.37 127.31L331.71 127.31L332.06 127.31L332.41 127.31L332.76 127.31L333.11 127.31L333.45 127.31L333.80 127.31L334.15 127.31L334.15 127.31L334.50 127.31L334.85 127.31L335.19 127.31L335.54 127.31L335.89 127.31L336.24 127.31L336.59 127.31L336.93 127.31L337.28 127.31L337.63 127.31L337.98 127.31L338.32 127.31L338.67 127.31L339.02 127.31L339.37 127.31L339.72 127.31L340.06 127.31L340.41 127.31L340.76 127.31L341.11 127.31L341.46 127.31L341.80 127.31L342.15 127.31L342.50 127.31L342.85 127.31L343.19 127.31L343.54 127.31L343.89 127.31L344.24 127.31L344.59 127.31L344.93 127.31L345.28 127.31L345.63 127.31L345.98 127.31L346.33 127.30L346.67 127.30L347.02 127.30L347.37 127.29L347.45 127.29L347.72 127.29L348.06 127.28L348.41 127.27L348.76 127.26L349.11 127.26L349.46 127.25L349.80 127.24L350.15 127.23L350.50 127.21L350.85 127.20L351.20 127.19L351.54 127.18L351.89 127.16L352.24 127.15L352.59 127.13L352.93 127.12L353.28 127.10L353.63 127.09L353.98 127.07L354.33 127.05L354.67 127.04L355.02 127.02L355.37 127.00L355.72 126.98L356.07 126.96L356.41 126.95L356.76 126.93L357.11 126.91L357.46 126.89L357.80 126.87L358.15 126.85L358.50 126.83L358.85 126.81L359.20 126.79L359.54 126.77L359.89 126.75L360.24 126.73L360.59 126.71L360.74 126.70L360.94 126.69L361.28 126.67L361.63 126.65L361.98 126.63L362.33 126.61L362.67 126.59L363.02 126.57L363.37 126.55L363.72 126.54L364.07 126.52L364.41 126.50L364.76 126.48L365.11 126.46L365.46 126.45L365.81 126.43L366.15 126.41L366.50 126.40L366.85 126.38L367.20 126.36L367.55 126.35L367.89 126.34L368.24 126.32L368.59 126.31L368.94 126.29L369.28 126.28L369.63 126.26L369.98 126.25L370.33 126.24L370.68 126.22L371.02 126.21L371.37 126.20L371.72 126.18L372.07 126.17L372.42 126.16L372.76 126.14L373.11 126.13L373.46 126.12L373.81 126.10L374.04 126.09L374.15 126.09L374.50 126.08L374.85 126.06L375.20 126.05L375.55 126.04L375.89 126.02L376.24 126.01L376.59 126.00L376.94 125.99L377.29 125.97L377.63 125.96L377.98 125.95L378.33 125.93L378.68 125.92L379.02 125.90L379.37 125.89L379.72 125.88L380.07 125.86L380.42 125.85L380.76 125.83L381.11 125.82L381.46 125.81L381.81 125.79L382.16 125.78L382.50 125.76L382.85 125.75L383.20 125.73L383.55 125.71L383.89 125.70L384.24 125.68L384.59 125.67L384.94 125.65L385.29 125.63L385.63 125.62L385.98 125.60L386.33 125.58L386.68 125.56L387.03 125.54L387.33 125.53L387.37 125.53L387.72 125.51L388.07 125.49L388.42 125.47L388.76 125.45L389.11 125.43L389.46 125.41L389.81 125.39L390.16 125.37L390.50 125.34L390.85 125.32L391.20 125.30L391.55 125.27L391.90 125.25L392.24 125.22L392.59 125.20L392.94 125.17L393.29 125.14L393.63 125.11L393.98 125.08L394.33 125.06L394.68 125.03L395.03 125.00L395.37 124.97L395.72 124.93L396.07 124.90L396.42 124.87L396.77 124.84L397.11 124.80L397.46 124.77L397.81 124.74L398.16 124.70L398.50 124.67L398.85 124.63L399.20 124.60L399.55 124.56L399.90 124.53L400.24 124.49L400.59 124.45L400.63 124.45L400.94 124.41L401.29 124.38L401.64 124.34L401.98 124.30L402.33 124.26L402.68 124.21L403.03 124.17L403.38 124.13L403.72 124.09L404.07 124.04L404.42 124.00L404.77 123.95L405.11 123.90L405.46 123.86L405.81 123.81L406.16 123.76L406.51 123.71L406.85 123.66L407.20 123.61L407.55 123.56L407.90 123.51L408.25 123.46L408.59 123.41L408.94 123.35L409.29 123.30L409.64 123.24L409.98 123.19L410.33 123.13L410.68 123.08L411.03 123.02L411.38 122.97L411.72 122.91L412.07 122.85L412.42 122.79L412.77 122.74L413.12 122.68L413.46 122.62L413.81 122.56L413.92 122.54L414.16 122.50L414.51 122.44L414.85 122.38L415.20 122.31L415.55 122.25L415.90 122.19L416.25 122.13L416.59 122.06L416.94 122.00L417.29 121.93L417.64 121.87L417.99 121.80L418.33 121.74L418.68 121.67L419.03 121.60L419.38 121.53L419.72 121.46L420.07 121.39L420.42 121.31L420.77 121.24L421.12 121.17L421.46 121.09L421.81 121.02L422.16 120.94L422.51 120.86L422.86 120.78L423.20 120.70L423.55 120.62L423.90 120.53L424.25 120.45L424.59 120.36L424.94 120.28L425.29 120.19L425.64 120.10L425.99 120.01L426.33 119.91L426.68 119.82L427.03 119.72L427.22 119.67L427.38 119.63L427.73 119.53L428.07 119.42L428.42 119.31L428.77 119.20L429.12 119.09L429.46 118.97L429.81 118.85L430.16 118.73L430.51 118.61L430.86 118.48L431.20 118.35L431.55 118.22L431.90 118.09L432.25 117.95L432.60 117.81L432.94 117.68L433.29 117.53L433.64 117.39L433.99 117.25L434.34 117.10L434.68 116.96L435.03 116.81L435.38 116.66L435.73 116.51L436.07 116.36L436.42 116.21L436.77 116.06L437.12 115.90L437.47 115.75L437.81 115.60L438.16 115.44L438.51 115.29L438.86 115.14L439.21 114.98L439.55 114.83L439.90 114.67L440.25 114.51L440.51 114.39L440.60 114.35L440.94 114.18L441.29 114.01L441.64 113.84L441.99 113.67L442.34 113.49L442.68 113.32L443.03 113.14L443.38 112.95L443.73 112.77L444.08 112.59L444.42 112.40L444.77 112.22L445.12 112.03L445.47 111.84L445.81 111.65L446.16 111.46L446.51 111.27L446.86 111.08L447.21 110.88L447.55 110.69L447.90 110.50L448.25 110.31L448.60 110.12L448.95 109.92L449.29 109.73L449.64 109.54L449.99 109.35L450.34 109.17L450.68 108.98L451.03 108.79L451.38 108.61L451.73 108.42L452.08 108.24L452.42 108.06L452.77 107.88L453.12 107.70L453.47 107.53L453.81 107.36L453.82 107.36L454.16 107.19L454.51 107.02L454.86 106.85L455.21 106.69L455.55 106.53L455.90 106.38" fill="none" stroke="#006400" stroke-width="1.0" stroke-linejoin="round"/>
<path d="M214.49 102.96V111.76M211.89 102.96H217.09M211.89 111.76H217.09M227.79 110.01V118.76M225.19 110.01H230.39M225.19 118.76H230.39M241.08 115.33V124.01M238.48 115.33H243.68M238.48 124.01H243.68M254.38 118.22V126.85M251.78 118.22H256.98M251.78 126.85H256.98M267.67 120.14V128.75M265.07 120.14H270.27M265.07 128.75H270.27M280.97 121.23V129.82M278.37 121.23H283.57M278.37 129.82H283.57M294.26 121.80V130.38M291.66 121.80H296.86M291.66 130.38H296.86M307.56 122.41V130.99M304.96 122.41H310.16M304.96 130.99H310.16M320.85 123.01V131.58M318.25 123.01H323.45M318.25 131.58H323.45M334.15 123.03V131.59M331.55 123.03H336.75M331.55 131.59H336.75M347.45 123.01V131.58M344.85 123.01H350.05M344.85 131.58H350.05M360.74 122.41V130.99M358.14 122.41H363.34M358.14 130.99H363.34M374.04 121.80V130.38M371.44 121.80H376.64M371.44 130.38H376.64M387.33 121.23V129.82M384.73 121.23H389.93M384.73 129.82H389.93M400.63 120.14V128.75M398.03 120.14H403.23M398.03 128.75H403.23M413.92 118.22V126.85M411.32 118.22H416.52M411.32 126.85H416.52M427.22 115.33V124.01M424.62 115.33H429.82M424.62 124.01H429.82M440.51 110.01V118.76M437.91 110.01H443.11M437.91 118.76H443.11M453.81 102.96V111.76M451.21 102.96H456.41M451.21 111.76H456.41" fill="none" stroke="#006400" stroke-width="1.0"/>
<path d="M211.89 104.76L217.09 109.96M211.89 109.96L217.09 104.76M225.19 111.79L230.39 116.99M225.19 116.99L230.39 111.79M238.48 117.07L243.68 122.27M238.48 122.27L243.68 117.07M251.78 119.94L256.98 125.14M251.78 125.14L256.98 119.94M265.07 121.85L270.27 127.05M265.07 127.05L270.27 121.85M278.37 122.93L283.57 128.13M278.37 128.13L283.57 122.93M291.66 123.49L296.86 128.69M291.66 128.69L296.86 123.49M304.96 124.10L310.16 129.30M304.96 129.30L310.16 124.10M318.25 124.69L323.45 129.89M318.25 129.89L323.45 124.69M331.55 124.71L336.75 129.91M331.55 129.91L336.75 124.71M344.85 124.69L350.05 129.89M344.85 129.89L350.05 124.69M358.14 124.10L363.34 129.30M358.14 129.30L363.34 124.10M371.44 123.49L376.64 128.69M371.44 128.69L376.64 123.49M384.73 122.93L389.93 128.13M384.73 128.13L389.93 122.93M398.03 121.85L403.23 127.05M398.03 127.05L403.23 121.85M411.32 119.94L416.52 125.14M411.32 125.14L416.52 119.94M424.62 117.07L429.82 122.27M424.62 122.27L429.82 117.07M437.91 111.79L443.11 116.99M437.91 116.99L443.11 111.79M451.21 104.76L456.41 109.96M451.21 109.96L456.41 104.76" fill="none" stroke="#006400" stroke-width="1.0"/>
</g>
<g clip-path="url(#ci)">
<path d="M212.40 104.47L212.75 104.58L213.09 104.69L213.44 104.79L213.79 104.89L214.14 105.00L214.48 105.10L214.83 105.20L215.18 105.30L215.53 105.40L215.88 105.50L216.22 105.60L216.57 105.70L216.92 105.79L217.27 105.89L217.62 105.98L217.96 106.08L218.31 106.17L218.66 106.27L219.01 106.36L219.35 106.46L219.70 106.55L220.05 106.64L220.40 106.73L220.75 106.83L221.09 106.92L221.44 107.01L221.79 107.10L222.14 107.19L222.49 107.29L222.83 107.38L223.18 107.47L223.47 107.54L223.53 107.56L223.88 107.65L224.22 107.74L224.57 107.83L224.92 107.93L225.27 108.02L225.62 108.11L225.96 108.20L226.31 108.30L226.66 108.39L227.01 108.48L227.36 108.58L227.70 108.67L228.05 108.77L228.40 108.86L228.75 108.96L229.09 109.05L229.44 109.15L229.79 109.25L230.14 109.35L230.49 109.44L230.83 109.54L231.18 109.64L231.53 109.75L231.88 109.85L232.23 109.95L232.57 110.05L232.92 110.16L233.27 110.26L233.62 110.37L233.96 110.48L234.31 110.59L234.53 110.66L234.66 110.70L235.01 110.81L235.36 110.92L235.70 111.04L236.05 111.16L236.40 111.28L236.75 111.40L237.10 111.53L237.44 111.65L237.79 111.78L238.14 111.91L238.49 112.04L238.84 112.17L239.18 112.30L239.53 112.44L239.88 112.57L240.23 112.71L240.57 112.84L240.92 112.98L241.27 113.12L241.62 113.26L241.97 113.40L242.31 113.54L242.66 113.68L243.01 113.82L243.36 113.96L243.71 114.11L244.05 114.25L244.40 114.39L244.75 114.53L245.10 114.67L245.44 114.81L245.60 114.88L245.79 114.96L246.14 115.10L246.49 115.24L246.84 115.38L247.18 115.51L247.53 115.65L247.88 115.79L248.23 115.93L248.58 116.06L248.92 116.20L249.27 116.33L249.62 116.46L249.97 116.59L250.31 116.72L250.66 116.85L251.01 116.98L251.36 117.10L251.71 117.23L252.05 117.35L252.40 117.47L252.75 117.58L253.10 117.70L253.45 117.81L253.79 117.92L254.14 118.03L254.49 118.14L254.84 118.24L255.18 118.34L255.53 118.44L255.88 118.54L256.23 118.63L256.58 118.72L256.67 118.75L256.92 118.81L257.27 118.90L257.62 118.99L257.97 119.07L258.32 119.16L258.66 119.25L259.01 119.34L259.36 119.42L259.71 119.51L260.05 119.60L260.40 119.69L260.75 119.77L261.10 119.86L261.45 119.94L261.79 120.03L262.14 120.11L262.49 120.20L262.84 120.28L263.19 120.37L263.53 120.45L263.88 120.53L264.23 120.61L264.58 120.69L264.92 120.77L265.27 120.85L265.62 120.93L265.97 121.01L266.32 121.09L266.66 121.16L267.01 121.24L267.36 121.31L267.71 121.39L267.74 121.39L268.06 121.46L268.40 121.53L268.75 121.60L269.10 121.67L269.45 121.74L269.80 121.80L270.14 121.87L270.49 121.93L270.84 122.00L271.19 122.06L271.53 122.12L271.88 122.18L272.23 122.24L272.58 122.29L272.93 122.35L273.27 122.40L273.62 122.45L273.97 122.50L274.32 122.55L274.67 122.60L275.01 122.65L275.36 122.69L275.71 122.73L276.06 122.77L276.40 122.81L276.75 122.85L277.10 122.88L277.45 122.92L277.80 122.95L278.14 122.98L278.49 123.00L278.81 123.03L278.84 123.03L279.19 123.05L279.54 123.08L279.88 123.10L280.23 123.12L280.58 123.15L280.93 123.17L281.27 123.19L281.62 123.21L281.97 123.23L282.32 123.25L282.67 123.27L283.01 123.29L283.36 123.31L283.71 123.33L284.06 123.35L284.41 123.37L284.75 123.39L285.10 123.40L285.45 123.42L285.80 123.44L286.14 123.46L286.49 123.47L286.84 123.49L287.19 123.50L287.54 123.52L287.88 123.54L288.23 123.55L288.58 123.57L288.93 123.58L289.28 123.59L289.62 123.61L289.88 123.62L289.97 123.62L290.32 123.64L290.67 123.65L291.01 123.66L291.36 123.68L291.71 123.69L292.06 123.70L292.41 123.71L292.75 123.73L293.10 123.74L293.45 123.75L293.80 123.76L294.15 123.77L294.49 123.78L294.84 123.80L295.19 123.81L295.54 123.82L295.88 123.83L296.23 123.84L296.58 123.85L296.93 123.86L297.28 123.87L297.62 123.88L297.97 123.89L298.32 123.90L298.67 123.91L299.02 123.92L299.36 123.93L299.71 123.94L300.06 123.95L300.41 123.96L300.75 123.97L300.94 123.98L301.10 123.98L301.45 123.99L301.80 124.00L302.15 124.01L302.49 124.02L302.84 124.03L303.19 124.04L303.54 124.06L303.89 124.07L304.23 124.08L304.58 124.09L304.93 124.10L305.28 124.11L305.63 124.12L305.97 124.13L306.32 124.14L306.67 124.15L307.02 124.16L307.36 124.17L307.71 124.18L308.06 124.19L308.41 124.20L308.76 124.21L309.10 124.22L309.45 124.23L309.80 124.24L310.15 124.25L310.50 124.26L310.84 124.27L311.19 124.28L311.54 124.28L311.89 124.29L312.01 124.30L312.23 124.30L312.58 124.31L312.93 124.32L313.28 124.33L313.63 124.34L313.97 124.34L314.32 124.35L314.67 124.36L315.02 124.37L315.37 124.37L315.71 124.38L316.06 124.39L316.41 124.39L316.76 124.40L317.10 124.40L317.45 124.41L317.80 124.41L318.15 124.42L318.50 124.42L318.84 124.43L319.19 124.43L319.54 124.44L319.89 124.44L320.24 124.44L320.58 124.45L320.93 124.45L321.28 124.45L321.63 124.45L321.97 124.45L322.32 124.45L322.67 124.45L323.02 124.45L323.08 124.45L323.37 124.45L323.71 124.45L324.06 124.45L324.41 124.45L324.76 124.45L325.11 124.45L325.45 124.45L325.80 124.45L326.15 124.45L326.50 124.45L326.84 124.45L327.19 124.45L327.54 124.45L327.89 124.45L328.24 124.45L328.58 124.45L328.93 124.45L329.28 124.45L329.63 124.45L329.98 124.45L330.32 124.45L330.67 124.45L331.02 124.45L331.37 124.45L331.71 124.45L332.06 124.45L332.41 124.45L332.76 124.45L333.11 124.45L333.45 124.45L333.80 124.45L334.15 124.45L334.15 124.45L334.50 124.45L334.85 124.45L335.19 124.45L335.54 124.45L335.89 124.45L336.24 124.45L336.59 124.45L336.93 124.45L337.28 124.45L337.63 124.45L337.98 124.45L338.32 124.45L338.67 124.45L339.02 124.45L339.37 124.45L339.72 124.45L340.06 124.45L340.41 124.45L340.76 124.45L341.11 124.45L341.46 124.45L341.80 124.45L342.15 124.45L342.50 124.45L342.85 124.45L343.19 124.45L343.54 124.45L343.89 124.45L344.24 124.45L344.59 124.45L344.93 124.45L345.22 124.45L345.28 124.45L345.63 124.45L345.98 124.45L346.33 124.45L346.67 124.45L347.02 124.45L347.37 124.45L347.72 124.45L348.06 124.44L348.41 124.44L348.76 124.44L349.11 124.43L349.46 124.43L349.80 124.42L350.15 124.42L350.50 124.41L350.85 124.41L351.20 124.40L351.54 124.40L351.89 124.39L352.24 124.39L352.59 124.38L352.93 124.37L353.28 124.37L353.63 124.36L353.98 124.35L354.33 124.34L354.67 124.34L355.02 124.33L355.37 124.32L355.72 124.31L356.07 124.30L356.29 124.30L356.41 124.29L356.76 124.28L357.11 124.28L357.46 124.27L357.80 124.26L358.15 124.25L358.50 124.24L358.85 124.23L359.20 124.22L359.54 124.21L359.89 124.20L360.24 124.19L360.59 124.18L360.94 124.17L361.28 124.16L361.63 124.15L361.98 124.14L362.33 124.13L362.67 124.12L363.02 124.11L363.37 124.10L363.72 124.09L364.07 124.08L364.41 124.07L364.76 124.06L365.11 124.04L365.46 124.03L365.81 124.02L366.15 124.01L366.50 124.00L366.85 123.99L367.20 123.98L367.36 123.98L367.55 123.97L367.89 123.96L368.24 123.95L368.59 123.94L368.94 123.93L369.28 123.92L369.63 123.91L369.98 123.90L370.33 123.89L370.68 123.88L371.02 123.87L371.37 123.86L371.72 123.85L372.07 123.84L372.42 123.83L372.76 123.82L373.11 123.81L373.46 123.80L373.81 123.78L374.15 123.77L374.50 123.76L374.85 123.75L375.20 123.74L375.55 123.73L375.89 123.71L376.24 123.70L376.59 123.69L376.94 123.68L377.29 123.66L377.63 123.65L377.98 123.64L378.33 123.62L378.42 123.62L378.68 123.61L379.02 123.59L379.37 123.58L379.72 123.57L380.07 123.55L380.42 123.54L380.76 123.52L381.11 123.50L381.46 123.49L381.81 123.47L382.16 123.46L382.50 123.44L382.85 123.42L383.20 123.40L383.55 123.39L383.89 123.37L384.24 123.35L384.59 123.33L384.94 123.31L385.29 123.29L385.63 123.27L385.98 123.25L386.33 123.23L386.68 123.21L387.03 123.19L387.37 123.17L387.72 123.15L388.07 123.12L388.42 123.10L388.76 123.08L389.11 123.05L389.46 123.03L389.49 123.03L389.81 123.00L390.16 122.98L390.50 122.95L390.85 122.92L391.20 122.88L391.55 122.85L391.90 122.81L392.24 122.77L392.59 122.73L392.94 122.69L393.29 122.65L393.63 122.60L393.98 122.55L394.33 122.50L394.68 122.45L395.03 122.40L395.37 122.35L395.72 122.29L396.07 122.24L396.42 122.18L396.77 122.12L397.11 122.06L397.46 122.00L397.81 121.93L398.16 121.87L398.50 121.80L398.85 121.74L399.20 121.67L399.55 121.60L399.90 121.53L400.24 121.46L400.56 121.39L400.59 121.39L400.94 121.31L401.29 121.24L401.64 121.16L401.98 121.09L402.33 121.01L402.68 120.93L403.03 120.85L403.38 120.77L403.72 120.69L404.07 120.61L404.42 120.53L404.77 120.45L405.11 120.37L405.46 120.28L405.81 120.20L406.16 120.11L406.51 120.03L406.85 119.94L407.20 119.86L407.55 119.77L407.90 119.69L408.25 119.60L408.59 119.51L408.94 119.42L409.29 119.34L409.64 119.25L409.98 119.16L410.33 119.07L410.68 118.99L411.03 118.90L411.38 118.81L411.63 118.75L411.72 118.72L412.07 118.63L412.42 118.54L412.77 118.44L413.12 118.34L413.46 118.24L413.81 118.14L414.16 118.03L414.51 117.92L414.85 117.81L415.20 117.70L415.55 117.58L415.90 117.47L416.25 117.35L416.59 117.23L416.94 117.10L417.29 116.98L417.64 116.85L417.99 116.72L418.33 116.59L418.68 116.46L419.03 116.33L419.38 116.20L419.72 116.06L420.07 115.93L420.42 115.79L420.77 115.65L421.12 115.51L421.46 115.38L421.81 115.24L422.16 115.10L422.51 114.96L422.70 114.88L422.86 114.81L423.20 114.67L423.55 114.53L423.90 114.39L424.25 114.25L424.59 114.11L424.94 113.96L425.29 113.82L425.64 113.68L425.99 113.54L426.33 113.40L426.68 113.26L427.03 113.12L427.38 112.98L427.73 112.84L428.07 112.71L428.42 112.57L428.77 112.44L429.12 112.30L429.46 112.17L429.81 112.04L430.16 111.91L430.51 111.78L430.86 111.65L431.20 111.53L431.55 111.40L431.90 111.28L432.25 111.16L432.60 111.04L432.94 110.92L433.29 110.81L433.64 110.70L433.77 110.66L433.99 110.59L434.34 110.48L434.68 110.37L435.03 110.26L435.38 110.16L435.73 110.05L436.07 109.95L436.42 109.85L436.77 109.75L437.12 109.64L437.47 109.54L437.81 109.44L438.16 109.35L438.51 109.25L438.86 109.15L439.21 109.05L439.55 108.96L439.90 108.86L440.25 108.77L440.60 108.67L440.94 108.58L441.29 108.48L441.64 108.39L441.99 108.30L442.34 108.20L442.68 108.11L443.03 108.02L443.38 107.93L443.73 107.83L444.08 107.74L444.42 107.65L444.77 107.56L444.83 107.54L445.12 107.47L445.47 107.38L445.81 107.29L446.16 107.19L446.51 107.10L446.86 107.01L447.21 106.92L447.55 106.83L447.90 106.73L448.25 106.64L448.60 106.55L448.95 106.46L449.29 106.36L449.64 106.27L449.99 106.17L450.34 106.08L450.68 105.98L451.03 105.89L451.38 105.79L451.73 105.70L452.08 105.60L452.42 105.50L452.77 105.40L453.12 105.30L453.47 105.20L453.82 105.10L454.16 105.00L454.51 104.89L454.86 104.79L455.21 104.69L455.55 104.58L455.90 104.47" fill="none" stroke="#0000ff" stroke-width="1.0" stroke-linejoin="round"/>
<path d="M212.40 100.09V108.86M209.80 100.09H215.00M209.80 108.86H215.00M223.47 103.17V111.91M220.87 103.17H226.07M220.87 111.91H226.07M234.53 106.29V115.03M231.93 106.29H237.13M231.93 115.03H237.13M245.60 110.51V119.24M243.00 110.51H248.20M243.00 119.24H248.20M256.67 114.41V123.08M254.07 114.41H259.27M254.07 123.08H259.27M267.74 117.07V125.72M265.14 117.07H270.34M265.14 125.72H270.34M278.81 118.72V127.33M276.21 118.72H281.41M276.21 127.33H281.41M289.88 119.32V127.92M287.28 119.32H292.48M287.28 127.92H292.48M300.94 119.68V128.28M298.34 119.68H303.54M298.34 128.28H303.54M312.01 120.00V128.59M309.41 120.00H314.61M309.41 128.59H314.61M323.08 120.16V128.75M320.48 120.16H325.68M320.48 128.75H325.68M334.15 120.16V128.75M331.55 120.16H336.75M331.55 128.75H336.75M345.22 120.16V128.75M342.62 120.16H347.82M342.62 128.75H347.82M356.29 120.00V128.59M353.69 120.00H358.89M353.69 128.59H358.89M367.36 119.68V128.28M364.76 119.68H369.96M364.76 128.28H369.96M378.42 119.32V127.92M375.82 119.32H381.02M375.82 127.92H381.02M389.49 118.72V127.33M386.89 118.72H392.09M386.89 127.33H392.09M400.56 117.07V125.72M397.96 117.07H403.16M397.96 125.72H403.16M411.63 114.41V123.08M409.03 114.41H414.23M409.03 123.08H414.23M422.70 110.51V119.24M420.10 110.51H425.30M420.10 119.24H425.30M433.77 106.29V115.03M431.17 106.29H436.37M431.17 115.03H436.37M444.83 103.17V111.91M442.23 103.17H447.43M442.23 111.91H447.43M455.90 100.09V108.86M453.30 100.09H458.50M453.30 108.86H458.50" fill="none" stroke="#0000ff" stroke-width="1.0"/>
<path d="M209.80 104.47H215.00M212.40 101.87V107.07M209.80 101.87L215.00 107.07M209.80 107.07L215.00 101.87M220.87 107.54H226.07M223.47 104.94V110.14M220.87 104.94L226.07 110.14M220.87 110.14L226.07 104.94M231.93 110.66H237.13M234.53 108.06V113.26M231.93 108.06L237.13 113.26M231.93 113.26L237.13 108.06M243.00 114.88H248.20M245.60 112.28V117.48M243.00 112.28L248.20 117.48M243.00 117.48L248.20 112.28M254.07 118.75H259.27M256.67 116.15V121.35M254.07 116.15L259.27 121.35M254.07 121.35L259.27 116.15M265.14 121.39H270.34M267.74 118.79V123.99M265.14 118.79L270.34 123.99M265.14 123.99L270.34 118.79M276.21 123.03H281.41M278.81 120.43V125.63M276.21 120.43L281.41 125.63M276.21 125.63L281.41 120.43M287.28 123.62H292.48M289.88 121.02V126.22M287.28 121.02L292.48 126.22M287.28 126.22L292.48 121.02M298.34 123.98H303.54M300.94 121.38V126.58M298.34 121.38L303.54 126.58M298.34 126.58L303.54 121.38M309.41 124.30H314.61M312.01 121.70V126.90M309.41 121.70L314.61 126.90M309.41 126.90L314.61 121.70M320.48 124.45H325.68M323.08 121.86V127.05M320.48 121.86L325.68 127.05M320.48 127.05L325.68 121.86M331.55 124.45H336.75M334.15 121.86V127.05M331.55 121.86L336.75 127.05M331.55 127.05L336.75 121.86M342.62 124.45H347.82M345.22 121.86V127.05M342.62 121.86L347.82 127.05M342.62 127.05L347.82 121.86M353.69 124.30H358.89M356.29 121.70V126.90M353.69 121.70L358.89 126.90M353.69 126.90L358.89 121.70M364.76 123.98H369.96M367.36 121.38V126.58M364.76 121.38L369.96 126.58M364.76 126.58L369.96 121.38M375.82 123.62H381.02M378.42 121.02V126.22M375.82 121.02L381.02 126.22M375.82 126.22L381.02 121.02M386.89 123.03H392.09M389.49 120.43V125.63M386.89 120.43L392.09 125.63M386.89 125.63L392.09 120.43M397.96 121.39H403.16M400.56 118.79V123.99M397.96 118.79L403.16 123.99M397.96 123.99L403.16 118.79M409.03 118.75H414.23M411.63 116.15V121.35M409.03 116.15L414.23 121.35M409.03 121.35L414.23 116.15M420.10 114.88H425.30M422.70 112.28V117.48M420.10 112.28L425.30 117.48M420.10 117.48L425.30 112.28M431.17 110.66H436.37M433.77 108.06V113.26M431.17 108.06L436.37 113.26M431.17 113.26L436.37 108.06M442.23 107.54H447.43M444.83 104.94V110.14M442.23 104.94L447.43 110.14M442.23 110.14L447.43 104.94M453.30 104.47H458.50M455.90 101.87V107.07M453.30 101.87L458.50 107.07M453.30 107.07L458.50 101.87" fill="none" stroke="#0000ff" stroke-width="1.0"/>
</g>
<g clip-path="url(#ci)">
<path d="M212.40 103.52L212.75 103.65L213.09 103.79L213.44 103.92L213.79 104.04L214.14 104.17L214.48 104.30L214.83 104.43L215.18 104.55L215.53 104.67L215.88 104.80L216.22 104.92L216.57 105.04L216.92 105.16L217.27 105.28L217.62 105.40L217.96 105.52L218.31 105.64L218.66 105.76L219.01 105.87L219.35 105.99L219.70 106.10L220.05 106.22L220.40 106.33L220.75 106.45L221.09 106.56L221.44 106.67L221.79 106.79L222.14 106.90L222.49 107.01L222.83 107.12L223.18 107.24L223.47 107.33L223.53 107.35L223.88 107.46L224.22 107.57L224.57 107.67L224.92 107.77L225.27 107.87L225.62 107.97L225.96 108.07L226.31 108.17L226.66 108.26L227.01 108.36L227.36 108.45L227.70 108.55L228.05 108.64L228.40 108.73L228.75 108.83L229.09 108.92L229.44 109.02L229.79 109.11L230.14 109.21L230.49 109.31L230.83 109.41L231.18 109.52L231.53 109.62L231.88 109.73L232.23 109.84L232.57 109.95L232.92 110.07L233.27 110.19L233.62 110.31L233.96 110.44L234.31 110.57L234.53 110.66L234.66 110.71L235.01 110.85L235.36 111.00L235.70 111.16L236.05 111.33L236.40 111.50L236.75 111.68L237.10 111.87L237.44 112.06L237.79 112.26L238.14 112.46L238.49 112.66L238.84 112.87L239.18 113.08L239.53 113.29L239.88 113.50L240.23 113.72L240.57 113.93L240.92 114.15L241.27 114.37L241.62 114.58L241.97 114.80L242.31 115.01L242.66 115.22L243.01 115.43L243.36 115.63L243.71 115.83L244.05 116.03L244.40 116.22L244.75 116.41L245.10 116.59L245.44 116.77L245.60 116.84L245.79 116.93L246.14 117.10L246.49 117.27L246.84 117.43L247.18 117.60L247.53 117.76L247.88 117.92L248.23 118.08L248.58 118.24L248.92 118.39L249.27 118.55L249.62 118.71L249.97 118.86L250.31 119.01L250.66 119.16L251.01 119.31L251.36 119.46L251.71 119.61L252.05 119.75L252.40 119.90L252.75 120.04L253.10 120.19L253.45 120.33L253.79 120.47L254.14 120.61L254.49 120.75L254.84 120.89L255.18 121.02L255.53 121.16L255.88 121.30L256.23 121.43L256.58 121.56L256.67 121.60L256.92 121.70L257.27 121.83L257.62 121.96L257.97 122.09L258.32 122.22L258.66 122.35L259.01 122.48L259.36 122.61L259.71 122.74L260.05 122.86L260.40 122.99L260.75 123.11L261.10 123.24L261.45 123.36L261.79 123.48L262.14 123.60L262.49 123.72L262.84 123.84L263.19 123.96L263.53 124.08L263.88 124.19L264.23 124.31L264.58 124.42L264.92 124.54L265.27 124.65L265.62 124.76L265.97 124.87L266.32 124.98L266.66 125.08L267.01 125.19L267.36 125.29L267.71 125.40L267.74 125.41L268.06 125.50L268.40 125.60L268.75 125.71L269.10 125.81L269.45 125.91L269.80 126.01L270.14 126.12L270.49 126.22L270.84 126.32L271.19 126.42L271.53 126.52L271.88 126.62L272.23 126.72L272.58 126.81L272.93 126.91L273.27 127.00L273.62 127.10L273.97 127.19L274.32 127.28L274.67 127.37L275.01 127.45L275.36 127.54L275.71 127.62L276.06 127.70L276.40 127.78L276.75 127.86L277.10 127.93L277.45 128.01L277.80 128.07L278.14 128.14L278.49 128.21L278.81 128.26L278.84 128.27L279.19 128.33L279.54 128.38L279.88 128.44L280.23 128.50L280.58 128.56L280.93 128.61L281.27 128.67L281.62 128.73L281.97 128.78L282.32 128.83L282.67 128.89L283.01 128.94L283.36 128.99L283.71 129.04L284.06 129.08L284.41 129.13L284.75 129.18L285.10 129.22L285.45 129.27L285.80 129.31L286.14 129.35L286.49 129.39L286.84 129.43L287.19 129.46L287.54 129.50L287.88 129.53L288.23 129.56L288.58 129.59L288.93 129.62L289.28 129.65L289.62 129.67L289.88 129.69L289.97 129.69L290.32 129.72L290.67 129.74L291.01 129.76L291.36 129.78L291.71 129.79L292.06 129.81L292.41 129.83L292.75 129.85L293.10 129.86L293.45 129.88L293.80 129.89L294.15 129.91L294.49 129.92L294.84 129.93L295.19 129.95L295.54 129.96L295.88 129.97L296.23 129.99L296.58 130.00L296.93 130.01L297.28 130.02L297.62 130.04L297.97 130.05L298.32 130.06L298.67 130.07L299.02 130.09L299.36 130.10L299.71 130.11L300.06 130.13L300.41 130.14L300.75 130.16L300.94 130.16L301.10 130.17L301.45 130.19L301.80 130.20L302.15 130.22L302.49 130.24L302.84 130.26L303.19 130.28L303.54 130.30L303.89 130.32L304.23 130.33L304.58 130.35L304.93 130.37L305.28 130.39L305.63 130.41L305.97 130.43L306.32 130.45L306.67 130.47L307.02 130.49L307.36 130.51L307.71 130.52L308.06 130.54L308.41 130.56L308.76 130.57L309.10 130.58L309.45 130.59L309.80 130.61L310.15 130.61L310.50 130.62L310.84 130.63L311.19 130.63L311.54 130.64L311.89 130.64L312.01 130.64L312.23 130.64L312.58 130.64L312.93 130.64L313.28 130.64L313.63 130.64L313.97 130.64L314.32 130.64L314.67 130.64L315.02 130.64L315.37 130.64L315.71 130.64L316.06 130.64L316.41 130.64L316.76 130.64L317.10 130.64L317.45 130.64L317.80 130.64L318.15 130.64L318.50 130.64L318.84 130.64L319.19 130.64L319.54 130.64L319.89 130.64L320.24 130.64L320.58 130.64L320.93 130.64L321.28 130.64L321.63 130.64L321.97 130.64L322.32 130.64L322.67 130.64L323.02 130.64L323.08 130.64L323.37 130.64L323.71 130.64L324.06 130.63L324.41 130.62L324.76 130.61L325.11 130.60L325.45 130.58L325.80 130.57L326.15 130.55L326.50 130.53L326.84 130.51L327.19 130.49L327.54 130.47L327.89 130.45L328.24 130.43L328.58 130.40L328.93 130.38L329.28 130.36L329.63 130.34L329.98 130.32L330.32 130.30L330.67 130.28L331.02 130.26L331.37 130.24L331.71 130.22L332.06 130.21L332.41 130.20L332.76 130.18L333.11 130.18L333.45 130.17L333.80 130.17L334.15 130.16L334.15 130.16L334.50 130.17L334.85 130.17L335.19 130.18L335.54 130.18L335.89 130.20L336.24 130.21L336.59 130.22L336.93 130.24L337.28 130.26L337.63 130.28L337.98 130.30L338.32 130.32L338.67 130.34L339.02 130.36L339.37 130.38L339.72 130.40L340.06 130.43L340.41 130.45L340.76 130.47L341.11 130.49L341.46 130.51L341.80 130.53L342.15 130.55L342.50 130.57L342.85 130.58L343.19 130.60L343.54 130.61L343.89 130.62L344.24 130.63L344.59 130.64L344.93 130.64L345.22 130.64L345.28 130.64L345.63 130.64L345.98 130.64L346.33 130.64L346.67 130.64L347.02 130.64L347.37 130.64L347.72 130.64L348.06 130.64L348.41 130.64L348.76 130.64L349.11 130.64L349.46 130.64L349.80 130.64L350.15 130.64L350.50 130.64L350.85 130.64L351.20 130.64L351.54 130.64L351.89 130.64L352.24 130.64L352.59 130.64L352.93 130.64L353.28 130.64L353.63 130.64L353.98 130.64L354.33 130.64L354.67 130.64L355.02 130.64L355.37 130.64L355.72 130.64L356.07 130.64L356.29 130.64L356.41 130.64L356.76 130.64L357.11 130.63L357.46 130.63L357.80 130.62L358.15 130.61L358.50 130.61L358.85 130.59L359.20 130.58L359.54 130.57L359.89 130.56L360.24 130.54L360.59 130.52L360.94 130.51L361.28 130.49L361.63 130.47L361.98 130.45L362.33 130.43L362.67 130.41L363.02 130.39L363.37 130.37L363.72 130.35L364.07 130.33L364.41 130.32L364.76 130.30L365.11 130.28L365.46 130.26L365.81 130.24L366.15 130.22L366.50 130.20L366.85 130.19L367.20 130.17L367.36 130.16L367.55 130.16L367.89 130.14L368.24 130.13L368.59 130.11L368.94 130.10L369.28 130.09L369.63 130.07L369.98 130.06L370.33 130.05L370.68 130.04L371.02 130.02L371.37 130.01L371.72 130.00L372.07 129.99L372.42 129.97L372.76 129.96L373.11 129.95L373.46 129.93L373.81 129.92L374.15 129.91L374.50 129.89L374.85 129.88L375.20 129.86L375.55 129.85L375.89 129.83L376.24 129.81L376.59 129.79L376.94 129.78L377.29 129.76L377.63 129.74L377.98 129.72L378.33 129.69L378.42 129.69L378.68 129.67L379.02 129.65L379.37 129.62L379.72 129.59L380.07 129.56L380.42 129.53L380.76 129.50L381.11 129.46L381.46 129.43L381.81 129.39L382.16 129.35L382.50 129.31L382.85 129.27L383.20 129.22L383.55 129.18L383.89 129.13L384.24 129.08L384.59 129.04L384.94 128.99L385.29 128.94L385.63 128.89L385.98 128.83L386.33 128.78L386.68 128.73L387.03 128.67L387.37 128.61L387.72 128.56L388.07 128.50L388.42 128.44L388.76 128.38L389.11 128.33L389.46 128.27L389.49 128.26L389.81 128.21L390.16 128.14L390.50 128.07L390.85 128.01L391.20 127.93L391.55 127.86L391.90 127.78L392.24 127.70L392.59 127.62L392.94 127.54L393.29 127.45L393.63 127.37L393.98 127.28L394.33 127.19L394.68 127.10L395.03 127.00L395.37 126.91L395.72 126.81L396.07 126.72L396.42 126.62L396.77 126.52L397.11 126.42L397.46 126.32L397.81 126.22L398.16 126.12L398.50 126.01L398.85 125.91L399.20 125.81L399.55 125.71L399.90 125.60L400.24 125.50L400.56 125.41L400.59 125.40L400.94 125.29L401.29 125.19L401.64 125.08L401.98 124.98L402.33 124.87L402.68 124.76L403.03 124.65L403.38 124.54L403.72 124.42L404.07 124.31L404.42 124.19L404.77 124.08L405.11 123.96L405.46 123.84L405.81 123.72L406.16 123.60L406.51 123.48L406.85 123.36L407.20 123.24L407.55 123.11L407.90 122.99L408.25 122.86L408.59 122.74L408.94 122.61L409.29 122.48L409.64 122.35L409.98 122.22L410.33 122.09L410.68 121.96L411.03 121.83L411.38 121.70L411.63 121.60L411.72 121.56L412.07 121.43L412.42 121.30L412.77 121.16L413.12 121.02L413.46 120.89L413.81 120.75L414.16 120.61L414.51 120.47L414.85 120.33L415.20 120.19L415.55 120.04L415.90 119.90L416.25 119.75L416.59 119.61L416.94 119.46L417.29 119.31L417.64 119.16L417.99 119.01L418.33 118.86L418.68 118.71L419.03 118.55L419.38 118.39L419.72 118.24L420.07 118.08L420.42 117.92L420.77 117.76L421.12 117.60L421.46 117.43L421.81 117.27L422.16 117.10L422.51 116.93L422.70 116.84L422.86 116.77L423.20 116.59L423.55 116.41L423.90 116.22L424.25 116.03L424.59 115.83L424.94 115.63L425.29 115.43L425.64 115.22L425.99 115.01L426.33 114.80L426.68 114.58L427.03 114.37L427.38 114.15L427.73 113.93L428.07 113.72L428.42 113.50L428.77 113.29L429.12 113.08L429.46 112.87L429.81 112.66L430.16 112.46L430.51 112.26L430.86 112.06L431.20 111.87L431.55 111.68L431.90 111.50L432.25 111.33L432.60 111.16L432.94 111.00L433.29 110.85L433.64 110.71L433.77 110.66L433.99 110.57L434.34 110.44L434.68 110.31L435.03 110.19L435.38 110.07L435.73 109.95L436.07 109.84L436.42 109.73L436.77 109.62L437.12 109.52L437.47 109.41L437.81 109.31L438.16 109.21L438.51 109.11L438.86 109.02L439.21 108.92L439.55 108.83L439.90 108.73L440.25 108.64L440.60 108.55L440.94 108.45L441.29 108.36L441.64 108.26L441.99 108.17L442.34 108.07L442.68 107.97L443.03 107.87L443.38 107.77L443.73 107.67L444.08 107.57L444.42 107.46L444.77 107.35L444.83 107.33L445.12 107.24L445.47 107.12L445.81 107.01L446.16 106.90L446.51 106.79L446.86 106.67L447.21 106.56L447.55 106.45L447.90 106.33L448.25 106.22L448.60 106.10L448.95 105.99L449.29 105.87L449.64 105.76L449.99 105.64L450.34 105.52L450.68 105.40L451.03 105.28L451.38 105.16L451.73 105.04L452.08 104.92L452.42 104.80L452.77 104.67L453.12 104.55L453.47 104.43L453.82 104.30L454.16 104.17L454.51 104.04L454.86 103.92L455.21 103.79L455.55 103.65L455.90 103.52" fill="none" stroke="#c04000" stroke-width="1.0" stroke-linejoin="round"/>
<path d="M212.40 98.63V108.42M209.80 98.63H215.00M209.80 108.42H215.00M223.47 102.46V112.20M220.87 102.46H226.07M220.87 112.20H226.07M234.53 105.78V115.53M231.93 105.78H237.13M231.93 115.53H237.13M245.60 111.97V121.71M243.00 111.97H248.20M243.00 121.71H248.20M256.67 116.76V126.44M254.07 116.76H259.27M254.07 126.44H259.27M267.74 120.59V130.22M265.14 120.59H270.34M265.14 130.22H270.34M278.81 123.48V133.05M276.21 123.48H281.41M276.21 133.05H281.41M289.88 124.93V134.45M287.28 124.93H292.48M287.28 134.45H292.48M300.94 125.41V134.92M298.34 125.41H303.54M298.34 134.92H303.54M312.01 125.89V135.39M309.41 125.89H314.61M309.41 135.39H314.61M323.08 125.89V135.39M320.48 125.89H325.68M320.48 135.39H325.68M334.15 125.41V134.91M331.55 125.41H336.75M331.55 134.91H336.75M345.22 125.89V135.39M342.62 125.89H347.82M342.62 135.39H347.82M356.29 125.89V135.39M353.69 125.89H358.89M353.69 135.39H358.89M367.36 125.41V134.92M364.76 125.41H369.96M364.76 134.92H369.96M378.42 124.93V134.45M375.82 124.93H381.02M375.82 134.45H381.02M389.49 123.48V133.05M386.89 123.48H392.09M386.89 133.05H392.09M400.56 120.59V130.22M397.96 120.59H403.16M397.96 130.22H403.16M411.63 116.76V126.44M409.03 116.76H414.23M409.03 126.44H414.23M422.70 111.97V121.71M420.10 111.97H425.30M420.10 121.71H425.30M433.77 105.78V115.53M431.17 105.78H436.37M431.17 115.53H436.37M444.83 102.46V112.20M442.23 102.46H447.43M442.23 112.20H447.43M455.90 98.63V108.42M453.30 98.63H458.50M453.30 108.42H458.50" fill="none" stroke="#c04000" stroke-width="1.0"/>
<path d="M209.80 100.92H215.00V106.12H209.80ZM220.87 104.73H226.07V109.93H220.87ZM231.93 108.06H237.13V113.26H231.93ZM243.00 114.24H248.20V119.44H243.00ZM254.07 119.00H259.27V124.20H254.07ZM265.14 122.81H270.34V128.01H265.14ZM276.21 125.66H281.41V130.86H276.21ZM287.28 127.09H292.48V132.29H287.28ZM298.34 127.56H303.54V132.76H298.34ZM309.41 128.04H314.61V133.24H309.41ZM320.48 128.04H325.68V133.24H320.48ZM331.55 127.56H336.75V132.76H331.55ZM342.62 128.04H347.82V133.24H342.62ZM353.69 128.04H358.89V133.24H353.69ZM364.76 127.56H369.96V132.76H364.76ZM375.82 127.09H381.02V132.29H375.82ZM386.89 125.66H392.09V130.86H386.89ZM397.96 122.81H403.16V128.01H397.96ZM409.03 119.00H414.23V124.20H409.03ZM420.10 114.24H425.30V119.44H420.10ZM431.17 108.06H436.37V113.26H431.17ZM442.23 104.73H447.43V109.93H442.23ZM453.30 100.92H458.50V106.12H453.30Z" fill="none" stroke="#c04000" stroke-width="1.0"/>
</g>
<g clip-path="url(#ci)">
<path d="M212.40 78.78L212.75 79.13L213.09 79.48L213.44 79.84L213.79 80.21L214.14 80.58L214.48 80.96L214.83 81.35L215.18 81.74L215.53 82.14L215.88 82.54L216.22 82.95L216.57 83.35L216.92 83.77L217.27 84.18L217.62 84.59L217.96 85.01L218.31 85.42L218.66 85.83L219.01 86.24L219.35 86.65L219.70 87.06L220.05 87.47L220.40 87.87L220.75 88.27L221.09 88.66L221.44 89.04L221.79 89.42L222.14 89.80L222.49 90.16L222.83 90.52L223.18 90.87L223.47 91.15L223.53 91.21L223.88 91.55L224.22 91.89L224.57 92.23L224.92 92.57L225.27 92.91L225.62 93.25L225.96 93.59L226.31 93.93L226.66 94.27L227.01 94.60L227.36 94.93L227.70 95.26L228.05 95.59L228.40 95.91L228.75 96.23L229.09 96.55L229.44 96.86L229.79 97.16L230.14 97.46L230.49 97.76L230.83 98.05L231.18 98.33L231.53 98.61L231.88 98.88L232.23 99.14L232.57 99.39L232.92 99.64L233.27 99.88L233.62 100.11L233.96 100.33L234.31 100.54L234.53 100.67L234.66 100.74L235.01 100.94L235.36 101.14L235.70 101.34L236.05 101.54L236.40 101.74L236.75 101.93L237.10 102.13L237.44 102.32L237.79 102.51L238.14 102.70L238.49 102.88L238.84 103.06L239.18 103.24L239.53 103.42L239.88 103.58L240.23 103.75L240.57 103.91L240.92 104.06L241.27 104.21L241.62 104.35L241.97 104.49L242.31 104.62L242.66 104.74L243.01 104.85L243.36 104.96L243.71 105.05L244.05 105.14L244.40 105.22L244.75 105.29L245.10 105.35L245.44 105.41L245.60 105.43L245.79 105.45L246.14 105.49L246.49 105.52L246.84 105.55L247.18 105.58L247.53 105.61L247.88 105.64L248.23 105.66L248.58 105.69L248.92 105.71L249.27 105.73L249.62 105.75L249.97 105.77L250.31 105.78L250.66 105.80L251.01 105.82L251.36 105.83L251.71 105.85L252.05 105.86L252.40 105.88L252.75 105.90L253.10 105.92L253.45 105.94L253.79 105.96L254.14 105.98L254.49 106.00L254.84 106.02L255.18 106.05L255.53 106.08L255.88 106.11L256.23 106.14L256.58 106.18L256.67 106.19L256.92 106.21L257.27 106.26L257.62 106.31L257.97 106.36L258.32 106.42L258.66 106.49L259.01 106.55L259.36 106.63L259.71 106.70L260.05 106.78L260.40 106.86L260.75 106.95L261.10 107.03L261.45 107.12L261.79 107.22L262.14 107.31L262.49 107.41L262.84 107.50L263.19 107.60L263.53 107.70L263.88 107.80L264.23 107.90L264.58 108.00L264.92 108.09L265.27 108.19L265.62 108.29L265.97 108.39L266.32 108.48L266.66 108.58L267.01 108.67L267.36 108.76L267.71 108.84L267.74 108.85L268.06 108.93L268.40 109.01L268.75 109.09L269.10 109.18L269.45 109.26L269.80 109.34L270.14 109.42L270.49 109.50L270.84 109.58L271.19 109.66L271.53 109.74L271.88 109.82L272.23 109.90L272.58 109.99L272.93 110.07L273.27 110.15L273.62 110.23L273.97 110.32L274.32 110.40L274.67 110.49L275.01 110.57L275.36 110.66L275.71 110.75L276.06 110.84L276.40 110.93L276.75 111.02L277.10 111.12L277.45 111.21L277.80 111.31L278.14 111.41L278.49 111.51L278.81 111.61L278.84 111.62L279.19 111.73L279.54 111.84L279.88 111.97L280.23 112.09L280.58 112.23L280.93 112.36L281.27 112.50L281.62 112.65L281.97 112.79L282.32 112.94L282.67 113.10L283.01 113.25L283.36 113.40L283.71 113.56L284.06 113.71L284.41 113.87L284.75 114.02L285.10 114.18L285.45 114.33L285.80 114.48L286.14 114.62L286.49 114.77L286.84 114.90L287.19 115.04L287.54 115.17L287.88 115.30L288.23 115.42L288.58 115.53L288.93 115.64L289.28 115.74L289.62 115.83L289.88 115.89L289.97 115.91L290.32 116.00L290.67 116.08L291.01 116.17L291.36 116.25L291.71 116.33L292.06 116.42L292.41 116.50L292.75 116.59L293.10 116.67L293.45 116.75L293.80 116.83L294.15 116.91L294.49 116.98L294.84 117.06L295.19 117.13L295.54 117.20L295.88 117.26L296.23 117.33L296.58 117.39L296.93 117.45L297.28 117.50L297.62 117.55L297.97 117.60L298.32 117.64L298.67 117.67L299.02 117.71L299.36 117.74L299.71 117.76L300.06 117.78L300.41 117.79L300.75 117.79L300.94 117.79L301.10 117.79L301.45 117.79L301.80 117.78L302.15 117.76L302.49 117.74L302.84 117.72L303.19 117.69L303.54 117.65L303.89 117.62L304.23 117.57L304.58 117.53L304.93 117.48L305.28 117.42L305.63 117.37L305.97 117.31L306.32 117.24L306.67 117.18L307.02 117.11L307.36 117.03L307.71 116.96L308.06 116.88L308.41 116.80L308.76 116.72L309.10 116.64L309.45 116.55L309.80 116.47L310.15 116.38L310.50 116.29L310.84 116.20L311.19 116.11L311.54 116.02L311.89 115.93L312.01 115.89L312.23 115.83L312.58 115.72L312.93 115.59L313.28 115.45L313.63 115.29L313.97 115.12L314.32 114.94L314.67 114.74L315.02 114.54L315.37 114.33L315.71 114.11L316.06 113.88L316.41 113.64L316.76 113.40L317.10 113.16L317.45 112.91L317.80 112.66L318.15 112.41L318.50 112.16L318.84 111.90L319.19 111.65L319.54 111.41L319.89 111.16L320.24 110.92L320.58 110.68L320.93 110.45L321.28 110.23L321.63 110.02L321.97 109.81L322.32 109.62L322.67 109.43L323.02 109.26L323.08 109.23L323.37 109.10L323.71 108.93L324.06 108.75L324.41 108.58L324.76 108.40L325.11 108.22L325.45 108.04L325.80 107.85L326.15 107.67L326.50 107.49L326.84 107.31L327.19 107.13L327.54 106.96L327.89 106.79L328.24 106.62L328.58 106.45L328.93 106.29L329.28 106.14L329.63 105.99L329.98 105.86L330.32 105.72L330.67 105.60L331.02 105.48L331.37 105.38L331.71 105.28L332.06 105.20L332.41 105.12L332.76 105.06L333.11 105.01L333.45 104.98L333.80 104.96L334.15 104.95L334.15 104.95L334.50 104.95L334.85 104.96L335.19 104.98L335.54 105.00L335.89 105.03L336.24 105.07L336.59 105.11L336.93 105.16L337.28 105.21L337.63 105.27L337.98 105.33L338.32 105.40L338.67 105.47L339.02 105.55L339.37 105.62L339.72 105.71L340.06 105.79L340.41 105.88L340.76 105.98L341.11 106.07L341.46 106.17L341.80 106.27L342.15 106.37L342.50 106.48L342.85 106.58L343.19 106.69L343.54 106.80L343.89 106.91L344.24 107.02L344.59 107.13L344.93 107.24L345.22 107.33L345.28 107.35L345.63 107.47L345.98 107.61L346.33 107.76L346.67 107.93L347.02 108.11L347.37 108.31L347.72 108.51L348.06 108.72L348.41 108.95L348.76 109.18L349.11 109.42L349.46 109.66L349.80 109.91L350.15 110.16L350.50 110.41L350.85 110.67L351.20 110.92L351.54 111.18L351.89 111.43L352.24 111.68L352.59 111.92L352.93 112.16L353.28 112.40L353.63 112.62L353.98 112.84L354.33 113.05L354.67 113.24L355.02 113.43L355.37 113.60L355.72 113.76L356.07 113.91L356.29 113.99L356.41 114.03L356.76 114.16L357.11 114.29L357.46 114.42L357.80 114.54L358.15 114.67L358.50 114.80L358.85 114.92L359.20 115.05L359.54 115.17L359.89 115.29L360.24 115.41L360.59 115.53L360.94 115.64L361.28 115.75L361.63 115.86L361.98 115.96L362.33 116.06L362.67 116.16L363.02 116.25L363.37 116.33L363.72 116.41L364.07 116.48L364.41 116.55L364.76 116.61L365.11 116.67L365.46 116.72L365.81 116.76L366.15 116.79L366.50 116.82L366.85 116.83L367.20 116.84L367.36 116.84L367.55 116.84L367.89 116.84L368.24 116.83L368.59 116.83L368.94 116.82L369.28 116.80L369.63 116.79L369.98 116.77L370.33 116.75L370.68 116.73L371.02 116.71L371.37 116.68L371.72 116.66L372.07 116.63L372.42 116.60L372.76 116.56L373.11 116.53L373.46 116.50L373.81 116.46L374.15 116.42L374.50 116.38L374.85 116.34L375.20 116.30L375.55 116.26L375.89 116.22L376.24 116.18L376.59 116.13L376.94 116.09L377.29 116.04L377.63 116.00L377.98 115.95L378.33 115.90L378.42 115.89L378.68 115.86L379.02 115.80L379.37 115.73L379.72 115.66L380.07 115.59L380.42 115.50L380.76 115.41L381.11 115.32L381.46 115.22L381.81 115.11L382.16 115.00L382.50 114.89L382.85 114.77L383.20 114.65L383.55 114.53L383.89 114.41L384.24 114.29L384.59 114.16L384.94 114.04L385.29 113.91L385.63 113.79L385.98 113.66L386.33 113.54L386.68 113.42L387.03 113.30L387.37 113.18L387.72 113.07L388.07 112.96L388.42 112.86L388.76 112.76L389.11 112.66L389.46 112.57L389.49 112.56L389.81 112.48L390.16 112.39L390.50 112.31L390.85 112.22L391.20 112.13L391.55 112.04L391.90 111.95L392.24 111.87L392.59 111.78L392.94 111.69L393.29 111.61L393.63 111.52L393.98 111.44L394.33 111.36L394.68 111.28L395.03 111.19L395.37 111.12L395.72 111.04L396.07 110.96L396.42 110.89L396.77 110.82L397.11 110.75L397.46 110.68L397.81 110.61L398.16 110.55L398.50 110.49L398.85 110.43L399.20 110.37L399.55 110.32L399.90 110.27L400.24 110.22L400.56 110.18L400.59 110.18L400.94 110.14L401.29 110.10L401.64 110.06L401.98 110.03L402.33 110.00L402.68 109.97L403.03 109.94L403.38 109.91L403.72 109.88L404.07 109.86L404.42 109.84L404.77 109.81L405.11 109.79L405.46 109.77L405.81 109.75L406.16 109.72L406.51 109.70L406.85 109.68L407.20 109.65L407.55 109.63L407.90 109.61L408.25 109.58L408.59 109.55L408.94 109.52L409.29 109.49L409.64 109.46L409.98 109.43L410.33 109.39L410.68 109.35L411.03 109.31L411.38 109.26L411.63 109.23L411.72 109.22L412.07 109.16L412.42 109.10L412.77 109.03L413.12 108.96L413.46 108.88L413.81 108.79L414.16 108.70L414.51 108.60L414.85 108.49L415.20 108.39L415.55 108.27L415.90 108.15L416.25 108.03L416.59 107.91L416.94 107.78L417.29 107.64L417.64 107.51L417.99 107.37L418.33 107.23L418.68 107.09L419.03 106.95L419.38 106.80L419.72 106.66L420.07 106.51L420.42 106.37L420.77 106.22L421.12 106.08L421.46 105.93L421.81 105.79L422.16 105.64L422.51 105.50L422.70 105.43L422.86 105.36L423.20 105.22L423.55 105.08L423.90 104.94L424.25 104.79L424.59 104.65L424.94 104.50L425.29 104.36L425.64 104.21L425.99 104.06L426.33 103.90L426.68 103.75L427.03 103.59L427.38 103.44L427.73 103.28L428.07 103.11L428.42 102.95L428.77 102.78L429.12 102.62L429.46 102.45L429.81 102.27L430.16 102.10L430.51 101.92L430.86 101.74L431.20 101.55L431.55 101.36L431.90 101.17L432.25 100.98L432.60 100.78L432.94 100.58L433.29 100.38L433.64 100.17L433.77 100.10L433.99 99.96L434.34 99.75L434.68 99.52L435.03 99.29L435.38 99.06L435.73 98.82L436.07 98.58L436.42 98.33L436.77 98.07L437.12 97.81L437.47 97.55L437.81 97.28L438.16 97.01L438.51 96.73L438.86 96.45L439.21 96.17L439.55 95.88L439.90 95.59L440.25 95.29L440.60 94.99L440.94 94.69L441.29 94.39L441.64 94.08L441.99 93.77L442.34 93.46L442.68 93.14L443.03 92.82L443.38 92.50L443.73 92.18L444.08 91.86L444.42 91.54L444.77 91.21L444.83 91.15L445.12 90.88L445.47 90.54L445.81 90.19L446.16 89.83L446.51 89.46L446.86 89.09L447.21 88.71L447.55 88.32L447.90 87.92L448.25 87.52L448.60 87.12L448.95 86.71L449.29 86.30L449.64 85.88L449.99 85.47L450.34 85.05L450.68 84.64L451.03 84.22L451.38 83.80L451.73 83.39L452.08 82.98L452.42 82.57L452.77 82.16L453.12 81.76L453.47 81.36L453.82 80.97L454.16 80.59L454.51 80.21L454.86 79.84L455.21 79.48L455.55 79.13L455.90 78.78" fill="none" stroke="#000000" stroke-width="1.0" stroke-linejoin="round"/>
<path d="M212.40 67.03V90.53M209.80 67.03H215.00M209.80 90.53H215.00M223.47 79.54V102.77M220.87 79.54H226.07M220.87 102.77H226.07M234.53 89.33V112.00M231.93 89.33H237.13M231.93 112.00H237.13M245.60 94.34V116.51M243.00 94.34H248.20M243.00 116.51H248.20M256.67 95.12V117.25M254.07 95.12H259.27M254.07 117.25H259.27M267.74 97.75V119.95M265.14 97.75H270.34M265.14 119.95H270.34M278.81 100.51V122.71M276.21 100.51H281.41M276.21 122.71H281.41M289.88 104.82V126.96M287.28 104.82H292.48M287.28 126.96H292.48M300.94 106.46V129.13M298.34 106.46H303.54M298.34 129.13H303.54M312.01 102.78V129.00M309.41 102.78H314.61M309.41 129.00H314.61M323.08 92.80V125.67M320.48 92.80H325.68M320.48 125.67H325.68M334.15 86.78V123.12M331.55 86.78H336.75M331.55 123.12H336.75M345.22 90.94V123.72M342.62 90.94H347.82M342.62 123.72H347.82M356.29 100.82V127.16M353.69 100.82H358.89M353.69 127.16H358.89M367.36 105.50V128.19M364.76 105.50H369.96M364.76 128.19H369.96M378.42 104.87V126.91M375.82 104.87H381.02M375.82 126.91H381.02M389.49 101.50V123.62M386.89 101.50H392.09M386.89 123.62H392.09M400.56 99.15V121.21M397.96 99.15H403.16M397.96 121.21H403.16M411.63 98.18V120.28M409.03 98.18H414.23M409.03 120.28H414.23M422.70 94.22V116.63M420.10 94.22H425.30M420.10 116.63H425.30M433.77 88.74V111.45M431.17 88.74H436.37M431.17 111.45H436.37M444.83 79.55V102.75M442.23 79.55H447.43M442.23 102.75H447.43M455.90 67.03V90.53M453.30 67.03H458.50M453.30 90.53H458.50" fill="none" stroke="#000000" stroke-width="1.0"/>
<path d="M209.80 78.78A2.60 2.60 0 1 0 215.00 78.78A2.60 2.60 0 1 0 209.80 78.78ZM220.87 91.15A2.60 2.60 0 1 0 226.07 91.15A2.60 2.60 0 1 0 220.87 91.15ZM231.93 100.67A2.60 2.60 0 1 0 237.13 100.67A2.60 2.60 0 1 0 231.93 100.67ZM243.00 105.43A2.60 2.60 0 1 0 248.20 105.43A2.60 2.60 0 1 0 243.00 105.43ZM254.07 106.19A2.60 2.60 0 1 0 259.27 106.19A2.60 2.60 0 1 0 254.07 106.19ZM265.14 108.85A2.60 2.60 0 1 0 270.34 108.85A2.60 2.60 0 1 0 265.14 108.85ZM276.21 111.61A2.60 2.60 0 1 0 281.41 111.61A2.60 2.60 0 1 0 276.21 111.61ZM287.28 115.89A2.60 2.60 0 1 0 292.48 115.89A2.60 2.60 0 1 0 287.28 115.89ZM298.34 117.79A2.60 2.60 0 1 0 303.54 117.79A2.60 2.60 0 1 0 298.34 117.79ZM309.41 115.89A2.60 2.60 0 1 0 314.61 115.89A2.60 2.60 0 1 0 309.41 115.89ZM320.48 109.23A2.60 2.60 0 1 0 325.68 109.23A2.60 2.60 0 1 0 320.48 109.23ZM331.55 104.95A2.60 2.60 0 1 0 336.75 104.95A2.60 2.60 0 1 0 331.55 104.95ZM342.62 107.33A2.60 2.60 0 1 0 347.82 107.33A2.60 2.60 0 1 0 342.62 107.33ZM353.69 113.99A2.60 2.60 0 1 0 358.89 113.99A2.60 2.60 0 1 0 353.69 113.99ZM364.76 116.84A2.60 2.60 0 1 0 369.96 116.84A2.60 2.60 0 1 0 364.76 116.84ZM375.82 115.89A2.60 2.60 0 1 0 381.02 115.89A2.60 2.60 0 1 0 375.82 115.89ZM386.89 112.56A2.60 2.60 0 1 0 392.09 112.56A2.60 2.60 0 1 0 386.89 112.56ZM397.96 110.18A2.60 2.60 0 1 0 403.16 110.18A2.60 2.60 0 1 0 397.96 110.18ZM409.03 109.23A2.60 2.60 0 1 0 414.23 109.23A2.60 2.60 0 1 0 409.03 109.23ZM420.10 105.43A2.60 2.60 0 1 0 425.30 105.43A2.60 2.60 0 1 0 420.10 105.43ZM431.17 100.10A2.60 2.60 0 1 0 436.37 100.10A2.60 2.60 0 1 0 431.17 100.10ZM442.23 91.15A2.60 2.60 0 1 0 447.43 91.15A2.60 2.60 0 1 0 442.23 91.15ZM453.30 78.78A2.60 2.60 0 1 0 458.50 78.78A2.60 2.60 0 1 0 453.30 78.78Z" fill="none" stroke="#000000" stroke-width="1.0"/>
</g>
<path d="M229.0 133.97h5.0M439.3 133.97h-5.0M229.0 105.43h5.0M439.3 105.43h-5.0M229.0 76.88h5.0M439.3 76.88h-5.0M278.81 153.0v-5.0M278.81 57.85v5.0M334.15 153.0v-5.0M334.15 57.85v5.0M389.49 153.0v-5.0M389.49 57.85v5.0" stroke="#000" stroke-width="1" fill="none"/>
<rect x="229.0" y="57.85" width="210.3" height="95.15" fill="none" stroke="#000" stroke-width="1.2"/>
<g font-family="Liberation Serif, serif" font-size="21.6" fill="#000"><text x="221.9" y="140.87" text-anchor="end">0.16</text>
<text x="221.9" y="112.33" text-anchor="end">0.19</text>
<text x="221.9" y="83.78" text-anchor="end">0.22</text>
<text x="283.40" y="171.00" text-anchor="middle">0.1</text><path d="M261.26 165.24H269.09" stroke="#000" stroke-width="1.17" fill="none"/>
<text x="333.75" y="171.00" text-anchor="middle">0</text>
<text x="389.09" y="171.00" text-anchor="middle">0.1</text></g>
</svg>
</body></html>
